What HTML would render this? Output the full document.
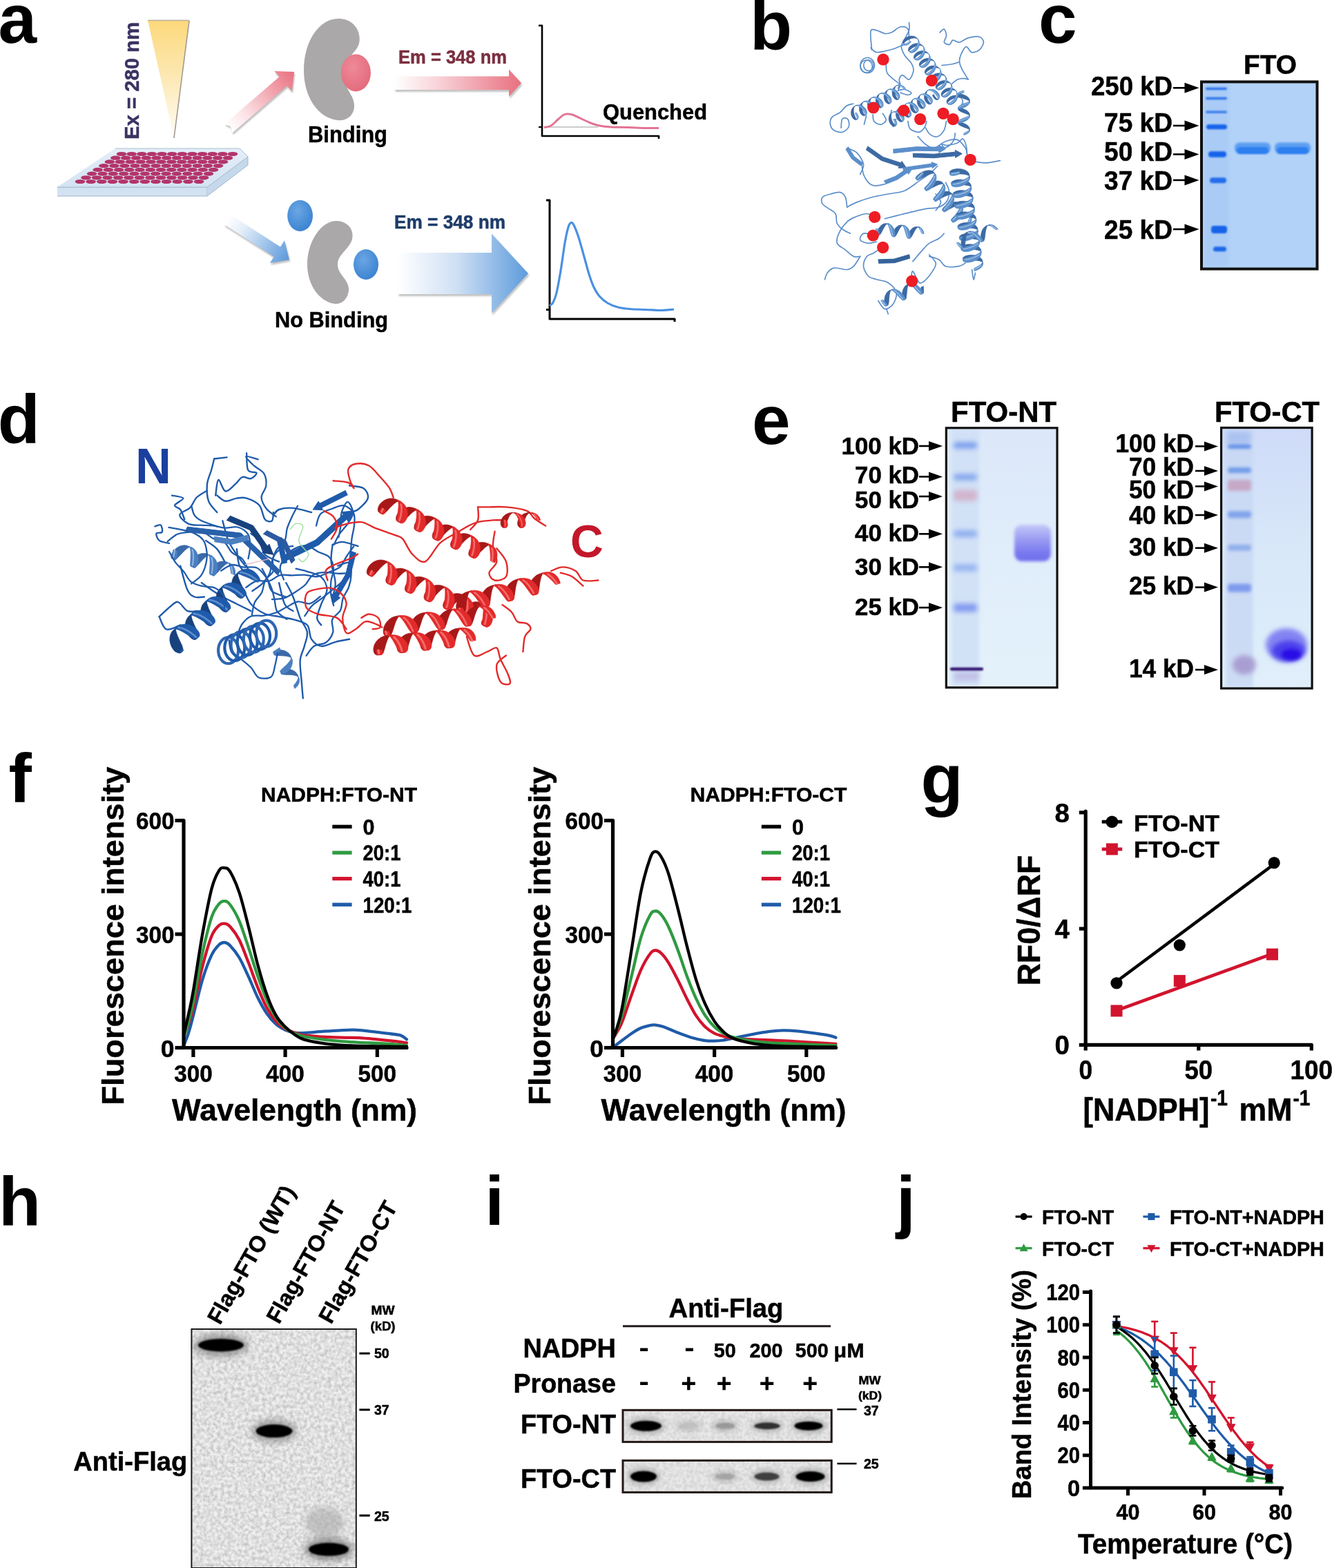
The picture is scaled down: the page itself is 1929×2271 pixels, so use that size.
<!DOCTYPE html>
<html><head><meta charset="utf-8"><title>FTO NADPH binding figure</title>
<style>
html,body{margin:0;padding:0;background:#fff;}
body{width:1929px;height:2271px;overflow:hidden;}
svg{display:block;font-family:'Liberation Sans', Arial, sans-serif;font-weight:bold;}
</style></head><body>
<svg width="1929" height="2271" viewBox="0 0 1929 2271">
<defs>
<linearGradient id="gWedge" x1="0" y1="0" x2="0" y2="1">
<stop offset="0" stop-color="#fcd97c"/><stop offset="0.45" stop-color="#fce7b0"/><stop offset="1" stop-color="#fffdf7"/></linearGradient>
<linearGradient id="gPinkH" x1="0" y1="0" x2="1" y2="0">
<stop offset="0" stop-color="#fff" stop-opacity="1"/><stop offset="0.35" stop-color="#f8d2d8"/><stop offset="1" stop-color="#e9707f"/></linearGradient>
<linearGradient id="gBlueH" x1="0" y1="0" x2="1" y2="0">
<stop offset="0" stop-color="#fff"/><stop offset="0.45" stop-color="#cfe0f4"/><stop offset="1" stop-color="#5d9bdc"/></linearGradient>
<radialGradient id="gPinkBall" cx="0.4" cy="0.35" r="0.7"><stop offset="0" stop-color="#ee8a98"/><stop offset="1" stop-color="#e36a7c"/></radialGradient>
<radialGradient id="gBlueBall" cx="0.4" cy="0.35" r="0.7"><stop offset="0" stop-color="#6aa6e4"/><stop offset="1" stop-color="#3a82d0"/></radialGradient>
<linearGradient id="gPlateTop" x1="0" y1="0" x2="0" y2="1"><stop offset="0" stop-color="#e4eef8"/><stop offset="1" stop-color="#d4e3f2"/></linearGradient>
<filter id="fShadow" x="-20%" y="-20%" width="140%" height="160%"><feGaussianBlur stdDeviation="1.2"/></filter>

<linearGradient id="gPinkD" gradientUnits="userSpaceOnUse" x1="331" y1="186" x2="426" y2="104"><stop offset="0" stop-color="#ffffff"/><stop offset="0.25" stop-color="#fbe3e6"/><stop offset="1" stop-color="#e9707f"/></linearGradient>
<linearGradient id="gBlueD" gradientUnits="userSpaceOnUse" x1="329" y1="318" x2="419" y2="376"><stop offset="0" stop-color="#ffffff"/><stop offset="0.25" stop-color="#e3eef9"/><stop offset="1" stop-color="#5a98da"/></linearGradient>
<filter id="fb1" x="-30%" y="-100%" width="160%" height="300%"><feGaussianBlur stdDeviation="1"/></filter>
<filter id="fb15" x="-30%" y="-100%" width="160%" height="300%"><feGaussianBlur stdDeviation="1.5"/></filter>
<filter id="fb2" x="-30%" y="-100%" width="160%" height="300%"><feGaussianBlur stdDeviation="2"/></filter>
<filter id="fb3" x="-30%" y="-100%" width="160%" height="300%"><feGaussianBlur stdDeviation="3.5"/></filter>
<filter id="fb5" x="-50%" y="-50%" width="200%" height="200%"><feGaussianBlur stdDeviation="5"/></filter>
<linearGradient id="gNT" x1="0" y1="0" x2="0" y2="1"><stop offset="0" stop-color="#dce8f9"/><stop offset="1" stop-color="#e4f2fb"/></linearGradient>
<linearGradient id="gNTb" x1="0" y1="0" x2="0" y2="1"><stop offset="0" stop-color="#c4c8f8"/><stop offset="0.45" stop-color="#9696f2"/><stop offset="0.8" stop-color="#7676ef"/><stop offset="1" stop-color="#7070ee"/></linearGradient>
<linearGradient id="gCT" x1="0" y1="0" x2="0" y2="1"><stop offset="0" stop-color="#cfdbf8"/><stop offset="0.5" stop-color="#d9e8f9"/><stop offset="1" stop-color="#e0effa"/></linearGradient>
<filter id="fnoise" x="0" y="0" width="100%" height="100%"><feTurbulence type="fractalNoise" baseFrequency="0.2" numOctaves="2" seed="3"/><feColorMatrix type="matrix" values="0 0 0 0 0  0 0 0 0 0  0 0 0 0 0  0 0 0 1.6 -0.5"/><feGaussianBlur stdDeviation="0.7"/></filter>
</defs>
<rect width="1929" height="2271" fill="#fff"/>
<text x="-2.5" y="62" font-size="100">a</text>
<text x="1086" y="71.5" font-size="100">b</text>
<text x="1504" y="61.5" font-size="100">c</text>
<text x="-3.2" y="642" font-size="100">d</text>
<text x="1089" y="642.5" font-size="100">e</text>
<text x="12.5" y="1161.5" font-size="100">f</text>
<text x="1333.4" y="1162.5" font-size="100">g</text>
<text x="-2" y="1774.5" font-size="100">h</text>
<text x="702.2" y="1774" font-size="100">i</text>
<text x="1298" y="1774" font-size="100">j</text>
<path d="M214 29.5 L274 29.5 L252 200" stroke="none" stroke-width="1" fill="url(#gWedge)"/>
<line x1="274" y1="30" x2="252" y2="200" stroke="#a09a90" stroke-width="1.6"/>
<line x1="214" y1="29.5" x2="274" y2="29.5" stroke="#b8b0a0" stroke-width="1.5"/>
<text x="201" y="202" font-size="29" fill="#3b3363" stroke="#3b3363" stroke-width="0.5" textLength="170" lengthAdjust="spacingAndGlyphs" transform="rotate(-90 201 202)">Ex = 280 nm</text>
<path d="M83 271 L300 271 L300 284 L83 284" stroke="#9fb4cb" stroke-width="1" fill="#d3e2f1"/>
<path d="M300 271 L359 227 L359 239 L300 284" stroke="#9fb4cb" stroke-width="1" fill="#c6d8eb"/>
<path d="M167 215 L347 215 L359 227 L300 271 L83 271" stroke="#a9bdd2" stroke-width="1" fill="url(#gPlateTop)"/>
<g fill="#b3346a"><ellipse cx="176" cy="223" rx="7.3" ry="3.1"/><ellipse cx="190.6" cy="223" rx="7.3" ry="3.1"/><ellipse cx="205.3" cy="223" rx="7.3" ry="3.1"/><ellipse cx="219.9" cy="223" rx="7.3" ry="3.1"/><ellipse cx="234.5" cy="223" rx="7.3" ry="3.1"/><ellipse cx="249.2" cy="223" rx="7.3" ry="3.1"/><ellipse cx="263.8" cy="223" rx="7.3" ry="3.1"/><ellipse cx="278.5" cy="223" rx="7.3" ry="3.1"/><ellipse cx="293.1" cy="223" rx="7.3" ry="3.1"/><ellipse cx="307.7" cy="223" rx="7.3" ry="3.1"/><ellipse cx="322.4" cy="223" rx="7.3" ry="3.1"/><ellipse cx="337" cy="223" rx="7.3" ry="3.1"/><ellipse cx="167.4" cy="228.7" rx="7.3" ry="3.1"/><ellipse cx="182.2" cy="228.7" rx="7.3" ry="3.1"/><ellipse cx="197" cy="228.7" rx="7.3" ry="3.1"/><ellipse cx="211.8" cy="228.7" rx="7.3" ry="3.1"/><ellipse cx="226.5" cy="228.7" rx="7.3" ry="3.1"/><ellipse cx="241.3" cy="228.7" rx="7.3" ry="3.1"/><ellipse cx="256.1" cy="228.7" rx="7.3" ry="3.1"/><ellipse cx="270.9" cy="228.7" rx="7.3" ry="3.1"/><ellipse cx="285.7" cy="228.7" rx="7.3" ry="3.1"/><ellipse cx="300.4" cy="228.7" rx="7.3" ry="3.1"/><ellipse cx="315.2" cy="228.7" rx="7.3" ry="3.1"/><ellipse cx="330" cy="228.7" rx="7.3" ry="3.1"/><ellipse cx="158.9" cy="234.4" rx="7.3" ry="3.1"/><ellipse cx="173.8" cy="234.4" rx="7.3" ry="3.1"/><ellipse cx="188.7" cy="234.4" rx="7.3" ry="3.1"/><ellipse cx="203.6" cy="234.4" rx="7.3" ry="3.1"/><ellipse cx="218.5" cy="234.4" rx="7.3" ry="3.1"/><ellipse cx="233.5" cy="234.4" rx="7.3" ry="3.1"/><ellipse cx="248.4" cy="234.4" rx="7.3" ry="3.1"/><ellipse cx="263.3" cy="234.4" rx="7.3" ry="3.1"/><ellipse cx="278.2" cy="234.4" rx="7.3" ry="3.1"/><ellipse cx="293.2" cy="234.4" rx="7.3" ry="3.1"/><ellipse cx="308.1" cy="234.4" rx="7.3" ry="3.1"/><ellipse cx="323" cy="234.4" rx="7.3" ry="3.1"/><ellipse cx="150.3" cy="240.1" rx="7.3" ry="3.1"/><ellipse cx="165.4" cy="240.1" rx="7.3" ry="3.1"/><ellipse cx="180.4" cy="240.1" rx="7.3" ry="3.1"/><ellipse cx="195.5" cy="240.1" rx="7.3" ry="3.1"/><ellipse cx="210.5" cy="240.1" rx="7.3" ry="3.1"/><ellipse cx="225.6" cy="240.1" rx="7.3" ry="3.1"/><ellipse cx="240.7" cy="240.1" rx="7.3" ry="3.1"/><ellipse cx="255.7" cy="240.1" rx="7.3" ry="3.1"/><ellipse cx="270.8" cy="240.1" rx="7.3" ry="3.1"/><ellipse cx="285.9" cy="240.1" rx="7.3" ry="3.1"/><ellipse cx="300.9" cy="240.1" rx="7.3" ry="3.1"/><ellipse cx="316" cy="240.1" rx="7.3" ry="3.1"/><ellipse cx="141.7" cy="245.9" rx="7.3" ry="3.1"/><ellipse cx="156.9" cy="245.9" rx="7.3" ry="3.1"/><ellipse cx="172.1" cy="245.9" rx="7.3" ry="3.1"/><ellipse cx="187.3" cy="245.9" rx="7.3" ry="3.1"/><ellipse cx="202.5" cy="245.9" rx="7.3" ry="3.1"/><ellipse cx="217.8" cy="245.9" rx="7.3" ry="3.1"/><ellipse cx="233" cy="245.9" rx="7.3" ry="3.1"/><ellipse cx="248.2" cy="245.9" rx="7.3" ry="3.1"/><ellipse cx="263.4" cy="245.9" rx="7.3" ry="3.1"/><ellipse cx="278.6" cy="245.9" rx="7.3" ry="3.1"/><ellipse cx="293.8" cy="245.9" rx="7.3" ry="3.1"/><ellipse cx="309" cy="245.9" rx="7.3" ry="3.1"/><ellipse cx="133.1" cy="251.6" rx="7.3" ry="3.1"/><ellipse cx="148.5" cy="251.6" rx="7.3" ry="3.1"/><ellipse cx="163.8" cy="251.6" rx="7.3" ry="3.1"/><ellipse cx="179.2" cy="251.6" rx="7.3" ry="3.1"/><ellipse cx="194.5" cy="251.6" rx="7.3" ry="3.1"/><ellipse cx="209.9" cy="251.6" rx="7.3" ry="3.1"/><ellipse cx="225.2" cy="251.6" rx="7.3" ry="3.1"/><ellipse cx="240.6" cy="251.6" rx="7.3" ry="3.1"/><ellipse cx="255.9" cy="251.6" rx="7.3" ry="3.1"/><ellipse cx="271.3" cy="251.6" rx="7.3" ry="3.1"/><ellipse cx="286.6" cy="251.6" rx="7.3" ry="3.1"/><ellipse cx="302" cy="251.6" rx="7.3" ry="3.1"/><ellipse cx="124.6" cy="257.3" rx="7.3" ry="3.1"/><ellipse cx="140.1" cy="257.3" rx="7.3" ry="3.1"/><ellipse cx="155.6" cy="257.3" rx="7.3" ry="3.1"/><ellipse cx="171.1" cy="257.3" rx="7.3" ry="3.1"/><ellipse cx="186.5" cy="257.3" rx="7.3" ry="3.1"/><ellipse cx="202" cy="257.3" rx="7.3" ry="3.1"/><ellipse cx="217.5" cy="257.3" rx="7.3" ry="3.1"/><ellipse cx="233" cy="257.3" rx="7.3" ry="3.1"/><ellipse cx="248.5" cy="257.3" rx="7.3" ry="3.1"/><ellipse cx="264" cy="257.3" rx="7.3" ry="3.1"/><ellipse cx="279.5" cy="257.3" rx="7.3" ry="3.1"/><ellipse cx="295" cy="257.3" rx="7.3" ry="3.1"/><ellipse cx="116" cy="263" rx="7.3" ry="3.1"/><ellipse cx="131.6" cy="263" rx="7.3" ry="3.1"/><ellipse cx="147.3" cy="263" rx="7.3" ry="3.1"/><ellipse cx="162.9" cy="263" rx="7.3" ry="3.1"/><ellipse cx="178.5" cy="263" rx="7.3" ry="3.1"/><ellipse cx="194.2" cy="263" rx="7.3" ry="3.1"/><ellipse cx="209.8" cy="263" rx="7.3" ry="3.1"/><ellipse cx="225.5" cy="263" rx="7.3" ry="3.1"/><ellipse cx="241.1" cy="263" rx="7.3" ry="3.1"/><ellipse cx="256.7" cy="263" rx="7.3" ry="3.1"/><ellipse cx="272.4" cy="263" rx="7.3" ry="3.1"/><ellipse cx="288" cy="263" rx="7.3" ry="3.1"/></g>
<path d="M337.8 195.2 L416.9 127 L424 135.3 L427.2 106.8 L398.6 105.8 L405.7 114.1 L326.6 182.4 L335.2 186.2" stroke="none" stroke-width="1" fill="#8a8a8a" opacity="0.55" filter="url(#fShadow)"/>
<path d="M336.6 192.4 L415.7 124.2 L422.8 132.5 L426 104 L397.4 103 L404.5 111.3 L325.4 179.6 L334 183.4" stroke="none" stroke-width="1" fill="url(#gPinkD)"/>
<path d="M325.6 327.9 L397.9 374.6 L392 383.8 L420.2 378.8 L413.1 351 L407.2 360.3 L334.8 313.7 L333.6 323" stroke="none" stroke-width="1" fill="#8a8a8a" opacity="0.55" filter="url(#fShadow)"/>
<path d="M324.4 325.1 L396.7 371.8 L390.8 381 L419 376 L411.9 348.2 L406 357.5 L333.6 310.9 L332.4 320.2" stroke="none" stroke-width="1" fill="url(#gBlueD)"/>
<path d="M572.5 113.5 L738.5 113.5 L738.5 103.5 L756.5 123.3 L738.5 143.1 L738.5 133.1 L572.5 133.1" stroke="none" stroke-width="1" fill="#8a8a8a" opacity="0.5" filter="url(#fShadow)"/>
<path d="M571 110.5 L737 110.5 L737 100.5 L755 120.3 L737 140.1 L737 130.1 L571 130.1" stroke="none" stroke-width="1" fill="url(#gPinkH)"/>
<path d="M577.5 369 L713.5 369 L713.5 341.5 L766.5 399 L713.5 456.5 L713.5 429 L577.5 429" stroke="none" stroke-width="1" fill="#8a8a8a" opacity="0.5" filter="url(#fShadow)"/>
<path d="M576 366 L712 366 L712 338.5 L765 396 L712 453.5 L712 426 L576 426" stroke="none" stroke-width="1" fill="url(#gBlueH)"/>
<path d="M490 27 C515 27 525 50 519 66 C512 80 496 88 495 104 C494 122 512 135 513 152 C514 168 500 176 488 174 C460 170 440 140 440 102 C440 60 462 27 490 27Z" stroke="none" stroke-width="1" fill="#aaa8a8"/>
<path d="M487 320 C503 320 513 332 510 346 C507 360 489 368 489 383 C489 398 506 405 505 420 C504 434 494 441 485 440 C462 437 445 412 445 383 C445 350 465 320 487 320Z" stroke="none" stroke-width="1" fill="#aaa8a8"/>
<ellipse cx="515.4" cy="105.4" rx="21.5" ry="27" fill="url(#gPinkBall)"/>
<ellipse cx="434.6" cy="312.4" rx="18.4" ry="22.7" fill="url(#gBlueBall)"/>
<ellipse cx="530" cy="383" rx="18" ry="22" fill="url(#gBlueBall)"/>
<text x="446" y="206.3" font-size="32.5" stroke="#000" stroke-width="0.5" textLength="115" lengthAdjust="spacingAndGlyphs">Binding</text>
<text x="577" y="92" font-size="27" fill="#7a2f40" stroke="#7a2f40" stroke-width="0.5" textLength="157" lengthAdjust="spacingAndGlyphs">Em = 348 nm</text>
<text x="873" y="173" font-size="32" stroke="#000" stroke-width="0.5" textLength="151" lengthAdjust="spacingAndGlyphs">Quenched</text>
<text x="398" y="474" font-size="32" stroke="#000" stroke-width="0.5" textLength="164" lengthAdjust="spacingAndGlyphs">No Binding</text>
<text x="571" y="331" font-size="28" fill="#1e3c6a" stroke="#1e3c6a" stroke-width="0.5" textLength="161" lengthAdjust="spacingAndGlyphs">Em = 348 nm</text>
<path d="M785 37 L785 197 L954 197" stroke="#000" stroke-width="2.6" fill="none" stroke-linejoin="round" stroke-linecap="round"/>
<line x1="780" y1="37" x2="785" y2="37" stroke="#000" stroke-width="2.6"/>
<line x1="780" y1="184" x2="785" y2="184" stroke="#000" stroke-width="2.2"/>
<line x1="954" y1="197" x2="954" y2="201" stroke="#000" stroke-width="2.6"/>
<line x1="789" y1="184" x2="866" y2="184" stroke="#9a9a9a" stroke-width="1"/>
<path d="M788 184.5 C789.7 184.1 794.7 183.9 798 182 C801.3 180.1 805 175.6 808 173 C811 170.4 813.7 167.8 816 166.5 C818.3 165.2 819.7 165 822 165 C824.3 165 826.7 165.3 830 166.5 C833.3 167.7 837.8 170.1 842 172 C846.2 173.9 850.7 176.3 855 178 C859.3 179.7 863 181 868 182 C873 183 878 183.6 885 184 C892 184.4 901.7 184.2 910 184.5 C918.3 184.8 927.7 185.3 935 185.5 C942.3 185.7 950.8 185.5 954 185.5" stroke="#e27494" stroke-width="3" fill="none"/>
<path d="M796 290 L796 462 L977 462" stroke="#000" stroke-width="3" fill="none" stroke-linejoin="round" stroke-linecap="round"/>
<line x1="791" y1="290" x2="796" y2="290" stroke="#000" stroke-width="3"/>
<line x1="791" y1="448.5" x2="796" y2="448.5" stroke="#000" stroke-width="3"/>
<line x1="977" y1="462" x2="977" y2="466" stroke="#000" stroke-width="3"/>
<path d="M796 443 C796.8 442.2 799.3 441.2 801 438 C802.7 434.8 804.2 431.7 806 424 C807.8 416.3 810 404 812 392 C814 380 816.2 362.5 818 352 C819.8 341.5 821.5 333.9 823 329 C824.5 324.1 825.7 323 827 322.5 C828.3 322 829.2 322.4 831 326 C832.8 329.6 835.5 336.3 838 344 C840.5 351.7 843.5 363.2 846 372 C848.5 380.8 850.7 389.7 853 397 C855.3 404.3 857.5 410.7 860 416 C862.5 421.3 864.7 425.2 868 429 C871.3 432.8 875.5 436.3 880 439 C884.5 441.7 889.7 443.6 895 445 C900.3 446.4 905.3 446.9 912 447.5 C918.7 448.1 927.3 448.2 935 448.5 C942.7 448.8 951.2 449.6 958 449.5 C964.8 449.4 973 448.2 976 448" stroke="#4a90e2" stroke-width="3.2" fill="none"/>
<path d="M1262.5 72.4 C1262.3 67.9 1259.9 50.2 1261 45.4 C1262 40.6 1265.4 43.3 1268.9 43.8 C1272.3 44.3 1277.9 48 1281.6 48.6 C1285.3 49.1 1287.4 48.6 1291.1 47 C1294.8 45.4 1299.8 39.8 1303.8 39 C1307.8 38.3 1312.8 39 1314.9 42.2 C1317 45.4 1316.2 55.4 1316.5 58.1" stroke="#5b8fcb" stroke-width="1.7" fill="none" stroke-linecap="round" stroke-linejoin="round"/>
<path d="M1261 69.2 C1262.3 70.3 1265.4 74.8 1268.9 75.6 C1272.3 76.3 1277.4 74.8 1281.6 74 C1285.8 73.2 1289.5 72.4 1294.3 70.8 C1299 69.2 1307.5 65.5 1310.2 64.4" stroke="#5b8fcb" stroke-width="1.7" fill="none" stroke-linecap="round" stroke-linejoin="round"/>
<path d="M1316.5 32.7 C1316.5 34.6 1317.6 39.8 1316.5 43.8 C1315.4 47.8 1312 52.5 1310.2 56.5 C1308.3 60.5 1305.4 63.7 1305.4 67.6 C1305.4 71.6 1307.8 76.3 1310.2 80.3 C1312.5 84.3 1317.6 87.7 1319.7 91.4 C1321.8 95.1 1323.4 98.6 1322.9 102.5 C1322.3 106.5 1319.2 114.2 1316.5 115.2 C1313.9 116.3 1309.4 108.9 1307 108.9 C1304.6 108.9 1302.8 112.9 1302.2 115.2 C1301.7 117.6 1304.1 120.5 1303.8 123.2 C1303.5 125.8 1301.2 129.8 1300.6 131.1" stroke="#5b8fcb" stroke-width="1.7" fill="none" stroke-linecap="round" stroke-linejoin="round"/>
<path d="M1361 47 C1362 46.2 1365.7 41.4 1367.3 42.2 C1368.9 43 1370.5 48.6 1370.5 51.7 C1370.5 54.9 1366.5 59.2 1367.3 61.3 C1368.1 63.4 1373.1 65 1375.2 64.4 C1377.4 63.9 1377.6 58.6 1380 58.1 C1382.4 57.6 1385.8 61.8 1389.5 61.3 C1393.2 60.7 1397.5 56.2 1402.2 54.9 C1407 53.6 1414.4 52.3 1418.1 53.3 C1421.8 54.4 1424.4 58.1 1424.4 61.3 C1424.4 64.4 1421 70 1418.1 72.4 C1415.2 74.8 1410.2 76.3 1407 75.6 C1403.8 74.8 1401.7 66.8 1399 67.6 C1396.4 68.4 1392.7 76.6 1391.1 80.3 C1389.5 84 1389.3 86.7 1389.5 89.8 C1389.8 93 1390.6 95.1 1392.7 99.4 C1394.8 103.6 1400.6 112.6 1402.2 115.2" stroke="#5b8fcb" stroke-width="1.7" fill="none" stroke-linecap="round" stroke-linejoin="round"/>
<path d="M1364.1 94.6 C1366.5 94.3 1374.2 93.8 1378.4 93 C1382.6 92.2 1387.7 90.4 1389.5 89.8" stroke="#5b8fcb" stroke-width="1.7" fill="none" stroke-linecap="round" stroke-linejoin="round"/>
<path d="M1283.2 93 C1283.4 95.1 1282.9 102 1284.8 105.7 C1286.6 109.4 1291.4 112.6 1294.3 115.2 C1297.2 117.9 1301.2 119.5 1302.2 121.6 C1303.3 123.7 1300.9 126.9 1300.6 127.9" stroke="#5b8fcb" stroke-width="1.7" fill="none" stroke-linecap="round" stroke-linejoin="round"/>
<path d="M1378.4 121.6 C1379.7 120.5 1383.4 116.6 1386.3 115.2 C1389.3 113.9 1393.2 113.7 1395.9 113.7 C1398.5 113.7 1401.2 115 1402.2 115.2" stroke="#5b8fcb" stroke-width="1.7" fill="none" stroke-linecap="round" stroke-linejoin="round"/>
<path d="M1235.6 150.2 C1234 150.7 1229.2 151.2 1226 153.3 C1222.9 155.4 1219.9 160.2 1216.5 162.9 C1213.1 165.5 1207.8 166.6 1205.4 169.2 C1203 171.9 1202 175.6 1202.2 178.7 C1202.5 181.9 1204.1 186.1 1207 188.3 C1209.9 190.4 1216 192.2 1219.7 191.4 C1223.4 190.6 1227.9 186.7 1229.2 183.5 C1230.5 180.3 1229.2 174.2 1227.6 172.4 C1226 170.5 1221.3 170.3 1219.7 172.4 C1218.1 174.5 1218.4 183 1218.1 185.1" stroke="#5b8fcb" stroke-width="1.7" fill="none" stroke-linecap="round" stroke-linejoin="round"/>
<path d="M1254.6 167.6 L1251.4 180.3" stroke="#5b8fcb" stroke-width="1.7" fill="none" stroke-linecap="round" stroke-linejoin="round"/>
<path d="M1264.1 166 C1264.4 167.6 1263.9 173.2 1265.7 175.6 C1267.6 177.9 1272.3 180.6 1275.2 180.3 C1278.1 180.1 1282.6 176.6 1283.2 174 C1283.7 171.3 1279.2 166 1278.4 164.4" stroke="#5b8fcb" stroke-width="1.7" fill="none" stroke-linecap="round" stroke-linejoin="round"/>
<path d="M1291.1 159.7 C1290.8 161.8 1289 168.4 1289.5 172.4 C1290.1 176.3 1293 183.5 1294.3 183.5 C1295.6 183.5 1296.9 174.2 1297.5 172.4" stroke="#5b8fcb" stroke-width="1.7" fill="none" stroke-linecap="round" stroke-linejoin="round"/>
<path d="M1314.9 175.6 C1315.4 177.4 1315.4 184 1318.1 186.7 C1320.7 189.3 1327.4 191.7 1330.8 191.4 C1334.2 191.2 1336.9 187.7 1338.7 185.1 C1340.6 182.4 1341.4 177.1 1341.9 175.6" stroke="#5b8fcb" stroke-width="1.7" fill="none" stroke-linecap="round" stroke-linejoin="round"/>
<path d="M1340.3 185.1 C1341.4 186.7 1343.8 192.5 1346.7 194.6 C1349.6 196.7 1354.3 198.8 1357.8 197.8 C1361.2 196.7 1365.2 192 1367.3 188.3 C1369.4 184.6 1369.9 177.7 1370.5 175.6" stroke="#5b8fcb" stroke-width="1.7" fill="none" stroke-linecap="round" stroke-linejoin="round"/>
<path d="M1383.2 193 C1382.9 194.6 1382.9 199.6 1381.6 202.5 C1380.3 205.4 1377.6 208.6 1375.2 210.5 C1372.9 212.3 1369.2 213.9 1367.3 213.7 C1365.4 213.4 1363.6 209.4 1364.1 208.9 C1364.7 208.4 1366.8 210.7 1370.5 210.5 C1374.2 210.2 1382.4 208.9 1386.3 207.3 C1390.3 205.7 1392.2 200.4 1394.3 201 C1396.4 201.5 1398 206.8 1399 210.5 C1400.1 214.2 1400.4 221.1 1400.6 223.2" stroke="#5b8fcb" stroke-width="1.7" fill="none" stroke-linecap="round" stroke-linejoin="round"/>
<path d="M1413.3 234.3 C1415.7 234.6 1421.8 236.1 1427.6 235.9 C1433.4 235.6 1444.8 233.2 1448.3 232.7" stroke="#5b8fcb" stroke-width="1.7" fill="none" stroke-linecap="round" stroke-linejoin="round"/>
<path d="M1300.6 131.1 C1302.2 130.8 1307 129 1310.2 129.5 C1313.3 130.1 1318.9 133 1319.7 134.3 C1320.5 135.6 1317.6 137.5 1314.9 137.5 C1312.3 137.5 1305.7 134.8 1303.8 134.3" stroke="#5b8fcb" stroke-width="1.7" fill="none" stroke-linecap="round" stroke-linejoin="round"/>
<path d="M1248.1 238.1 C1248.5 240.5 1248.9 248 1250.5 252.4 C1252.1 256.7 1254.8 261.5 1257.6 264.3 C1260.4 267.1 1263.2 268.7 1267.1 269 C1271.1 269.4 1279 267.1 1281.4 266.7" stroke="#5b8fcb" stroke-width="1.7" fill="none" stroke-linecap="round" stroke-linejoin="round"/>
<path d="M1357.6 240.5 C1356 242.1 1352.5 246.4 1348.1 250 C1343.7 253.6 1337.8 257.5 1331.4 261.9 C1325.1 266.3 1317.5 273 1310 276.2 C1302.5 279.4 1294.1 279.4 1286.2 281 C1278.3 282.5 1269.9 283.7 1262.4 285.7 C1254.8 287.7 1246.9 290.5 1241 292.9 C1235 295.2 1229 298.8 1226.7 300" stroke="#5b8fcb" stroke-width="1.7" fill="none" stroke-linecap="round" stroke-linejoin="round"/>
<path d="M1226.7 300 C1226.3 297.6 1225.9 289.3 1224.3 285.7 C1222.7 282.1 1220.7 279.4 1217.1 278.6 C1213.6 277.8 1207.2 279.8 1202.9 281 C1198.5 282.1 1192.9 283.3 1191 285.7 C1189 288.1 1189.4 292.5 1191 295.2 C1192.5 298 1197.3 300 1200.5 302.4 C1203.7 304.8 1208 306 1210 309.5 C1212 313.1 1210.4 319.8 1212.4 323.8 C1214.4 327.8 1218.7 331 1221.9 333.3 C1225.1 335.7 1229.8 337.3 1231.4 338.1" stroke="#5b8fcb" stroke-width="1.7" fill="none" stroke-linecap="round" stroke-linejoin="round"/>
<path d="M1369.5 264.3 C1370.3 266.3 1373.9 271.8 1374.3 276.2 C1374.7 280.6 1374.3 286.5 1371.9 290.5 C1369.5 294.4 1365.2 298 1360 300 C1354.8 302 1347.7 301.2 1341 302.4 C1334.2 303.6 1326.3 305.6 1319.5 307.1 C1312.8 308.7 1306.8 310.3 1300.5 311.9 C1294.1 313.5 1284.6 315.9 1281.4 316.7" stroke="#5b8fcb" stroke-width="1.7" fill="none" stroke-linecap="round" stroke-linejoin="round"/>
<path d="M1267.1 314.3 C1265.2 313.5 1260 309.5 1255.2 309.5 C1250.5 309.5 1243.3 312.3 1238.6 314.3 C1233.8 316.3 1230.6 317.5 1226.7 321.4 C1222.7 325.4 1217.1 332.9 1214.8 338.1 C1212.4 343.3 1210.8 348.4 1212.4 352.4 C1214 356.3 1220.3 358.7 1224.3 361.9 C1228.3 365.1 1232.6 369.8 1236.2 371.4 C1239.8 373 1244.1 371.4 1245.7 371.4" stroke="#5b8fcb" stroke-width="1.7" fill="none" stroke-linecap="round" stroke-linejoin="round"/>
<path d="M1245.7 371.4 C1244.1 373.8 1239.4 382.5 1236.2 385.7 C1233 388.9 1231.4 390.1 1226.7 390.5 C1221.9 390.9 1212.4 387.3 1207.6 388.1 C1202.9 388.9 1200.3 392.5 1198.1 395.2 C1195.9 398 1195.1 403.2 1194.5 404.8" stroke="#5b8fcb" stroke-width="1.7" fill="none" stroke-linecap="round" stroke-linejoin="round"/>
<path d="M1264.8 340.5 C1262.4 340.1 1253.7 336.9 1250.5 338.1 C1247.3 339.3 1244.5 345.2 1245.7 347.6 C1246.9 350 1253.7 352 1257.6 352.4 C1261.6 352.8 1267.5 350.4 1269.5 350" stroke="#5b8fcb" stroke-width="1.7" fill="none" stroke-linecap="round" stroke-linejoin="round"/>
<path d="M1279 357.1 C1276.7 358.7 1268.7 364.3 1264.8 366.7 C1260.8 369 1257.6 368.3 1255.2 371.4 C1252.9 374.6 1250.1 381 1250.5 385.7 C1250.9 390.5 1254.4 396.8 1257.6 400 C1260.8 403.2 1264.8 403.2 1269.5 404.8 C1274.3 406.3 1281.4 406.3 1286.2 409.5 C1291 412.7 1296.9 418.7 1298.1 423.8 C1299.3 429 1296.1 436.5 1293.3 440.5 C1290.6 444.4 1285 448.4 1281.4 447.6 C1277.9 446.8 1273.5 437.7 1271.9 435.7" stroke="#5b8fcb" stroke-width="1.7" fill="none" stroke-linecap="round" stroke-linejoin="round"/>
<path d="M1321.9 378.6 C1324.3 375.8 1332.2 366.3 1336.2 361.9 C1340.2 357.5 1341.7 355.2 1345.7 352.4 C1349.7 349.6 1356.4 347.6 1360 345.2 C1363.6 342.9 1366 339.3 1367.1 338.1" stroke="#5b8fcb" stroke-width="1.7" fill="none" stroke-linecap="round" stroke-linejoin="round"/>
<path d="M1345.7 369 C1347.3 371 1354.4 377 1355.2 381 C1356 384.9 1352.9 388.9 1350.5 392.9 C1348.1 396.8 1344.1 402 1341 404.8 C1337.8 407.5 1334.6 411.5 1331.4 409.5 C1328.3 407.5 1323.9 393.7 1321.9 392.9 C1319.9 392.1 1319.9 402.8 1319.5 404.8" stroke="#5b8fcb" stroke-width="1.7" fill="none" stroke-linecap="round" stroke-linejoin="round"/>
<path d="M1345.7 371.4 C1348.1 372.2 1356 373.8 1360 376.2 C1364 378.6 1364.8 384.1 1369.5 385.7 C1374.3 387.3 1383.8 386.5 1388.6 385.7 C1393.3 384.9 1396.5 381.7 1398.1 381" stroke="#5b8fcb" stroke-width="1.7" fill="none" stroke-linecap="round" stroke-linejoin="round"/>
<path d="M1407.6 390.5 C1408 392.9 1409.2 404 1410 404.8 C1410.8 405.6 1412 396.8 1412.4 395.2" stroke="#5b8fcb" stroke-width="1.7" fill="none" stroke-linecap="round" stroke-linejoin="round"/>
<path d="M1283.8 447.6 L1286.2 454.8" stroke="#5b8fcb" stroke-width="1.7" fill="none" stroke-linecap="round" stroke-linejoin="round"/>
<path d="M1226.7 214.3 C1229 215.5 1237 217.5 1241 221.4 C1244.9 225.4 1249.7 232.9 1250.5 238.1 C1251.3 243.3 1246.5 250 1245.7 252.4" stroke="#5b8fcb" stroke-width="1.7" fill="none" stroke-linecap="round" stroke-linejoin="round"/>
<path d="M1329 197.6 C1331 199.6 1337 206.7 1341 209.5 C1344.9 212.3 1348.1 215.1 1352.9 214.3 C1357.6 213.5 1364 206.7 1369.5 204.8 C1375.1 202.8 1381.4 200.8 1386.2 202.4 C1391 204 1395.7 210.7 1398.1 214.3 C1400.5 217.9 1400.1 222.2 1400.5 223.8" stroke="#5b8fcb" stroke-width="1.7" fill="none" stroke-linecap="round" stroke-linejoin="round"/>
<path d="M1355.2 281 C1356.4 282.9 1362.4 288.9 1362.4 292.9 C1362.4 296.8 1356.4 302.8 1355.2 304.8" stroke="#5b8fcb" stroke-width="1.7" fill="none" stroke-linecap="round" stroke-linejoin="round"/>
<ellipse cx="1256.2" cy="94.6" rx="10.3" ry="11.1" fill="none" stroke="#5b8fcb" stroke-width="1.6"/>
<ellipse cx="1254.6" cy="96.2" rx="8.7" ry="9.2" fill="none" stroke="#5b8fcb" stroke-width="1.6"/>
<ellipse cx="1257.8" cy="94.6" rx="7.1" ry="7.9" fill="none" stroke="#5b8fcb" stroke-width="1.6"/>
<path d="M1308.6 63.6 L1309 62.8 L1309.7 61.7 L1310.9 60.5 L1312.4 59.2 L1314.3 58 L1316.4 56.9 L1318.6 56 L1320.9 55.4 L1323.1 55 L1325.2 55 L1327 55.4 L1328.5 56.1 L1329.6 57.2 L1330.7 59.1 L1329.7 57.7 L1329 56.3 L1327.5 54.7 L1325.6 53.4 L1323.4 52.6 L1321 52.2 L1318.6 52.2 L1316.2 52.7 L1313.9 53.5 L1311.9 54.7 L1310.1 56.1 L1308.8 57.7 L1307.9 59.3 L1307.5 60.8 L1307.6 62.2ZM1316.6 74.4 L1316.9 73.5 L1317.6 72.4 L1318.8 71.2 L1320.4 70 L1322.2 68.8 L1324.3 67.7 L1326.6 66.8 L1328.8 66.1 L1331.1 65.8 L1333.1 65.8 L1335 66.1 L1336.5 66.9 L1337.6 67.9 L1338.7 69.9 L1337.6 68.5 L1336.9 67.1 L1335.4 65.5 L1333.5 64.2 L1331.3 63.3 L1329 62.9 L1326.5 63 L1324.1 63.5 L1321.8 64.3 L1319.8 65.5 L1318.1 66.9 L1316.7 68.4 L1315.9 70 L1315.5 71.6 L1315.5 73ZM1324.5 85.2 L1324.8 84.3 L1325.6 83.2 L1326.8 82 L1328.3 80.7 L1330.2 79.5 L1332.3 78.4 L1334.5 77.5 L1336.8 76.9 L1339 76.5 L1341.1 76.5 L1342.9 76.9 L1344.4 77.6 L1345.5 78.7 L1344.9 77.9 L1343.3 76.2 L1341.5 74.9 L1339.3 74.1 L1336.9 73.7 L1334.5 73.7 L1332.1 74.2 L1329.8 75.1 L1327.7 76.2 L1326 77.6 L1324.7 79.2 L1323.8 80.8 L1323.4 82.3 L1323.5 83.8ZM1332.4 95.9 L1332.8 95 L1333.5 94 L1334.7 92.8 L1336.2 91.5 L1338.1 90.3 L1340.2 89.2 L1342.4 88.3 L1344.7 87.6 L1346.9 87.3 L1349 87.3 L1350.8 87.7 L1352.3 88.4 L1353.4 89.5 L1352.8 88.6 L1351.3 87 L1349.4 85.7 L1347.2 84.9 L1344.9 84.5 L1342.4 84.5 L1340 85 L1337.7 85.8 L1335.7 87 L1333.9 88.4 L1332.6 89.9 L1331.7 91.5 L1331.3 93.1 L1331.4 94.5ZM1340.4 106.7 L1340.7 105.8 L1341.5 104.7 L1342.6 103.5 L1344.2 102.3 L1346 101.1 L1348.1 100 L1350.4 99 L1352.7 98.4 L1354.9 98 L1356.9 98 L1358.8 98.4 L1360.3 99.1 L1361.4 100.2 L1360.8 99.4 L1359.2 97.7 L1357.3 96.5 L1355.1 95.6 L1352.8 95.2 L1350.3 95.3 L1347.9 95.7 L1345.6 96.6 L1343.6 97.7 L1341.9 99.1 L1340.5 100.7 L1339.7 102.3 L1339.3 103.9 L1339.3 105.3ZM1348.4 118.1 L1348.3 117.4 L1348.6 116.6 L1349.4 115.5 L1350.6 114.3 L1352.1 113 L1354 111.8 L1356.1 110.7 L1358.3 109.8 L1360.6 109.2 L1362.8 108.8 L1364.9 108.8 L1366.7 109.2 L1368.2 109.9 L1369.3 111 L1370.4 112.9 L1369.4 111.5 L1368.7 110.1 L1367.2 108.5 L1365.3 107.2 L1363.1 106.4 L1360.7 106 L1358.3 106 L1355.9 106.5 L1353.6 107.3 L1351.5 108.5 L1349.8 109.9 L1348.5 111.4 L1347.6 113.1 L1347.2 114.6 L1347.3 116 L1347.8 117.2ZM1356.4 128.8 L1356.3 128.2 L1356.6 127.3 L1357.3 126.2 L1358.5 125 L1360.1 123.8 L1361.9 122.6 L1364 121.5 L1366.2 120.6 L1368.5 119.9 L1370.7 119.6 L1372.8 119.6 L1374.6 119.9 L1376.1 120.7 L1377.3 121.7 L1378.4 123.7 L1377.3 122.3 L1376.6 120.9 L1375.1 119.2 L1373.2 118 L1371 117.1 L1368.7 116.7 L1366.2 116.8 L1363.8 117.2 L1361.5 118.1 L1359.5 119.3 L1357.8 120.7 L1356.4 122.2 L1355.5 123.8 L1355.1 125.4 L1355.2 126.8 L1355.8 128ZM1364.3 139.6 L1364.2 139 L1364.5 138.1 L1365.3 137 L1366.4 135.8 L1368 134.5 L1369.9 133.3 L1372 132.2 L1374.2 131.3 L1376.5 130.7 L1378.7 130.3 L1380.7 130.3 L1382.6 130.7 L1384.1 131.4 L1385.2 132.5 L1384.6 131.6 L1383 130 L1381.1 128.7 L1379 127.9 L1376.6 127.5 L1374.2 127.5 L1371.7 128 L1369.5 128.8 L1367.4 130 L1365.7 131.4 L1364.4 133 L1363.5 134.6 L1363.1 136.1 L1363.2 137.5 L1363.7 138.7ZM1372.1 149.7 L1372.4 148.8 L1373.2 147.8 L1374.4 146.6 L1375.9 145.3 L1377.8 144.1 L1379.9 143 L1382.1 142.1 L1384.4 141.4 L1386.6 141.1 L1388.7 141.1 L1390.5 141.4 L1392 142.2 L1393.1 143.2 L1394.2 145.1 L1393.2 143.8 L1392.5 142.4 L1391 140.8 L1389.1 139.5 L1386.9 138.7 L1384.5 138.3 L1382.1 138.3 L1379.7 138.8 L1377.4 139.6 L1375.3 140.8 L1373.6 142.2 L1372.3 143.7 L1371.4 145.3 L1371 146.9 L1371.1 148.3Z" stroke="#3c6aa3" stroke-width="0.8" fill="#3c6aa3" stroke-linejoin="round"/>
<path d="M1319.3 60.8 L1317.7 62.6 L1315.9 64 L1314.2 64.9 L1312.5 65.4 L1311 65.5 L1309.7 65.1 L1308.8 64.3 L1308.6 63.6 L1307.6 62.2 L1308.1 63.4 L1308.7 63.8 L1309.7 63.8 L1311.1 63.5 L1312.7 62.9 L1314.4 62 L1316.3 60.7 L1318 59.1ZM1330.7 59.1 L1331.4 61.3 L1331.6 63.6 L1331.2 66 L1330.5 68.3 L1329.3 70.5 L1327.8 72.4 L1326.1 74.1 L1324.3 75.3 L1322.4 76.1 L1320.6 76.5 L1319 76.4 L1317.7 75.9 L1316.7 75 L1316.6 74.4 L1315.5 73 L1316.1 74.2 L1316.6 74.5 L1317.6 74.4 L1318.8 74 L1320.3 73.3 L1322 72.2 L1323.7 70.7 L1325.4 69.1 L1326.9 67.2 L1328.2 65.2 L1329.2 63.2 L1329.8 61.2 L1330 59.4 L1329.7 57.7ZM1338.7 69.9 L1339.3 72.1 L1339.5 74.4 L1339.2 76.8 L1338.4 79.1 L1337.3 81.3 L1335.8 83.2 L1334.1 84.8 L1332.2 86 L1330.3 86.9 L1328.5 87.2 L1326.9 87.1 L1325.6 86.7 L1324.6 85.8 L1324.5 85.2 L1323.5 83.8 L1324 84.9 L1324.6 85.2 L1325.5 85.2 L1326.8 84.8 L1328.3 84 L1329.9 82.9 L1331.6 81.5 L1333.3 79.8 L1334.8 78 L1336.1 76 L1337.1 73.9 L1337.7 72 L1337.9 70.1 L1337.6 68.5ZM1345.5 78.7 L1346.6 80.6 L1347.3 82.8 L1347.4 85.2 L1347.1 87.5 L1346.4 89.9 L1345.2 92 L1343.7 94 L1342 95.6 L1340.2 96.8 L1338.3 97.6 L1336.5 98 L1334.9 97.9 L1333.5 97.4 L1332.6 96.5 L1332.4 95.9 L1331.4 94.5 L1332 95.7 L1332.5 96 L1333.4 96 L1334.7 95.6 L1336.2 94.8 L1337.8 93.7 L1339.6 92.3 L1341.2 90.6 L1342.7 88.7 L1344 86.7 L1345 84.7 L1345.6 82.7 L1345.8 80.9 L1345.6 79.2 L1344.9 77.9ZM1353.4 89.5 L1354.6 91.4 L1355.2 93.6 L1355.4 95.9 L1355.1 98.3 L1354.3 100.6 L1353.1 102.8 L1351.7 104.7 L1349.9 106.3 L1348.1 107.6 L1346.2 108.4 L1344.4 108.7 L1342.8 108.7 L1341.5 108.2 L1340.5 107.3 L1340.4 106.7 L1339.3 105.3 L1339.9 106.5 L1340.4 106.8 L1341.4 106.7 L1342.6 106.3 L1344.1 105.5 L1345.8 104.4 L1347.5 103 L1349.2 101.3 L1350.7 99.5 L1352 97.5 L1353 95.5 L1353.6 93.5 L1353.8 91.6 L1353.5 90 L1352.8 88.6ZM1361.4 100.2 L1362.5 102.2 L1363.1 104.3 L1363.3 106.7 L1363 109.1 L1362.2 111.4 L1361.1 113.5 L1359.6 115.5 L1357.9 117.1 L1356 118.3 L1354.2 119.1 L1352.4 119.5 L1350.7 119.4 L1349.4 118.9 L1348.4 118.1 L1347.8 117.2 L1348.4 117.5 L1349.3 117.5 L1350.6 117.1 L1352.1 116.3 L1353.7 115.2 L1355.4 113.8 L1357.1 112.1 L1358.6 110.2 L1359.9 108.2 L1360.9 106.2 L1361.5 104.3 L1361.7 102.4 L1361.5 100.8 L1360.8 99.4ZM1370.4 112.9 L1371.1 115.1 L1371.2 117.4 L1370.9 119.8 L1370.2 122.1 L1369 124.3 L1367.5 126.2 L1365.8 127.8 L1364 129.1 L1362.1 129.9 L1360.3 130.3 L1358.7 130.2 L1357.4 129.7 L1356.4 128.8 L1355.8 128 L1356.3 128.3 L1357.2 128.2 L1358.5 127.8 L1360 127.1 L1361.7 125.9 L1363.4 124.5 L1365 122.9 L1366.6 121 L1367.9 119 L1368.8 117 L1369.4 115 L1369.6 113.2 L1369.4 111.5ZM1378.4 123.7 L1379 125.9 L1379.2 128.2 L1378.9 130.6 L1378.1 132.9 L1376.9 135.1 L1375.5 137 L1373.7 138.6 L1371.9 139.8 L1370 140.6 L1368.2 141 L1366.6 140.9 L1365.3 140.4 L1364.3 139.6 L1363.7 138.7 L1364.3 139 L1365.2 139 L1366.4 138.6 L1367.9 137.8 L1369.6 136.7 L1371.3 135.3 L1373 133.6 L1374.5 131.7 L1375.8 129.8 L1376.8 127.7 L1377.4 125.8 L1377.6 123.9 L1377.3 122.3ZM1385.2 132.5 L1386.3 134.4 L1386.9 136.6 L1387.1 139 L1386.8 141.3 L1386 143.6 L1384.9 145.8 L1383.4 147.7 L1381.7 149.4 L1379.8 150.6 L1378 151.4 L1376.2 151.8 L1374.6 151.7 L1373.2 151.2 L1372.3 150.3 L1372.1 149.7 L1371.1 148.3 L1371.6 149.5 L1372.2 149.8 L1373.1 149.8 L1374.4 149.3 L1375.9 148.6 L1377.5 147.5 L1379.2 146 L1380.9 144.4 L1382.4 142.5 L1383.7 140.5 L1384.7 138.5 L1385.3 136.5 L1385.5 134.7 L1385.3 133 L1384.6 131.6ZM1394.2 145.1 L1394.8 147.2 L1394.9 149.4 L1394.4 151.7 L1393.6 153.8 L1392.3 155.9 L1390.7 157.7 L1389.5 156 L1390.9 154 L1392.1 151.8 L1392.9 149.7 L1393.5 147.5 L1393.6 145.6 L1393.2 143.8Z" stroke="#5b8fcb" stroke-width="0.8" fill="#5b8fcb" stroke-linejoin="round"/>
<path d="M1318.5 59.7 L1316.8 61.4 L1315 62.7 L1313.2 63.6 L1311.6 64.2M1330.4 62.1 L1329.9 64.2 L1329 66.3 L1327.7 68.4 L1326.2 70.2 L1324.5 71.9 L1322.8 73.3 L1321.1 74.3 L1319.4 74.9M1338.3 72.8 L1337.8 74.9 L1336.9 77.1 L1335.7 79.1 L1334.2 81 L1332.5 82.7 L1330.7 84 L1329 85 L1327.4 85.6M1346.3 83.6 L1345.8 85.7 L1344.9 87.8 L1343.6 89.9 L1342.1 91.8 L1340.4 93.4 L1338.7 94.8 L1336.9 95.8 L1335.3 96.4M1354.2 94.3 L1353.7 96.5 L1352.8 98.6 L1351.5 100.6 L1350 102.5 L1348.3 104.2 L1346.6 105.5 L1344.9 106.5 L1343.3 107.2M1362.1 105.1 L1361.6 107.2 L1360.7 109.3 L1359.5 111.4 L1358 113.3 L1356.3 114.9 L1354.5 116.3 L1352.8 117.3 L1351.2 117.9M1370.1 115.9 L1369.6 118 L1368.7 120.1 L1367.4 122.1 L1365.9 124 L1364.2 125.7 L1362.5 127 L1360.7 128 L1359.1 128.7M1378 126.6 L1377.5 128.7 L1376.6 130.9 L1375.4 132.9 L1373.8 134.8 L1372.2 136.4 L1370.4 137.8 L1368.7 138.8 L1367.1 139.4M1385.9 137.4 L1385.4 139.5 L1384.5 141.6 L1383.3 143.7 L1381.8 145.6 L1380.1 147.2 L1378.3 148.6 L1376.6 149.6 L1375 150.2M1393.9 148.2 L1393.5 150.4 L1392.6 152.5 L1391.4 154.6 L1389.9 156.6" stroke="#b4d0ee" stroke-width="1" fill="none" stroke-linecap="round" opacity="0.8"/>
<path d="M1241.1 172.9 L1240.4 172.4 L1239.6 171.5 L1238.8 170.3 L1238 168.6 L1237.3 166.8 L1236.7 164.7 L1236.3 162.6 L1236.1 160.4 L1236.2 158.4 L1236.5 156.5 L1237.2 154.9 L1238.1 153.7 L1239.2 152.9 L1241.2 152.2 L1239.6 153 L1238.3 153.4 L1236.5 154.5 L1235 156 L1233.8 157.8 L1233 159.9 L1232.6 162.1 L1232.6 164.4 L1232.9 166.5 L1233.6 168.6 L1234.5 170.3 L1235.7 171.8 L1236.9 172.8 L1238.2 173.5 L1239.5 173.6ZM1253 167 L1252.3 166.6 L1251.5 165.7 L1250.7 164.4 L1249.9 162.8 L1249.2 160.9 L1248.6 158.9 L1248.2 156.7 L1248 154.6 L1248.1 152.5 L1248.4 150.7 L1249.1 149.1 L1250 147.9 L1251.1 147.1 L1253.1 146.4 L1251.5 147.1 L1250.2 147.5 L1248.4 148.7 L1246.9 150.2 L1245.7 152 L1244.9 154.1 L1244.5 156.3 L1244.5 158.5 L1244.8 160.7 L1245.5 162.8 L1246.4 164.5 L1247.6 166 L1248.8 167 L1250.2 167.6 L1251.4 167.8ZM1264.9 161.2 L1264.2 160.8 L1263.5 159.9 L1262.6 158.6 L1261.8 157 L1261.1 155.1 L1260.5 153.1 L1260.1 150.9 L1259.9 148.8 L1260 146.7 L1260.3 144.9 L1261 143.3 L1261.9 142.1 L1263 141.3 L1265 140.6 L1263.4 141.3 L1262.1 141.7 L1260.3 142.9 L1258.8 144.4 L1257.6 146.2 L1256.8 148.3 L1256.4 150.5 L1256.4 152.7 L1256.7 154.9 L1257.4 156.9 L1258.3 158.7 L1259.5 160.2 L1260.7 161.2 L1262.1 161.8 L1263.3 162ZM1276.8 155.4 L1276.1 154.9 L1275.4 154.1 L1274.5 152.8 L1273.7 151.2 L1273 149.3 L1272.4 147.2 L1272 145.1 L1271.8 142.9 L1271.9 140.9 L1272.2 139.1 L1272.9 137.5 L1273.8 136.3 L1274.9 135.4 L1276.9 134.7 L1275.3 135.5 L1274 135.9 L1272.2 137 L1270.7 138.5 L1269.5 140.4 L1268.7 142.4 L1268.3 144.7 L1268.3 146.9 L1268.6 149.1 L1269.3 151.1 L1270.2 152.9 L1271.4 154.3 L1272.6 155.4 L1274 156 L1275.2 156.2ZM1289.2 149.6 L1288.7 149.6 L1288 149.1 L1287.3 148.2 L1286.4 147 L1285.6 145.4 L1284.9 143.5 L1284.3 141.4 L1283.9 139.3 L1283.7 137.1 L1283.8 135.1 L1284.1 133.2 L1284.8 131.7 L1285.7 130.4 L1286.8 129.6 L1288.8 128.9 L1287.2 129.7 L1285.9 130.1 L1284.1 131.2 L1282.6 132.7 L1281.4 134.6 L1280.6 136.6 L1280.2 138.8 L1280.2 141.1 L1280.5 143.3 L1281.2 145.3 L1282.1 147.1 L1283.3 148.5 L1284.6 149.6 L1285.9 150.2 L1287.1 150.4 L1288.3 150.1ZM1301.1 143.8 L1300.6 143.8 L1299.9 143.3 L1299.2 142.4 L1298.3 141.2 L1297.5 139.5 L1296.8 137.7 L1296.2 135.6 L1295.8 133.4 L1295.6 131.3 L1295.7 129.3 L1296 127.4 L1296.7 125.8 L1297.6 124.6 L1298.7 123.8 L1300.6 123.1 L1299.2 123.8 L1297.8 124.3 L1296 125.4 L1294.5 126.9 L1293.3 128.7 L1292.5 130.8 L1292.1 133 L1292.1 135.3 L1292.4 137.4 L1293.1 139.5 L1294 141.2 L1295.2 142.7 L1296.5 143.7 L1297.8 144.4 L1299 144.5 L1300.2 144.2Z" stroke="#3c6aa3" stroke-width="0.8" fill="#3c6aa3" stroke-linejoin="round"/>
<path d="M1240 163.1 L1241.4 164.8 L1242.4 166.5 L1243 168.2 L1243.2 169.8 L1243 171.1 L1242.5 172.2 L1241.6 172.9 L1241.1 172.9 L1239.5 173.6 L1240.6 173.3 L1241 172.9 L1241.1 172.1 L1241.1 170.8 L1240.7 169.3 L1240.1 167.6 L1239.3 165.8 L1238.1 164ZM1241.2 152.2 L1243.3 151.9 L1245.5 152.1 L1247.6 152.8 L1249.6 153.8 L1251.4 155.2 L1252.9 156.8 L1254.1 158.6 L1254.9 160.4 L1255.3 162.2 L1255.4 163.8 L1255.1 165.2 L1254.4 166.3 L1253.5 167.1 L1253 167 L1251.4 167.8 L1252.6 167.5 L1252.8 167.1 L1252.9 166.3 L1252.7 165.2 L1252.2 163.7 L1251.4 162.1 L1250.4 160.4 L1249.1 158.6 L1247.7 157 L1246.1 155.5 L1244.4 154.3 L1242.7 153.5 L1241.1 153 L1239.6 153ZM1253.1 146.4 L1255.2 146.1 L1257.4 146.3 L1259.5 147 L1261.5 148 L1263.3 149.4 L1264.8 151 L1266 152.7 L1266.8 154.6 L1267.2 156.4 L1267.3 158 L1267 159.4 L1266.3 160.5 L1265.4 161.2 L1264.9 161.2 L1263.3 162 L1264.5 161.7 L1264.7 161.3 L1264.8 160.5 L1264.6 159.3 L1264.1 157.9 L1263.3 156.3 L1262.3 154.5 L1261 152.8 L1259.6 151.2 L1258 149.7 L1256.3 148.5 L1254.7 147.7 L1253 147.2 L1251.5 147.1ZM1265 140.6 L1267.1 140.3 L1269.3 140.5 L1271.4 141.1 L1273.4 142.2 L1275.2 143.5 L1276.7 145.1 L1277.9 146.9 L1278.7 148.7 L1279.1 150.5 L1279.2 152.2 L1278.9 153.6 L1278.2 154.7 L1277.3 155.4 L1276.8 155.4 L1275.2 156.2 L1276.4 155.9 L1276.7 155.5 L1276.7 154.7 L1276.5 153.5 L1276 152.1 L1275.2 150.5 L1274.2 148.7 L1272.9 147 L1271.5 145.3 L1269.9 143.9 L1268.2 142.7 L1266.6 141.8 L1264.9 141.4 L1263.4 141.3ZM1276.9 134.7 L1279 134.5 L1281.2 134.7 L1283.3 135.3 L1285.3 136.4 L1287.1 137.7 L1288.6 139.3 L1289.8 141.1 L1290.6 142.9 L1291 144.7 L1291.1 146.4 L1290.8 147.8 L1290.1 148.9 L1289.2 149.6 L1288.3 150.1 L1288.6 149.7 L1288.6 148.8 L1288.4 147.7 L1287.9 146.3 L1287.1 144.6 L1286.1 142.9 L1284.8 141.2 L1283.4 139.5 L1281.8 138.1 L1280.1 136.9 L1278.5 136 L1276.8 135.5 L1275.3 135.5ZM1288.8 128.9 L1290.9 128.7 L1293.1 128.9 L1295.2 129.5 L1297.2 130.5 L1299 131.9 L1300.5 133.5 L1301.7 135.3 L1302.5 137.1 L1303 138.9 L1303 140.5 L1302.7 142 L1302 143.1 L1301.1 143.8 L1300.2 144.2 L1300.5 143.8 L1300.5 143 L1300.3 141.9 L1299.8 140.4 L1299 138.8 L1298 137.1 L1296.7 135.4 L1295.3 133.7 L1293.7 132.2 L1292 131 L1290.4 130.2 L1288.7 129.7 L1287.2 129.7ZM1300.6 123.1 L1302.7 122.9 L1304.7 123.2 L1306.7 123.9 L1308.5 125 L1310.1 126.5 L1311.5 128.1 L1309.6 129.1 L1308 127.5 L1306.2 126.1 L1304.4 125 L1302.6 124.2 L1300.8 123.8 L1299.2 123.8Z" stroke="#5b8fcb" stroke-width="0.8" fill="#5b8fcb" stroke-linejoin="round"/>
<path d="M1238.8 163.7 L1240 165.4 L1240.9 167.2 L1241.5 168.9 L1241.8 170.5M1243.7 153 L1245.5 153.8 L1247.3 154.9 L1249 156.4 L1250.4 158 L1251.7 159.7 L1252.6 161.5 L1253.3 163.2 L1253.6 164.7M1255.6 147.2 L1257.4 148 L1259.2 149.1 L1260.9 150.5 L1262.3 152.2 L1263.6 153.9 L1264.5 155.7 L1265.2 157.4 L1265.5 158.9M1267.5 141.4 L1269.3 142.1 L1271.1 143.3 L1272.8 144.7 L1274.2 146.3 L1275.5 148.1 L1276.4 149.9 L1277.1 151.5 L1277.4 153.1M1279.4 135.5 L1281.2 136.3 L1283 137.5 L1284.7 138.9 L1286.1 140.5 L1287.4 142.3 L1288.3 144 L1289 145.7 L1289.3 147.2M1291.3 129.7 L1293.1 130.5 L1294.9 131.6 L1296.6 133.1 L1298 134.7 L1299.3 136.5 L1300.2 138.2 L1300.9 139.9 L1301.2 141.4M1303.3 123.9 L1305.2 124.6 L1307 125.7 L1308.7 127.1 L1310.2 128.7" stroke="#b4d0ee" stroke-width="1" fill="none" stroke-linecap="round" opacity="0.8"/>
<path d="M1297.5 181.8 L1297 181.8 L1296.3 181.5 L1295.4 180.7 L1294.4 179.5 L1293.4 178 L1292.4 176.2 L1291.6 174.3 L1290.9 172.2 L1290.5 170.1 L1290.3 168.1 L1290.5 166.2 L1290.9 164.6 L1291.6 163.4 L1292.7 162.4 L1291.8 163 L1290.2 164.3 L1288.8 165.9 L1287.9 167.8 L1287.4 169.9 L1287.2 172.1 L1287.4 174.4 L1288 176.5 L1288.9 178.4 L1290.1 180.1 L1291.4 181.4 L1292.8 182.3 L1294.2 182.7 L1295.5 182.7 L1296.6 182.3ZM1307.8 175.4 L1307.3 175.5 L1306.5 175.1 L1305.6 174.3 L1304.6 173.2 L1303.6 171.7 L1302.7 169.9 L1301.8 167.9 L1301.2 165.8 L1300.8 163.8 L1300.6 161.7 L1300.7 159.9 L1301.2 158.3 L1301.9 157 L1302.9 156.1 L1304.8 155.2 L1303.3 156.1 L1302 156.6 L1300.4 157.9 L1299.1 159.6 L1298.2 161.5 L1297.6 163.6 L1297.5 165.8 L1297.7 168 L1298.3 170.1 L1299.2 172.1 L1300.3 173.7 L1301.6 175 L1303 175.9 L1304.5 176.4 L1305.8 176.4 L1306.9 176ZM1317.5 169.1 L1316.8 168.8 L1315.9 168 L1314.9 166.8 L1313.9 165.3 L1312.9 163.5 L1312.1 161.6 L1311.4 159.5 L1311 157.4 L1310.9 155.4 L1311 153.5 L1311.4 151.9 L1312.2 150.7 L1313.2 149.7 L1312.3 150.3 L1310.7 151.6 L1309.4 153.2 L1308.4 155.1 L1307.9 157.2 L1307.7 159.5 L1307.9 161.7 L1308.5 163.8 L1309.4 165.7 L1310.6 167.4 L1311.9 168.7 L1313.3 169.6 L1314.7 170 L1316 170ZM1328.3 162.7 L1327.8 162.8 L1327 162.4 L1326.1 161.6 L1325.1 160.5 L1324.1 159 L1323.2 157.2 L1322.4 155.2 L1321.7 153.1 L1321.3 151.1 L1321.1 149 L1321.2 147.2 L1321.7 145.6 L1322.4 144.3 L1323.4 143.4 L1325.3 142.5 L1323.8 143.4 L1322.5 143.9 L1320.9 145.2 L1319.6 146.9 L1318.7 148.8 L1318.1 150.9 L1318 153.1 L1318.2 155.3 L1318.8 157.4 L1319.7 159.4 L1320.8 161 L1322.2 162.3 L1323.6 163.2 L1325 163.7 L1326.3 163.7 L1327.4 163.3ZM1338.6 156.4 L1338 156.4 L1337.3 156.1 L1336.4 155.3 L1335.4 154.1 L1334.4 152.6 L1333.5 150.8 L1332.6 148.9 L1332 146.8 L1331.5 144.7 L1331.4 142.7 L1331.5 140.8 L1331.9 139.2 L1332.7 138 L1333.7 137 L1332.8 137.6 L1331.2 138.9 L1329.9 140.5 L1328.9 142.4 L1328.4 144.5 L1328.2 146.8 L1328.5 149 L1329 151.1 L1329.9 153 L1331.1 154.7 L1332.4 156 L1333.8 156.9 L1335.2 157.3 L1336.5 157.3 L1337.7 156.9ZM1348.8 150 L1348.3 150.1 L1347.5 149.7 L1346.6 148.9 L1345.7 147.8 L1344.7 146.3 L1343.7 144.5 L1342.9 142.5 L1342.2 140.5 L1341.8 138.4 L1341.6 136.3 L1341.7 134.5 L1342.2 132.9 L1342.9 131.6 L1343.9 130.7 L1345.8 129.8 L1344.3 130.7 L1343.1 131.2 L1341.4 132.5 L1340.1 134.2 L1339.2 136.1 L1338.6 138.2 L1338.5 140.4 L1338.7 142.6 L1339.3 144.7 L1340.2 146.7 L1341.4 148.3 L1342.7 149.6 L1344.1 150.5 L1345.5 151 L1346.8 151 L1347.9 150.6ZM1359.1 143.7 L1358.5 143.8 L1357.6 143.5 L1356.6 142.8 L1355.5 141.7 L1354.3 140.3 L1353.2 138.6 L1352.2 136.7 L1350.5 137.8 L1351.2 139.9 L1352.2 141.6 L1353.4 143 L1354.6 144 L1355.9 144.5 L1357.1 144.6 L1358.2 144.2Z" stroke="#3c6aa3" stroke-width="0.8" fill="#3c6aa3" stroke-linejoin="round"/>
<path d="M1295.3 172 L1296.7 173.6 L1297.9 175.2 L1298.6 176.9 L1298.9 178.5 L1298.8 179.9 L1298.4 181 L1297.5 181.8 L1296.6 182.3 L1297 181.8 L1297.1 180.9 L1296.9 179.7 L1296.5 178.2 L1295.7 176.6 L1294.7 174.8 L1293.5 173.1ZM1292.7 162.4 L1294.5 161.6 L1296.6 161.1 L1298.7 161.1 L1300.8 161.6 L1302.9 162.4 L1304.8 163.6 L1306.4 165.1 L1307.7 166.8 L1308.7 168.5 L1309.3 170.3 L1309.5 172 L1309.2 173.4 L1308.7 174.6 L1307.8 175.4 L1306.9 176 L1307.2 175.5 L1307.2 174.7 L1306.9 173.5 L1306.3 172.1 L1305.4 170.6 L1304.2 168.9 L1302.8 167.3 L1301.3 165.8 L1299.6 164.5 L1297.9 163.4 L1296.1 162.7 L1294.5 162.4 L1293 162.5 L1291.8 163ZM1304.8 155.2 L1306.8 154.8 L1309 154.8 L1311.1 155.2 L1313.2 156.1 L1315 157.3 L1316.7 158.8 L1318 160.4 L1319 162.2 L1319.5 163.9 L1319.7 165.6 L1319.5 167.1 L1318.9 168.2 L1318 169.1 L1317.5 169.1 L1316 170 L1317.2 169.6 L1317.4 169.2 L1317.4 168.3 L1317.2 167.2 L1316.5 165.8 L1315.7 164.2 L1314.5 162.6 L1313.1 161 L1311.5 159.4 L1309.8 158.1 L1308.1 157.1 L1306.4 156.4 L1304.8 156 L1303.3 156.1ZM1313.2 149.7 L1315 148.9 L1317.1 148.4 L1319.2 148.4 L1321.4 148.9 L1323.4 149.7 L1325.3 150.9 L1326.9 152.4 L1328.2 154.1 L1329.2 155.8 L1329.8 157.6 L1330 159.3 L1329.8 160.7 L1329.2 161.9 L1328.3 162.7 L1327.4 163.3 L1327.7 162.8 L1327.7 162 L1327.4 160.8 L1326.8 159.4 L1325.9 157.9 L1324.7 156.2 L1323.4 154.6 L1321.8 153.1 L1320.1 151.8 L1318.4 150.7 L1316.7 150 L1315 149.7 L1313.6 149.8 L1312.3 150.3ZM1325.3 142.5 L1327.3 142.1 L1329.5 142.1 L1331.6 142.5 L1333.7 143.4 L1335.5 144.6 L1337.2 146.1 L1338.5 147.7 L1339.5 149.5 L1340 151.2 L1340.2 152.9 L1340 154.4 L1339.4 155.5 L1338.6 156.4 L1337.7 156.9 L1338 156.5 L1338 155.6 L1337.7 154.5 L1337.1 153.1 L1336.2 151.5 L1335 149.9 L1333.6 148.3 L1332 146.7 L1330.4 145.4 L1328.6 144.4 L1326.9 143.7 L1325.3 143.3 L1323.8 143.4ZM1333.7 137 L1335.6 136.2 L1337.6 135.7 L1339.7 135.7 L1341.9 136.2 L1343.9 137 L1345.8 138.2 L1347.4 139.7 L1348.8 141.4 L1349.7 143.1 L1350.3 144.9 L1350.5 146.6 L1350.3 148 L1349.7 149.2 L1348.8 150 L1347.9 150.6 L1348.2 150.1 L1348.2 149.3 L1347.9 148.1 L1347.3 146.7 L1346.4 145.2 L1345.3 143.5 L1343.9 141.9 L1342.3 140.4 L1340.6 139.1 L1338.9 138 L1337.2 137.3 L1335.5 137 L1334.1 137.1 L1332.8 137.6ZM1345.8 129.8 L1347.9 129.4 L1350 129.4 L1352.1 129.8 L1354.2 130.7 L1356.1 131.9 L1357.7 133.4 L1359 135 L1360 136.8 L1360.6 138.5 L1360.7 140.2 L1360.5 141.7 L1360 142.8 L1359.1 143.7 L1358.2 144.2 L1358.5 143.8 L1358.5 142.9 L1358.2 141.8 L1357.6 140.4 L1356.7 138.8 L1355.5 137.2 L1354.1 135.6 L1352.6 134 L1350.9 132.7 L1349.1 131.7 L1347.4 131 L1345.8 130.7 L1344.3 130.7Z" stroke="#5b8fcb" stroke-width="0.8" fill="#5b8fcb" stroke-linejoin="round"/>
<path d="M1294.1 172.7 L1295.4 174.4 L1296.5 176.1 L1297.2 177.8 L1297.6 179.3M1297 162.2 L1298.9 162.8 L1300.7 163.8 L1302.5 165 L1304.1 166.5 L1305.5 168.2 L1306.6 169.9 L1307.3 171.5 L1307.8 173M1307.3 155.8 L1309.2 156.4 L1311 157.4 L1312.8 158.7 L1314.3 160.2 L1315.7 161.8 L1316.8 163.5 L1317.6 165.1 L1318 166.6M1317.6 149.5 L1319.4 150.1 L1321.3 151.1 L1323 152.3 L1324.6 153.8 L1326 155.5 L1327.1 157.2 L1327.9 158.8 L1328.3 160.3M1327.8 143.1 L1329.7 143.7 L1331.5 144.7 L1333.3 146 L1334.9 147.5 L1336.2 149.1 L1337.3 150.8 L1338.1 152.4 L1338.6 153.9M1338.1 136.8 L1339.9 137.4 L1341.8 138.4 L1343.5 139.6 L1345.1 141.1 L1346.5 142.8 L1347.6 144.5 L1348.4 146.1 L1348.8 147.6M1348.3 130.4 L1350.2 131 L1352 132 L1353.8 133.3 L1355.4 134.8 L1356.7 136.4 L1357.8 138.1 L1358.6 139.7 L1359.1 141.2" stroke="#b4d0ee" stroke-width="1" fill="none" stroke-linecap="round" opacity="0.8"/>
<path d="M1387.6 137.9 L1388.2 138.8 L1389.2 139.7 L1390.6 140.5 L1392.2 141.4 L1394 142.1 L1395.9 142.9 L1397.8 143.6 L1399.6 144.3 L1401.2 144.9 L1402.5 145.6 L1403.5 146.1 L1404.2 146.7 L1404.4 147.3 L1404.2 148.8 L1404.2 146.5 L1404.4 145.9 L1404.2 144.4 L1403.5 143 L1402.5 141.6 L1401.2 140.3 L1399.6 139.2 L1397.8 138.2 L1395.9 137.4 L1394 136.8 L1392.2 136.3 L1390.6 135.9 L1389.2 135.7 L1388.2 135.6 L1387.6 135.6ZM1387.6 158.5 L1388.2 159.4 L1389.2 160.3 L1390.6 161.2 L1392.2 162 L1394 162.8 L1395.9 163.5 L1397.8 164.3 L1399.6 164.9 L1401.2 165.6 L1402.5 166.2 L1403.5 166.8 L1404.2 167.3 L1404.4 167.9 L1404.2 169.4 L1404.2 167.1 L1404.4 166.5 L1404.2 165.1 L1403.5 163.6 L1402.5 162.2 L1401.2 161 L1399.6 159.8 L1397.8 158.9 L1395.9 158 L1394 157.4 L1392.2 156.9 L1390.6 156.6 L1389.2 156.3 L1388.2 156.2 L1387.6 156.2ZM1387.6 179.1 L1388.2 180 L1389.2 180.9 L1390.6 181.8 L1392.2 182.6 L1394 183.4 L1395.9 184.2 L1397.8 184.9 L1399.6 185.6 L1401.2 186.2 L1402.5 186.8 L1403.5 187.4 L1404.2 188 L1404.4 188.5 L1404.2 189.9 L1404.2 187.8 L1404.4 187.2 L1404.2 185.7 L1403.5 184.2 L1402.5 182.9 L1401.2 181.6 L1399.6 180.5 L1397.8 179.5 L1395.9 178.7 L1394 178 L1392.2 177.5 L1390.6 177.2 L1389.2 177 L1388.2 176.9 L1387.6 176.8Z" stroke="#3c6aa3" stroke-width="0.8" fill="#3c6aa3" stroke-linejoin="round"/>
<path d="M1395.9 133.8 L1394 134.6 L1392.2 135.4 L1390.6 136 L1389.2 136.4 L1388.2 136.7 L1387.6 136.9 L1387.4 137 L1387.6 137.9 L1387.6 135.6 L1387.4 135.6 L1387.6 134.8 L1388.2 134 L1389.2 133.3 L1390.6 132.7 L1392.2 132.1 L1394 131.5 L1395.9 131ZM1404.2 148.8 L1403.5 150.2 L1402.5 151.6 L1401.2 152.8 L1399.6 154 L1397.8 155 L1395.9 155.8 L1394 156.4 L1392.2 156.9 L1390.6 157.3 L1389.2 157.5 L1388.2 157.6 L1387.6 157.6 L1387.4 157.6 L1387.6 158.5 L1387.6 156.2 L1387.4 156.2 L1387.6 155.3 L1388.2 154.4 L1389.2 153.5 L1390.6 152.7 L1392.2 151.8 L1394 151 L1395.9 150.3 L1397.8 149.6 L1399.6 148.9 L1401.2 148.2 L1402.5 147.6 L1403.5 147 L1404.2 146.5ZM1404.2 169.4 L1403.5 170.8 L1402.5 172.2 L1401.2 173.5 L1399.6 174.6 L1397.8 175.6 L1395.9 176.4 L1394 177.1 L1392.2 177.5 L1390.6 177.9 L1389.2 178.1 L1388.2 178.2 L1387.6 178.2 L1387.4 178.2 L1387.6 179.1 L1387.6 176.8 L1387.4 176.9 L1387.6 175.9 L1388.2 175 L1389.2 174.2 L1390.6 173.3 L1392.2 172.5 L1394 171.7 L1395.9 170.9 L1397.8 170.2 L1399.6 169.5 L1401.2 168.9 L1402.5 168.3 L1403.5 167.7 L1404.2 167.1ZM1404.2 189.9 L1403.5 191.2 L1402.5 192.4 L1401.2 193.4 L1399.6 194.3 L1397.8 195.1 L1395.9 195.7 L1395.9 192.9 L1397.8 192 L1399.6 191.1 L1401.2 190.2 L1402.5 189.3 L1403.5 188.5 L1404.2 187.8Z" stroke="#5b8fcb" stroke-width="0.8" fill="#5b8fcb" stroke-linejoin="round"/>
<path d="M1395.9 132 L1394 132.6 L1392.2 133.2 L1390.6 133.8 L1389.2 134.4M1402.5 149 L1401.2 149.8 L1399.6 150.7 L1397.8 151.4 L1395.9 152.2 L1394 152.9 L1392.2 153.6 L1390.6 154.3 L1389.2 154.9M1402.5 169.6 L1401.2 170.5 L1399.6 171.3 L1397.8 172.1 L1395.9 172.8 L1394 173.6 L1392.2 174.2 L1390.6 174.9 L1389.2 175.5M1402.5 190.4 L1401.2 191.3 L1399.6 192.2 L1397.8 193.1 L1395.9 193.9" stroke="#b4d0ee" stroke-width="1" fill="none" stroke-linecap="round" opacity="0.8"/>
<path d="M1328.4 260.9 L1329.4 260.6 L1330.9 259.9 L1332.8 259 L1335 257.8 L1337.5 256.5 L1340.1 255.1 L1342.8 253.8 L1345.5 252.7 L1347.9 251.8 L1350.1 251.2 L1351.9 250.9 L1353.3 251.1 L1354.2 251.7 L1355.4 253.5 L1353 250.7 L1352.5 249.7 L1350.9 248.2 L1348.9 247.3 L1346.4 246.8 L1343.8 246.9 L1340.9 247.3 L1338.1 248.2 L1335.3 249.4 L1332.7 250.8 L1330.5 252.4 L1328.6 254 L1327.2 255.6 L1326.4 257 L1326 258.1ZM1341.3 276.1 L1342.3 275.8 L1343.7 275.2 L1345.6 274.2 L1347.9 273 L1350.4 271.7 L1353 270.4 L1355.7 269.1 L1358.3 267.9 L1360.8 267 L1363 266.4 L1364.8 266.2 L1366.2 266.3 L1367.1 266.9 L1368.2 268.7 L1365.8 265.9 L1365.4 264.9 L1363.8 263.5 L1361.7 262.5 L1359.3 262.1 L1356.6 262.1 L1353.8 262.6 L1350.9 263.4 L1348.2 264.6 L1345.6 266.1 L1343.3 267.7 L1341.5 269.3 L1340.1 270.8 L1339.2 272.2 L1338.9 273.3ZM1354.1 291.4 L1355.1 291.1 L1356.6 290.4 L1358.5 289.4 L1360.7 288.3 L1363.2 286.9 L1365.9 285.6 L1368.5 284.3 L1371.2 283.2 L1373.6 282.2 L1375.8 281.6 L1377.6 281.4 L1379 281.6 L1379.9 282.1 L1378.3 280.1 L1376.6 278.7 L1374.6 277.8 L1372.2 277.3 L1369.5 277.3 L1366.7 277.8 L1363.8 278.7 L1361 279.9 L1358.5 281.3 L1356.2 282.9 L1354.3 284.5 L1353 286.1 L1352.1 287.4 L1351.8 288.5ZM1366.5 306.5 L1367 306.6 L1368 306.3 L1369.5 305.6 L1371.3 304.7 L1373.6 303.5 L1376.1 302.2 L1378.7 300.8 L1381.4 299.5 L1384 298.4 L1386.5 297.5 L1388.7 296.9 L1390.5 296.6 L1391.9 296.8 L1392.8 297.4 L1393.9 299.2 L1391.5 296.4 L1391.1 295.4 L1389.5 294 L1387.4 293 L1385 292.6 L1382.3 292.6 L1379.5 293 L1376.6 293.9 L1373.9 295.1 L1371.3 296.5 L1369.1 298.1 L1367.2 299.8 L1365.8 301.3 L1364.9 302.7 L1364.6 303.8 L1364.8 304.5ZM1379.9 321.9 L1380.9 321.5 L1382.3 320.9 L1384.2 319.9 L1386.4 318.7 L1388.9 317.4 L1391.6 316.1 L1394.3 314.8 L1396.9 313.6 L1399.3 312.7 L1401.5 312.1 L1403.4 311.9 L1404.7 312 L1405.7 312.6 L1406.7 314.4 L1404.5 311.7 L1404 310.6 L1402.4 309.2 L1400.3 308.3 L1397.9 307.8 L1395.2 307.8 L1392.4 308.3 L1389.5 309.1 L1386.7 310.3 L1384.2 311.8 L1381.9 313.4 L1380.1 315 L1378.7 316.5 L1377.8 317.9 L1377.5 319Z" stroke="#3c6aa3" stroke-width="0.8" fill="#3c6aa3" stroke-linejoin="round"/>
<path d="M1337.5 252 L1335.9 254.5 L1334.1 256.8 L1332.4 258.6 L1330.9 259.9 L1329.6 260.7 L1328.5 261 L1327.9 260.8 L1328.4 260.9 L1326 258.1 L1326.2 258.8 L1326.3 258.4 L1326.9 257.6 L1328 256.5 L1329.5 255.1 L1331.2 253.3 L1333.2 251.3 L1335.1 249.2ZM1355.4 253.5 L1355.9 255.7 L1356 258.1 L1355.5 260.8 L1354.6 263.5 L1353.2 266.2 L1351.6 268.7 L1349.7 271 L1347.8 273 L1345.9 274.5 L1344.1 275.6 L1342.6 276.2 L1341.5 276.4 L1340.8 276.1 L1341.3 276.1 L1338.9 273.3 L1339.1 274 L1339.1 273.5 L1339.6 272.6 L1340.5 271.3 L1341.7 269.6 L1343.3 267.6 L1345 265.4 L1346.8 263 L1348.5 260.5 L1350.1 258.1 L1351.4 255.9 L1352.3 253.8 L1352.9 252.1 L1353 250.7ZM1368.2 268.7 L1368.8 270.9 L1368.8 273.4 L1368.4 276 L1367.4 278.7 L1366.1 281.4 L1364.5 283.9 L1362.6 286.2 L1360.7 288.2 L1358.7 289.7 L1357 290.8 L1355.5 291.5 L1354.3 291.6 L1353.6 291.3 L1354.1 291.4 L1351.8 288.5 L1352 289.3 L1352 288.8 L1352.4 287.9 L1353.3 286.5 L1354.6 284.8 L1356.1 282.8 L1357.8 280.6 L1359.6 278.2 L1361.3 275.8 L1362.9 273.4 L1364.2 271.1 L1365.2 269.1 L1365.7 267.3 L1365.8 265.9ZM1379.9 282.1 L1381.1 284 L1381.7 286.2 L1381.7 288.6 L1381.2 291.3 L1380.3 294 L1379 296.6 L1377.3 299.2 L1375.5 301.5 L1373.5 303.4 L1371.6 305 L1369.8 306.1 L1368.3 306.7 L1367.2 306.9 L1366.5 306.5 L1364.8 304.5 L1364.8 304 L1365.3 303.1 L1366.2 301.8 L1367.5 300.1 L1369 298.1 L1370.7 295.8 L1372.5 293.4 L1374.2 291 L1375.8 288.6 L1377.1 286.3 L1378.1 284.3 L1378.6 282.5 L1378.7 281.1 L1378.3 280.1ZM1393.9 299.2 L1394.5 301.4 L1394.6 303.9 L1394.1 306.5 L1393.2 309.2 L1391.8 311.9 L1390.2 314.4 L1388.3 316.7 L1386.4 318.7 L1384.5 320.2 L1382.7 321.3 L1381.2 322 L1380.1 322.1 L1379.4 321.8 L1379.9 321.9 L1377.5 319 L1377.7 319.8 L1377.7 319.3 L1378.1 318.3 L1379 317 L1380.3 315.3 L1381.8 313.3 L1383.6 311.1 L1385.3 308.7 L1387.1 306.2 L1388.6 303.8 L1389.9 301.6 L1390.9 299.5 L1391.5 297.8 L1391.5 296.4ZM1406.7 314.4 L1407.2 316.4 L1407 318.6 L1406.4 321 L1405.2 323.5 L1403.7 325.9 L1401.8 328.2 L1399.4 325.4 L1400.9 322.7 L1402.3 320 L1403.4 317.5 L1404.2 315.2 L1404.5 313.3 L1404.5 311.7Z" stroke="#5b8fcb" stroke-width="0.8" fill="#5b8fcb" stroke-linejoin="round"/>
<path d="M1336 250.2 L1334.1 252.5 L1332.2 254.5 L1330.5 256.3 L1329 257.7M1353.6 255.3 L1352.8 257.6 L1351.6 260 L1350.2 262.5 L1348.5 265 L1346.7 267.3 L1344.9 269.5 L1343.2 271.3 L1341.8 272.8M1366.5 270.6 L1365.7 272.8 L1364.5 275.3 L1363 277.7 L1361.3 280.2 L1359.5 282.6 L1357.7 284.7 L1356.1 286.5 L1354.6 288M1379.3 285.8 L1378.5 288.1 L1377.4 290.5 L1375.9 293 L1374.2 295.5 L1372.4 297.8 L1370.6 299.9 L1368.9 301.8 L1367.5 303.3M1392.2 301 L1391.4 303.3 L1390.2 305.7 L1388.7 308.2 L1387 310.7 L1385.2 313 L1383.4 315.2 L1381.8 317 L1380.3 318.5M1405.2 316.4 L1404.4 318.8 L1403.3 321.3 L1401.9 323.8 L1400.2 326.4" stroke="#b4d0ee" stroke-width="1.3" fill="none" stroke-linecap="round" opacity="0.8"/>
<path d="M1375.9 252.5 L1376.9 252.4 L1378.6 252.2 L1380.8 252.1 L1383.5 251.9 L1386.4 251.9 L1389.6 251.9 L1392.8 252.1 L1395.8 252.3 L1398.6 252.8 L1400.9 253.4 L1402.7 254.2 L1403.9 255.1 L1404.4 256.1 L1404.4 258.4 L1403.8 254.7 L1404 253.5 L1403.3 251.4 L1402 249.5 L1400 247.8 L1397.6 246.4 L1394.7 245.4 L1391.6 244.8 L1388.5 244.5 L1385.3 244.6 L1382.4 245 L1379.8 245.7 L1377.7 246.6 L1376.2 247.7 L1375.3 248.8ZM1378.3 268.1 L1379.3 268 L1380.9 267.9 L1383.2 267.7 L1385.8 267.6 L1388.8 267.5 L1392 267.5 L1395.1 267.7 L1398.2 268 L1400.9 268.4 L1403.3 269 L1405.1 269.8 L1406.3 270.7 L1406.8 271.7 L1406.8 274 L1406.2 270.3 L1406.4 269.1 L1405.7 267 L1404.4 265.1 L1402.4 263.4 L1400 262 L1397.1 261 L1394 260.4 L1390.8 260.1 L1387.7 260.2 L1384.8 260.6 L1382.2 261.3 L1380.1 262.3 L1378.6 263.3 L1377.7 264.5ZM1380.6 283.7 L1381.7 283.6 L1383.3 283.5 L1385.5 283.3 L1388.2 283.2 L1391.2 283.1 L1394.4 283.1 L1397.5 283.3 L1400.6 283.6 L1403.3 284 L1405.7 284.6 L1407.5 285.4 L1408.6 286.3 L1409.2 287.3 L1408.8 284.8 L1408.1 282.6 L1406.7 280.7 L1404.8 279 L1402.3 277.6 L1399.5 276.6 L1396.4 276 L1393.2 275.7 L1390.1 275.8 L1387.2 276.2 L1384.6 276.9 L1382.5 277.9 L1381 278.9 L1380.1 280.1ZM1383 299.3 L1384 299.2 L1385.7 299.1 L1387.9 298.9 L1390.6 298.8 L1393.6 298.7 L1396.7 298.7 L1399.9 298.9 L1402.9 299.2 L1405.7 299.6 L1408 300.2 L1409.8 301 L1411 301.9 L1411.5 303 L1411.1 300.4 L1410.5 298.2 L1409.1 296.3 L1407.2 294.6 L1404.7 293.3 L1401.9 292.2 L1398.8 291.6 L1395.6 291.3 L1392.5 291.4 L1389.5 291.8 L1387 292.5 L1384.9 293.5 L1383.3 294.5 L1382.5 295.7ZM1385.4 314.9 L1386.4 314.8 L1388.1 314.7 L1390.3 314.5 L1393 314.4 L1396 314.3 L1399.1 314.3 L1402.3 314.5 L1405.3 314.8 L1408.1 315.2 L1410.4 315.8 L1412.2 316.6 L1413.4 317.5 L1413.9 318.6 L1413.5 316 L1412.8 313.9 L1411.5 311.9 L1409.6 310.2 L1407.1 308.9 L1404.3 307.8 L1401.2 307.2 L1398 306.9 L1394.8 307 L1391.9 307.4 L1389.3 308.2 L1387.2 309.1 L1385.7 310.1 L1384.8 311.3ZM1387.4 330.6 L1387.8 330.6 L1388.8 330.4 L1390.5 330.3 L1392.7 330.1 L1395.4 330 L1398.3 329.9 L1401.5 329.9 L1404.7 330.1 L1407.7 330.4 L1410.5 330.8 L1412.8 331.4 L1414.6 332.2 L1415.8 333.1 L1416.3 334.2 L1416.3 336.4 L1415.7 332.7 L1415.9 331.6 L1415.2 329.5 L1413.9 327.5 L1411.9 325.8 L1409.5 324.5 L1406.6 323.5 L1403.6 322.8 L1400.4 322.5 L1397.2 322.6 L1394.3 323.1 L1391.7 323.8 L1389.6 324.7 L1388.1 325.8 L1387.2 326.9 L1387 328ZM1389.8 346.2 L1390.2 346.2 L1391.2 346 L1392.9 345.9 L1395.1 345.7 L1397.7 345.6 L1400.7 345.5 L1403.9 345.6 L1407 345.7 L1410.1 346 L1412.8 346.4 L1415.2 347.1 L1417 347.8 L1418.2 348.7 L1418.7 349.8 L1418.7 352 L1418.1 348.3 L1418.3 347.2 L1417.6 345.1 L1416.3 343.1 L1414.3 341.5 L1411.9 340.1 L1409 339.1 L1405.9 338.4 L1402.7 338.1 L1399.6 338.2 L1396.7 338.7 L1394.1 339.4 L1392 340.3 L1390.5 341.4 L1389.6 342.5 L1389.4 343.6ZM1392.2 361.8 L1392.5 361.8 L1393.6 361.7 L1395.2 361.5 L1397.5 361.3 L1400.1 361.2 L1403.1 361.1 L1406.3 361.2 L1409.4 361.3 L1412.5 361.6 L1415.2 362.1 L1417.6 362.7 L1419.4 363.4 L1420.5 364.3 L1421.1 365.4 L1420.7 362.8 L1420 360.7 L1418.6 358.7 L1416.7 357.1 L1414.2 355.7 L1411.4 354.7 L1408.3 354 L1405.1 353.8 L1402 353.8 L1399.1 354.3 L1396.5 355 L1394.4 355.9 L1392.9 357 L1392 358.1 L1391.8 359.2ZM1394.9 377.4 L1396 377.3 L1397.6 377.1 L1399.8 376.9 L1402.5 376.8 L1405.5 376.7 L1408.6 376.8 L1411.8 376.9 L1414.8 377.2 L1417.6 377.7 L1419.9 378.3 L1421.7 379 L1422.9 380 L1423.4 381 L1423.4 383.1 L1422.9 379.7 L1423 378.4 L1422.4 376.3 L1421 374.4 L1419.1 372.7 L1416.6 371.3 L1413.8 370.3 L1410.7 369.6 L1407.5 369.4 L1404.4 369.5 L1401.4 369.9 L1398.9 370.6 L1396.8 371.5 L1395.2 372.6 L1394.4 373.7Z" stroke="#3c6aa3" stroke-width="0.8" fill="#3c6aa3" stroke-linejoin="round"/>
<path d="M1389.6 251.9 L1386.6 253.1 L1383.7 253.9 L1381.1 254.3 L1378.9 254.3 L1377.2 254 L1376 253.4 L1375.5 252.5 L1375.9 252.5 L1375.3 248.8 L1375.1 250 L1375.5 250 L1376.5 250 L1378.2 249.9 L1380.4 249.7 L1383.1 249.4 L1386 248.9 L1389 248.2ZM1404.4 258.4 L1403.7 260.6 L1402.3 262.8 L1400.4 264.8 L1398 266.6 L1395.2 268.2 L1392.3 269.4 L1389.2 270.2 L1386.3 270.7 L1383.6 270.8 L1381.4 270.5 L1379.6 270 L1378.4 269.2 L1377.9 268.2 L1378.3 268.1 L1377.7 264.5 L1377.5 265.6 L1377.9 265.5 L1378.9 265.3 L1380.5 264.9 L1382.7 264.4 L1385.3 263.8 L1388.1 262.9 L1391.1 262 L1394.1 260.9 L1396.9 259.7 L1399.4 258.5 L1401.5 257.2 L1403 255.9 L1403.8 254.7ZM1406.8 274 L1406.1 276.2 L1404.7 278.4 L1402.8 280.4 L1400.4 282.3 L1397.6 283.8 L1394.6 285 L1391.6 285.9 L1388.7 286.3 L1386 286.4 L1383.7 286.2 L1382 285.6 L1380.8 284.8 L1380.3 283.8 L1380.6 283.7 L1380.1 280.1 L1379.9 281.2 L1380.2 281.1 L1381.3 280.9 L1382.9 280.6 L1385.1 280 L1387.6 279.4 L1390.5 278.6 L1393.5 277.6 L1396.5 276.5 L1399.3 275.3 L1401.8 274.1 L1403.8 272.8 L1405.3 271.5 L1406.2 270.3ZM1409.2 287.3 L1409.1 289.6 L1408.4 291.8 L1407.1 294 L1405.2 296 L1402.7 297.9 L1400 299.4 L1397 300.6 L1394 301.5 L1391.1 301.9 L1388.4 302 L1386.1 301.8 L1384.3 301.2 L1383.2 300.4 L1382.7 299.4 L1383 299.3 L1382.5 295.7 L1382.3 296.8 L1382.6 296.7 L1383.6 296.5 L1385.3 296.2 L1387.4 295.7 L1390 295 L1392.9 294.2 L1395.9 293.2 L1398.9 292.1 L1401.7 290.9 L1404.2 289.7 L1406.2 288.4 L1407.7 287.1 L1408.6 285.9 L1408.8 284.8ZM1411.5 303 L1411.5 305.2 L1410.8 307.4 L1409.5 309.6 L1407.5 311.7 L1405.1 313.5 L1402.4 315 L1399.4 316.2 L1396.4 317.1 L1393.5 317.5 L1390.8 317.6 L1388.5 317.4 L1386.7 316.8 L1385.6 316 L1385 315 L1385.4 314.9 L1384.8 311.3 L1384.7 312.4 L1385 312.3 L1386 312.1 L1387.6 311.8 L1389.8 311.3 L1392.4 310.6 L1395.3 309.8 L1398.3 308.8 L1401.3 307.7 L1404.1 306.5 L1406.6 305.3 L1408.6 304 L1410.1 302.7 L1411 301.5 L1411.1 300.4ZM1413.9 318.6 L1413.9 320.8 L1413.2 323 L1411.8 325.2 L1409.9 327.3 L1407.5 329.1 L1404.7 330.6 L1401.8 331.8 L1398.8 332.7 L1395.8 333.1 L1393.2 333.2 L1390.9 333 L1389.1 332.4 L1387.9 331.6 L1387.4 330.6 L1387 328 L1387.4 327.9 L1388.4 327.7 L1390 327.4 L1392.2 326.9 L1394.8 326.2 L1397.6 325.4 L1400.6 324.4 L1403.6 323.3 L1406.4 322.1 L1408.9 320.9 L1411 319.6 L1412.5 318.3 L1413.3 317.1 L1413.5 316ZM1416.3 336.4 L1415.6 338.6 L1414.2 340.8 L1412.3 342.9 L1409.9 344.7 L1407.1 346.2 L1404.2 347.4 L1401.1 348.3 L1398.2 348.8 L1395.5 348.8 L1393.3 348.6 L1391.5 348 L1390.3 347.2 L1389.8 346.2 L1389.4 343.6 L1389.8 343.5 L1390.8 343.3 L1392.4 343 L1394.6 342.5 L1397.2 341.8 L1400 341 L1403 340 L1406 338.9 L1408.8 337.8 L1411.3 336.5 L1413.4 335.2 L1414.9 334 L1415.7 332.7ZM1418.7 352 L1418 354.3 L1416.6 356.4 L1414.7 358.5 L1412.3 360.3 L1409.5 361.8 L1406.5 363 L1403.5 363.9 L1400.6 364.4 L1397.9 364.5 L1395.6 364.2 L1393.9 363.6 L1392.7 362.8 L1392.2 361.8 L1391.8 359.2 L1392.1 359.1 L1393.2 358.9 L1394.8 358.6 L1397 358.1 L1399.5 357.4 L1402.4 356.6 L1405.4 355.6 L1408.4 354.5 L1411.2 353.4 L1413.7 352.1 L1415.8 350.8 L1417.2 349.6 L1418.1 348.3ZM1421.1 365.4 L1421 367.6 L1420.3 369.9 L1419 372 L1417.1 374.1 L1414.6 375.9 L1411.9 377.4 L1408.9 378.7 L1405.9 379.5 L1403 380 L1400.3 380.1 L1398 379.8 L1396.3 379.2 L1395.1 378.4 L1394.6 377.4 L1394.9 377.4 L1394.4 373.7 L1394.2 374.8 L1394.5 374.8 L1395.5 374.6 L1397.2 374.2 L1399.3 373.7 L1401.9 373 L1404.8 372.2 L1407.8 371.2 L1410.8 370.2 L1413.6 369 L1416.1 367.7 L1418.1 366.4 L1419.6 365.2 L1420.5 363.9 L1420.7 362.8ZM1423.4 383.1 L1422.7 385.1 L1421.3 387.1 L1419.3 388.8 L1416.8 390.3 L1414 391.5 L1411 392.4 L1410.5 388.7 L1413.4 387.3 L1416.2 385.8 L1418.6 384.2 L1420.6 382.7 L1422.1 381.1 L1422.9 379.7Z" stroke="#5b8fcb" stroke-width="0.8" fill="#5b8fcb" stroke-linejoin="round"/>
<path d="M1389.2 249.5 L1386.2 250.4 L1383.3 251 L1380.7 251.3 L1378.5 251.5M1401.8 259.1 L1399.8 260.7 L1397.3 262.1 L1394.5 263.4 L1391.5 264.6 L1388.5 265.5 L1385.6 266.2 L1383 266.7 L1380.8 266.9M1404.1 274.8 L1402.1 276.3 L1399.7 277.7 L1396.9 279.1 L1393.9 280.2 L1390.9 281.1 L1388 281.8 L1385.4 282.3 L1383.2 282.5M1406.5 290.4 L1404.5 291.9 L1402.1 293.4 L1399.3 294.7 L1396.3 295.8 L1393.3 296.7 L1390.4 297.4 L1387.8 297.9 L1385.6 298.1M1408.9 306 L1406.9 307.5 L1404.4 309 L1401.6 310.3 L1398.7 311.4 L1395.7 312.3 L1392.8 313 L1390.2 313.5 L1387.9 313.7M1411.3 321.6 L1409.3 323.1 L1406.8 324.6 L1404 325.9 L1401 327 L1398 327.9 L1395.1 328.6 L1392.5 329.1 L1390.3 329.3M1413.7 337.2 L1411.7 338.7 L1409.2 340.2 L1406.4 341.5 L1403.4 342.6 L1400.4 343.5 L1397.5 344.2 L1394.9 344.7 L1392.7 344.9M1416.1 352.8 L1414 354.3 L1411.6 355.8 L1408.8 357.1 L1405.8 358.2 L1402.8 359.2 L1399.9 359.9 L1397.3 360.3 L1395.1 360.6M1418.4 368.4 L1416.4 369.9 L1414 371.4 L1411.2 372.7 L1408.2 373.8 L1405.2 374.8 L1402.3 375.5 L1399.7 375.9 L1397.5 376.2M1420.8 384.2 L1418.8 385.8 L1416.4 387.4 L1413.6 388.8 L1410.7 390" stroke="#b4d0ee" stroke-width="1.3" fill="none" stroke-linecap="round" opacity="0.8"/>
<path d="M1273.6 340.5 L1274.3 339.9 L1275.1 338.9 L1275.9 337.5 L1276.9 335.9 L1277.8 334.1 L1278.8 332.2 L1279.8 330.3 L1280.9 328.5 L1281.9 326.9 L1282.9 325.6 L1284 324.6 L1285 324 L1285.9 323.9 L1287.7 324.3 L1284.5 324 L1283.6 323.7 L1281.8 323.7 L1279.9 324.2 L1278.1 325 L1276.4 326.3 L1274.8 327.8 L1273.5 329.6 L1272.3 331.5 L1271.5 333.4 L1270.8 335.3 L1270.4 336.9 L1270.2 338.4 L1270.2 339.4 L1270.4 340.1ZM1295.8 342.8 L1296.5 342.3 L1297.3 341.3 L1298.2 339.9 L1299.1 338.3 L1300 336.5 L1301 334.6 L1302 332.7 L1303.1 330.9 L1304.1 329.3 L1305.2 327.9 L1306.2 327 L1307.2 326.4 L1308.1 326.3 L1310 326.7 L1306.8 326.4 L1305.9 326 L1304 326.1 L1302.1 326.5 L1300.3 327.4 L1298.6 328.7 L1297 330.2 L1295.7 332 L1294.6 333.9 L1293.7 335.8 L1293 337.7 L1292.6 339.3 L1292.4 340.7 L1292.4 341.8 L1292.6 342.5ZM1318 345.2 L1318.7 344.6 L1319.5 343.6 L1320.4 342.3 L1321.3 340.7 L1322.3 338.9 L1323.2 337 L1324.3 335.1 L1325.3 333.3 L1326.4 331.7 L1327.4 330.3 L1328.4 329.4 L1329.4 328.8 L1330.3 328.7 L1332.1 329.1 L1329.1 328.8 L1328.1 328.4 L1326.2 328.5 L1324.3 328.9 L1322.5 329.8 L1320.8 331.1 L1319.3 332.6 L1317.9 334.4 L1316.8 336.3 L1315.9 338.2 L1315.3 340 L1314.8 341.7 L1314.7 343.1 L1314.7 344.2 L1314.8 344.9Z" stroke="#3c6aa3" stroke-width="0.8" fill="#3c6aa3" stroke-linejoin="round"/>
<path d="M1271.4 331.4 L1272.2 333.5 L1272.7 335.5 L1273 337.2 L1273.2 338.7 L1273.2 339.8 L1273.1 340.4 L1272.9 340.6 L1273.6 340.5 L1270.4 340.1 L1270.6 340.4 L1270.1 340.1 L1269.7 339.4 L1269.3 338.3 L1269 336.8 L1268.8 335.1 L1268.5 333.1 L1268.2 331.1ZM1287.7 324.3 L1289.5 325.2 L1291.1 326.4 L1292.5 328 L1293.6 329.9 L1294.6 331.9 L1295.3 334 L1295.7 336 L1296 338 L1296 339.7 L1295.9 341.1 L1295.7 342.2 L1295.4 342.8 L1295.1 343 L1295.8 342.8 L1292.6 342.5 L1292.8 342.8 L1292.2 342.5 L1291.6 341.7 L1291 340.6 L1290.5 339.1 L1289.9 337.3 L1289.4 335.3 L1288.8 333.3 L1288.2 331.2 L1287.6 329.2 L1286.9 327.4 L1286.2 325.9 L1285.4 324.8 L1284.5 324ZM1310 326.7 L1311.7 327.6 L1313.3 328.8 L1314.7 330.4 L1315.9 332.2 L1316.8 334.3 L1317.5 336.3 L1318 338.4 L1318.2 340.4 L1318.2 342.1 L1318.1 343.5 L1317.9 344.5 L1317.6 345.2 L1317.3 345.4 L1318 345.2 L1314.8 344.9 L1315.1 345.1 L1314.4 344.8 L1313.8 344.1 L1313.2 343 L1312.7 341.5 L1312.2 339.7 L1311.6 337.7 L1311 335.7 L1310.4 333.6 L1309.8 331.6 L1309.1 329.8 L1308.4 328.3 L1307.6 327.1 L1306.8 326.4ZM1332.1 329.1 L1333.6 329.9 L1335 331.1 L1336.1 332.7 L1337 334.5 L1337.7 336.5 L1338.1 338.6 L1334.9 338.2 L1334 336.1 L1333.1 334.1 L1332.1 332.3 L1331.1 330.7 L1330.1 329.5 L1329.1 328.8Z" stroke="#5b8fcb" stroke-width="0.8" fill="#5b8fcb" stroke-linejoin="round"/>
<path d="M1269.3 331.2 L1269.8 333.3 L1270.1 335.2 L1270.4 336.9 L1270.7 338.4M1287.9 326.1 L1288.8 327.6 L1289.7 329.4 L1290.4 331.4 L1291.1 333.5 L1291.6 335.6 L1292 337.5 L1292.4 339.3 L1292.7 340.8M1310.1 328.5 L1311.1 330 L1311.9 331.8 L1312.7 333.8 L1313.3 335.9 L1313.8 338 L1314.3 339.9 L1314.6 341.7 L1315 343.2M1332.5 330.9 L1333.5 332.4 L1334.5 334.2 L1335.3 336.2 L1336 338.3" stroke="#b4d0ee" stroke-width="1.2" fill="none" stroke-linecap="round" opacity="0.8"/>
<path d="M1285.7 442.2 L1286.3 441.2 L1286.7 439.8 L1287 438.1 L1287.2 436 L1287.4 433.7 L1287.6 431.3 L1287.8 428.8 L1288.1 426.5 L1288.6 424.4 L1289.1 422.5 L1289.7 421.1 L1290.6 420 L1291.6 419.4 L1293.7 419 L1290.4 420.1 L1289.2 420.2 L1287.3 421.1 L1285.6 422.5 L1284.1 424.2 L1282.9 426.3 L1281.9 428.6 L1281.3 431 L1281 433.5 L1280.9 435.9 L1281 438 L1281.3 440 L1281.7 441.5 L1282.1 442.6 L1282.4 443.3ZM1311.4 433.6 L1312 432.6 L1312.4 431.3 L1312.7 429.5 L1312.9 427.4 L1313.1 425.1 L1313.3 422.7 L1313.6 420.3 L1313.9 417.9 L1314.3 415.8 L1314.8 414 L1315.5 412.5 L1316.3 411.4 L1317.3 410.8 L1319.4 410.4 L1316.1 411.5 L1315 411.6 L1313 412.5 L1311.3 413.9 L1309.8 415.6 L1308.6 417.7 L1307.7 420 L1307 422.5 L1306.7 424.9 L1306.6 427.3 L1306.7 429.5 L1307 431.4 L1307.4 432.9 L1307.8 434 L1308.2 434.7ZM1337 425.1 L1337.4 424.2 L1337.6 422.9 L1337.6 421.2 L1337.5 419.2 L1337.4 417 L1337.4 414.7 L1334.1 415.8 L1333.7 418.2 L1333.5 420.5 L1333.5 422.5 L1333.6 424.2 L1333.8 425.4 L1334 426.1Z" stroke="#3c6aa3" stroke-width="0.8" fill="#3c6aa3" stroke-linejoin="round"/>
<path d="M1278.8 434.2 L1280.5 436 L1282.1 437.7 L1283.3 439.3 L1284.2 440.7 L1284.8 441.7 L1285 442.4 L1285 442.7 L1285.7 442.2 L1282.4 443.3 L1282.7 443.4 L1282 443.4 L1281.2 442.9 L1280.2 442 L1279.2 440.6 L1278.1 439 L1276.8 437.2 L1275.5 435.3ZM1293.7 419 L1295.9 419 L1298.1 419.5 L1300.3 420.5 L1302.5 421.7 L1304.4 423.3 L1306.2 425.1 L1307.7 426.9 L1308.9 428.8 L1309.8 430.4 L1310.4 431.9 L1310.8 433 L1310.9 433.8 L1310.8 434.1 L1311.4 433.6 L1308.2 434.7 L1308.4 434.9 L1307.6 434.9 L1306.6 434.4 L1305.4 433.6 L1304.1 432.3 L1302.7 430.8 L1301.1 429.1 L1299.5 427.3 L1297.9 425.5 L1296.2 423.8 L1294.6 422.4 L1293.1 421.2 L1291.7 420.4 L1290.4 420.1ZM1319.4 410.4 L1321.6 410.4 L1323.9 411 L1326.1 411.9 L1328.2 413.2 L1330.1 414.8 L1331.9 416.5 L1333.4 418.4 L1334.6 420.2 L1335.5 421.9 L1336.1 423.3 L1336.5 424.5 L1336.6 425.2 L1336.5 425.5 L1337 425.1 L1334 426.1 L1334.1 426.3 L1333.3 426.3 L1332.3 425.9 L1331.1 425 L1329.8 423.8 L1328.4 422.3 L1326.8 420.5 L1325.2 418.7 L1323.6 416.9 L1322 415.2 L1320.4 413.8 L1318.8 412.6 L1317.4 411.8 L1316.1 411.5Z" stroke="#5b8fcb" stroke-width="0.8" fill="#5b8fcb" stroke-linejoin="round"/>
<path d="M1276.6 434.9 L1278.1 436.8 L1279.5 438.6 L1280.6 440.2 L1281.6 441.5M1294.9 420.6 L1296.6 421.7 L1298.4 423.1 L1300.2 424.7 L1301.8 426.5 L1303.4 428.3 L1304.8 430.1 L1306.1 431.7 L1307.2 433M1320.6 412 L1322.4 413.1 L1324.1 414.5 L1325.9 416.2 L1327.6 418 L1329.1 419.8 L1330.6 421.5 L1331.8 423.1 L1332.9 424.4" stroke="#b4d0ee" stroke-width="1.3" fill="none" stroke-linecap="round" opacity="0.8"/>
<path d="M1395.9 358.6 L1396.6 357.6 L1397 356.2 L1397.4 354.4 L1397.7 352.3 L1398 350 L1398.3 347.5 L1398.7 345.1 L1399.1 342.7 L1399.6 340.5 L1400.3 338.7 L1401.1 337.1 L1402 336 L1403.2 335.4 L1405.3 334.9 L1402.3 335.9 L1401 336.1 L1399 337 L1397.2 338.4 L1395.6 340.2 L1394.3 342.3 L1393.3 344.6 L1392.6 347.1 L1392.2 349.6 L1392 352 L1392 354.2 L1392.1 356.2 L1392.4 357.8 L1392.7 358.9 L1392.9 359.6ZM1424.5 349.1 L1425.1 348.1 L1425.6 346.7 L1426 344.9 L1426.3 342.8 L1426.6 340.5 L1426.9 338 L1427.2 335.6 L1427.7 333.2 L1428.2 331 L1428.8 329.1 L1429.6 327.6 L1430.6 326.5 L1431.7 325.9 L1433.8 325.4 L1431 326.4 L1429.6 326.6 L1427.5 327.5 L1425.7 328.9 L1424.2 330.7 L1422.9 332.8 L1421.9 335.1 L1421.2 337.6 L1420.7 340.1 L1420.5 342.5 L1420.5 344.7 L1420.7 346.7 L1421 348.2 L1421.2 349.4 L1421.5 350.1Z" stroke="#3c6aa3" stroke-width="0.8" fill="#3c6aa3" stroke-linejoin="round"/>
<path d="M1388.2 350.9 L1390 352.6 L1391.6 354.3 L1393 355.9 L1394 357.2 L1394.7 358.3 L1395.1 358.9 L1395.2 359.1 L1395.9 358.6 L1392.9 359.6 L1393 359.8 L1392.2 359.9 L1391.3 359.4 L1390.3 358.5 L1389.2 357.2 L1387.9 355.6 L1386.6 353.8 L1385.1 351.9ZM1405.3 334.9 L1407.6 334.9 L1409.9 335.4 L1412.2 336.3 L1414.4 337.6 L1416.5 339.2 L1418.3 340.9 L1419.9 342.7 L1421.2 344.5 L1422.3 346.1 L1423 347.5 L1423.5 348.6 L1423.7 349.3 L1423.8 349.6 L1424.5 349.1 L1421.5 350.1 L1421.6 350.3 L1420.7 350.4 L1419.6 349.9 L1418.4 349.1 L1417 347.9 L1415.5 346.4 L1413.8 344.7 L1412.1 342.9 L1410.4 341.2 L1408.6 339.5 L1406.9 338.1 L1405.3 337 L1403.7 336.2 L1402.3 335.9ZM1433.8 325.4 L1435.9 325.5 L1438 326.1 L1440 327.1 L1442 328.4 L1443.7 330.1 L1445.3 331.9 L1442.3 332.9 L1440.3 331.2 L1438.2 329.7 L1436.3 328.3 L1434.3 327.3 L1432.6 326.6 L1431 326.4Z" stroke="#5b8fcb" stroke-width="0.8" fill="#5b8fcb" stroke-linejoin="round"/>
<path d="M1386.2 351.6 L1387.8 353.4 L1389.2 355.1 L1390.5 356.7 L1391.6 358M1406.9 336.4 L1408.8 337.5 L1410.7 338.9 L1412.5 340.5 L1414.3 342.2 L1416 344 L1417.5 345.7 L1418.8 347.3 L1420 348.6M1435.6 326.9 L1437.6 327.9 L1439.5 329.2 L1441.5 330.8 L1443.3 332.5" stroke="#b4d0ee" stroke-width="1.2" fill="none" stroke-linecap="round" opacity="0.8"/>
<path d="M1224.8 216 L1233.3 229.9 L1246.2 239.8 L1250 236.4 L1237 226.5 L1228.5 212.6" stroke="#5b8fcb" stroke-width="1" fill="#5b8fcb" stroke-linejoin="round"/>
<path d="M1254 216.7 L1276.4 232.4 L1302.3 240.9 L1301.1 243.3 L1312.4 242.9 L1306 233.5 L1304.8 236 L1278.8 227.5 L1256.5 211.8" stroke="#3c6aa3" stroke-width="1" fill="#3c6aa3" stroke-linejoin="round"/>
<path d="M1293.5 221.8 L1326.5 218.2 L1359.8 218.7 L1359.9 221.4 L1369.5 215.5 L1359.4 210.4 L1359.5 213.2 L1326.3 212.7 L1293.2 216.3" stroke="#5b8fcb" stroke-width="1" fill="#5b8fcb" stroke-linejoin="round"/>
<path d="M1282.7 266.7 L1299.5 260.1 L1314.4 249.9 L1315.7 252.4 L1321.9 242.9 L1310.6 242.6 L1311.9 245.1 L1296.9 255.2 L1280.1 261.9" stroke="#5b8fcb" stroke-width="1" fill="#5b8fcb" stroke-linejoin="round"/>
<path d="M1322 227.7 L1352.8 228.7 L1383.5 225.7 L1383.6 228.4 L1393.3 222.6 L1383.3 217.5 L1383.3 220.2 L1352.6 223.2 L1321.8 222.3" stroke="#3c6aa3" stroke-width="1" fill="#3c6aa3" stroke-linejoin="round"/>
<path d="M1307.9 247.5 L1328.9 244.5 L1349.9 241.5 L1350.2 243.7 L1357.6 238.1 L1349 234.8 L1349.3 237 L1328.3 240 L1307.3 243" stroke="#5b8fcb" stroke-width="1" fill="#5b8fcb" stroke-linejoin="round"/>
<path d="M1272.3 381.3 L1295.4 380.7 L1317.6 374.1 L1316.7 368.7 L1294.6 375.2 L1271.5 375.9" stroke="#35639a" stroke-width="1" fill="#35639a" stroke-linejoin="round"/>
<circle cx="1279" cy="86.2" r="8.6" fill="#ee1c24"/>
<circle cx="1349.3" cy="116.7" r="8.6" fill="#ee1c24"/>
<circle cx="1264.8" cy="156" r="8.6" fill="#ee1c24"/>
<circle cx="1308.8" cy="160" r="8.6" fill="#ee1c24"/>
<circle cx="1332.6" cy="172.6" r="8.6" fill="#ee1c24"/>
<circle cx="1366" cy="164.3" r="8.6" fill="#ee1c24"/>
<circle cx="1380.2" cy="172.6" r="8.6" fill="#ee1c24"/>
<circle cx="1405.2" cy="231.4" r="8.6" fill="#ee1c24"/>
<circle cx="1266.7" cy="314.3" r="8.6" fill="#ee1c24"/>
<circle cx="1264.3" cy="341" r="8.6" fill="#ee1c24"/>
<circle cx="1278.6" cy="358.3" r="8.6" fill="#ee1c24"/>
<circle cx="1320.7" cy="407.1" r="8.6" fill="#ee1c24"/>
<path d="M310.2 664.5 L328.6 662.4" stroke="#1f5bab" stroke-width="2.4" fill="none" stroke-linecap="round" stroke-linejoin="round"/>
<path d="M310.2 664.5 C309.5 667.2 307.8 674.7 306.1 680.8 C304.4 686.9 300.7 693.7 300 701.2 C299.3 708.7 299.7 718.9 302 725.7 C304.4 732.5 312.2 739.3 314.3 742" stroke="#1f5bab" stroke-width="2.4" fill="none" stroke-linecap="round" stroke-linejoin="round"/>
<path d="M357.1 656.3 C357.5 660.4 356.8 676.1 359.2 680.8 C361.6 685.6 370.7 682.9 371.4 684.9 C372.1 686.9 366.7 692 363.3 693.1 C359.9 694.1 354.8 689.7 351 691 C347.3 692.4 344.9 697.8 340.8 701.2 C336.7 704.6 330.6 712.4 326.5 711.4 C322.4 710.4 318.7 694.1 316.3 695.1 C313.9 696.1 312.9 713.8 312.2 717.6" stroke="#1f5bab" stroke-width="2.4" fill="none" stroke-linecap="round" stroke-linejoin="round"/>
<path d="M314.3 717.6 C316.3 718.9 321.8 725 326.5 725.7 C331.3 726.4 337.8 722.3 342.9 721.6 C348 721 351.7 719.9 357.1 721.6 C362.6 723.3 371.1 726.7 375.5 731.8 C379.9 736.9 380.6 748.5 383.7 752.2 C386.7 756 391.8 756 393.9 754.3 C395.9 752.6 395.6 744.1 395.9 742" stroke="#1f5bab" stroke-width="2.4" fill="none" stroke-linecap="round" stroke-linejoin="round"/>
<path d="M224.5 762.4 C225.9 762.1 231 759 232.7 760.4 C234.4 761.8 235.7 768.6 234.7 770.6 C233.7 772.7 227.2 770.6 226.5 772.7 C225.9 774.7 227.6 780.5 230.6 782.9 C233.7 785.2 242.5 786.3 244.9 786.9" stroke="#1f5bab" stroke-width="2.4" fill="none" stroke-linecap="round" stroke-linejoin="round"/>
<path d="M249 717.6 C251.7 718.2 264.6 719.3 265.3 721.6 C266 724 253.7 729.1 253.1 731.8 C252.4 734.6 258.8 734.6 261.2 738 C263.6 741.4 266.3 749.9 267.3 752.2" stroke="#1f5bab" stroke-width="2.4" fill="none" stroke-linecap="round" stroke-linejoin="round"/>
<path d="M277.6 733.9 C278.2 735.9 279.3 742.7 281.6 746.1 C284 749.5 286.4 751.6 291.8 754.3 C297.3 757 310.5 761.1 314.3 762.4" stroke="#1f5bab" stroke-width="2.4" fill="none" stroke-linecap="round" stroke-linejoin="round"/>
<path d="M395.9 746.1 C397.3 744.8 399.3 739.7 404.1 738 C408.8 736.3 416.7 735.2 424.5 735.9 C432.3 736.6 446.6 741 451 742" stroke="#1f5bab" stroke-width="2.4" fill="none" stroke-linecap="round" stroke-linejoin="round"/>
<path d="M506.1 703.3 C509.5 703.9 522.1 704.3 526.5 707.3 C531 710.4 534 716.5 532.7 721.6 C531.3 726.7 522.8 734.6 518.4 738 C513.9 741.4 508.2 741.4 506.1 742" stroke="#1f5bab" stroke-width="2.4" fill="none" stroke-linecap="round" stroke-linejoin="round"/>
<path d="M481.6 789 C484 788.3 489.8 784.6 495.9 784.9 C502 785.2 514.6 790 518.4 791" stroke="#1f5bab" stroke-width="2.4" fill="none" stroke-linecap="round" stroke-linejoin="round"/>
<path d="M481.6 789 C481.3 793.1 478.9 804.3 479.6 813.5 C480.3 822.7 485.4 835.6 485.7 844.1 C486.1 852.6 482.3 861.1 481.6 864.5" stroke="#1f5bab" stroke-width="2.4" fill="none" stroke-linecap="round" stroke-linejoin="round"/>
<path d="M261.2 819.6 C262.9 825.4 268 846.8 271.4 854.3 C274.8 861.8 277.6 862.8 281.6 864.5 C285.7 866.2 293.5 864.5 295.9 864.5" stroke="#1f5bab" stroke-width="2.4" fill="none" stroke-linecap="round" stroke-linejoin="round"/>
<path d="M230.6 893.1 C234 890 246.3 878.1 251 874.7 C255.8 871.3 255.8 871 259.2 872.7 C262.6 874.4 267 882.9 271.4 884.9 C275.9 886.9 283.3 884.9 285.7 884.9" stroke="#1f5bab" stroke-width="2.4" fill="none" stroke-linecap="round" stroke-linejoin="round"/>
<path d="M230.6 893.1 C232.3 896.1 235.7 909.4 240.8 911.4 C245.9 913.5 257.8 906.3 261.2 905.3" stroke="#1f5bab" stroke-width="2.4" fill="none" stroke-linecap="round" stroke-linejoin="round"/>
<path d="M353.1 854.3 C354.8 857.7 358.2 868.9 363.3 874.7 C368.4 880.5 376.9 885.9 383.7 889 C390.5 892 397.3 891.7 404.1 893.1 C410.9 894.4 417.7 895.1 424.5 897.1 C431.3 899.2 440.5 900.5 444.9 905.3 C449.3 910.1 447.6 920.6 451 925.7 C454.4 930.8 459.5 935.2 465.3 935.9 C471.1 936.6 478.9 931.5 485.7 929.8 C492.5 928.1 502.7 926.4 506.1 925.7" stroke="#1f5bab" stroke-width="2.4" fill="none" stroke-linecap="round" stroke-linejoin="round"/>
<path d="M414.3 844.1 C416 847.5 421.1 856 424.5 864.5 C427.9 873 431.3 886.6 434.7 895.1 C438.1 903.6 443.9 908.7 444.9 915.5 C445.9 922.3 442.5 929.1 440.8 935.9 C439.1 942.7 435.4 947.8 434.7 956.3 C434 964.8 436.1 977.8 436.7 986.9 C437.4 996.1 438.4 1007.3 438.8 1011.4" stroke="#1f5bab" stroke-width="2.4" fill="none" stroke-linecap="round" stroke-linejoin="round"/>
<path d="M428.6 823.7 C431.3 824.4 438.8 825.7 444.9 827.8 C451 829.8 460.5 831.5 465.3 835.9 C470.1 840.3 473.5 847.8 473.5 854.3 C473.5 860.7 467.7 867.9 465.3 874.7 C462.9 881.5 459.2 890 459.2 895.1 C459.2 900.2 464.3 903.6 465.3 905.3" stroke="#1f5bab" stroke-width="2.4" fill="none" stroke-linecap="round" stroke-linejoin="round"/>
<path d="M379.6 823.7 C381 826.4 385.4 834.6 387.8 840 C390.1 845.4 389.5 852.2 393.9 856.3 C398.3 860.4 410.9 863.1 414.3 864.5" stroke="#1f5bab" stroke-width="2.4" fill="none" stroke-linecap="round" stroke-linejoin="round"/>
<path d="M342.9 795.1 C343.5 799.2 344.2 813.5 346.9 819.6 C349.7 825.7 357.1 829.8 359.2 831.8" stroke="#1f5bab" stroke-width="2.4" fill="none" stroke-linecap="round" stroke-linejoin="round"/>
<path d="M322.4 754.3 C323.8 759 327.2 774.7 330.6 782.9 C334 791 338.8 797.1 342.9 803.3 C346.9 809.4 353.1 816.9 355.1 819.6" stroke="#1f5bab" stroke-width="2.4" fill="none" stroke-linecap="round" stroke-linejoin="round"/>
<path d="M298 782.9 C300.7 784.9 309.5 789.7 314.3 795.1 C319 800.5 324.5 812.1 326.5 815.5" stroke="#1f5bab" stroke-width="2.4" fill="none" stroke-linecap="round" stroke-linejoin="round"/>
<path d="M363.3 772.7 C365.3 774.4 372.1 777.8 375.5 782.9 C378.9 788 378.9 798.2 383.7 803.3 C388.4 808.4 400.7 811.8 404.1 813.5" stroke="#1f5bab" stroke-width="2.4" fill="none" stroke-linecap="round" stroke-linejoin="round"/>
<path d="M404.1 844.1 C405.4 849.2 408.8 867.9 412.2 874.7 C415.6 881.5 422.4 883.2 424.5 884.9" stroke="#1f5bab" stroke-width="2.4" fill="none" stroke-linecap="round" stroke-linejoin="round"/>
<path d="M291.8 844.1 C294.2 845.8 301 850.9 306.1 854.3 C311.2 857.7 316.3 861.1 322.4 864.5 C328.6 867.9 336.1 871.3 342.9 874.7 C349.7 878.1 359.9 883.2 363.3 884.9" stroke="#1f5bab" stroke-width="2.4" fill="none" stroke-linecap="round" stroke-linejoin="round"/>
<path d="M265.2 942.6 L265.2 941.5 L264.9 939.8 L264.3 937.4 L263.4 934.4 L261.9 931.4 L260.4 928.2 L258.8 924.8 L257.3 921.4 L256.1 918.2 L255.1 915.2 L254.6 912.6 L254.6 910.5 L255.1 909 L256.9 907.3 L252.2 911.5 L250.3 913.3 L248.2 916.2 L246.8 919.6 L246 923.3 L245.9 927.2 L246.5 931 L247.6 934.7 L249.2 938.1 L251.2 941 L253.3 943.4 L255.9 944.8 L258.3 945.7 L260.3 945.9 L261.9 945.5ZM288.3 922 L288.4 920.9 L287.9 919.3 L287 917.1 L285.8 914.4 L284.4 911.4 L282.8 908.2 L281.2 904.8 L279.8 901.4 L278.5 898.2 L277.6 895.2 L277.1 892.6 L277.1 890.5 L277.6 889 L279.3 887.3 L274.7 891.5 L272.7 893.3 L270.7 896.2 L269.2 899.6 L268.5 903.3 L268.4 907.2 L268.9 911 L270.1 914.7 L271.7 918.1 L273.6 921 L275.8 923.4 L278 925.1 L280.2 926.2 L282.1 926.5 L283.6 926.1ZM310.8 902 L310.8 900.9 L310.4 899.3 L309.5 897.1 L308.3 894.4 L306.8 891.4 L305.3 888.2 L303.7 884.8 L302.2 881.4 L301 878.2 L300 875.2 L299.5 872.6 L299.5 870.5 L300 869 L301.8 867.3 L297.1 871.5 L295.2 873.3 L293.1 876.2 L291.7 879.6 L290.9 883.3 L290.8 887.2 L291.4 891 L292.5 894.7 L294.1 898.1 L296.1 901 L298.2 903.4 L300.5 905.1 L302.6 906.2 L304.5 906.5 L306.1 906.1ZM333.2 882 L333.2 880.9 L332.8 879.3 L331.9 877.1 L330.7 874.4 L329.3 871.4 L327.7 868.2 L326.1 864.8 L324.7 861.4 L323.4 858.2 L322.5 855.2 L322 852.6 L322 850.5 L322.5 849 L324.2 847.3 L319.6 851.5 L317.6 853.3 L315.6 856.2 L314.1 859.6 L313.4 863.3 L313.3 867.2 L313.8 871 L315 874.7 L316.6 878.1 L318.5 881 L320.7 883.4 L322.9 885.1 L325.1 886.2 L327 886.5 L328.5 886.1ZM355.7 862 L355.7 860.9 L355.3 859.3 L354.4 857.1 L353.2 854.4 L351.7 851.4 L350.2 848.2 L348.6 844.8 L347.1 841.4 L345.9 838.2 L344.9 835.2 L344.4 832.6 L344.4 830.5 L344.9 829 L346.7 827.3 L342 831.5 L340.1 833.3 L338 836.2 L336.6 839.6 L335.8 843.3 L335.7 847.2 L336.3 851 L337.4 854.7 L339 858.1 L341 861 L343.1 863.4 L345.4 865.1 L347.5 866.2 L349.4 866.5 L351 866.1Z" stroke="#17427e" stroke-width="0.8" fill="#17427e" stroke-linejoin="round"/>
<path d="M264.5 939.9 L265.3 941.3 L265.3 942.4 L265.2 942.6 L261.9 945.5 L262.2 945.2 L261.6 944.6 L260.6 943.4ZM256.9 907.3 L260 905.6 L263.6 904.5 L267.3 904.1 L271.2 904.4 L274.9 905.3 L278.5 906.8 L281.7 908.7 L284.4 911 L286.6 913.4 L288.1 915.9 L288.9 918.1 L289.1 920.1 L288.6 921.6 L288.3 922 L283.6 926.1 L283.8 925.9 L282.7 925.8 L281.1 925.1 L279 924 L276.4 922.4 L273.6 920.6 L270.5 918.7 L267.3 916.7 L264.2 914.9 L261.1 913.3 L258.3 912.1 L255.8 911.3 L253.8 911.1 L252.2 911.5ZM279.3 887.3 L282.5 885.6 L286 884.5 L289.8 884.1 L293.6 884.4 L297.4 885.3 L300.9 886.8 L304.1 888.7 L306.9 891 L309 893.4 L310.5 895.9 L311.4 898.1 L311.5 900.1 L311.1 901.6 L310.8 902 L306.1 906.1 L306.3 905.9 L305.2 905.8 L303.5 905.1 L301.4 904 L298.9 902.4 L296 900.6 L293 898.7 L289.8 896.7 L286.6 894.9 L283.6 893.3 L280.7 892.1 L278.3 891.3 L276.2 891.1 L274.7 891.5ZM301.8 867.3 L304.9 865.6 L308.5 864.5 L312.2 864.1 L316 864.4 L319.8 865.3 L323.4 866.8 L326.6 868.7 L329.3 871 L331.5 873.4 L333 875.9 L333.8 878.1 L334 880.1 L333.5 881.6 L333.2 882 L328.5 886.1 L328.7 885.9 L327.6 885.8 L326 885.1 L323.9 884 L321.3 882.4 L318.5 880.6 L315.4 878.7 L312.2 876.7 L309.1 874.9 L306 873.3 L303.2 872.1 L300.7 871.3 L298.7 871.1 L297.1 871.5ZM324.2 847.3 L327.4 845.6 L330.9 844.5 L334.7 844.1 L338.5 844.4 L342.3 845.3 L345.8 846.8 L349 848.7 L351.8 851 L353.9 853.4 L355.4 855.9 L356.3 858.1 L356.4 860.1 L356 861.6 L355.7 862 L351 866.1 L351.2 865.9 L350.1 865.8 L348.4 865.1 L346.3 864 L343.8 862.4 L340.9 860.6 L337.9 858.7 L334.7 856.7 L331.5 854.9 L328.5 853.3 L325.6 852.1 L323.2 851.3 L321.1 851.1 L319.6 851.5ZM346.7 827.3 L349.8 825.6 L353.4 824.5 L357.1 824.1 L360.9 824.4 L364.3 825.6 L367.5 827.5 L370.3 829.8 L372.7 832.4 L374.6 835 L375.9 837.6 L376.8 839.9 L372.8 843.4 L370.7 842.2 L368.1 840.8 L364.9 839.3 L361.5 837.6 L357.9 836 L354.3 834.6 L350.9 833.3 L348.1 832.1 L345.6 831.3 L343.6 831.1 L342 831.5Z" stroke="#1f5bab" stroke-width="0.8" fill="#1f5bab" stroke-linejoin="round"/>
<path d="M258.5 908.9 L261.4 909.3 L264.6 910.2 L267.9 911.5 L271.2 913.3 L274.4 915.2 L277.4 917.3 L280 919.3 L282.2 921.1 L283.8 922.7M281 888.9 L283.9 889.3 L287.1 890.2 L290.4 891.5 L293.7 893.3 L296.9 895.2 L299.8 897.3 L302.4 899.3 L304.6 901.1 L306.3 902.7M303.4 868.9 L306.3 869.3 L309.5 870.2 L312.8 871.5 L316.1 873.3 L319.3 875.2 L322.3 877.3 L324.9 879.3 L327.1 881.1 L328.7 882.7M325.9 848.9 L328.8 849.3 L332 850.2 L335.3 851.5 L338.6 853.3 L341.8 855.2 L344.7 857.3 L347.3 859.3 L349.5 861.1 L351.2 862.7M348.3 828.9 L351.2 829.3 L354.4 830.2 L357.8 831.4 L361.3 833 L364.6 834.9 L367.6 836.9 L370.3 838.8 L372.5 840.6 L374.2 842.2" stroke="#6d9ad6" stroke-width="2.7" fill="none" stroke-linecap="round" opacity="0.8"/>
<path d="M253.8 810.8 L254.9 810.2 L256.2 809.1 L257.8 807.5 L259.6 805.6 L261.6 803.5 L263.7 801.2 L265.8 798.9 L267.9 796.9 L270 795.1 L272 793.6 L273.8 792.7 L275.4 792.3 L276.8 792.6 L279.6 794.1 L274.1 791.8 L272.9 791 L269.9 790.1 L266.8 789.8 L263.6 790.2 L260.5 791.1 L257.6 792.6 L254.9 794.4 L252.6 796.6 L250.7 798.9 L249.3 801.3 L248.3 803.6 L247.9 805.6 L247.9 807.3 L248.3 808.5ZM281.7 822.4 L282.8 821.8 L284.1 820.7 L285.7 819.1 L287.5 817.2 L289.5 815 L291.6 812.8 L293.7 810.5 L295.8 808.4 L297.9 806.6 L299.9 805.2 L301.7 804.3 L303.3 803.9 L304.7 804.1 L307.4 805.6 L302 803.4 L300.8 802.5 L297.8 801.6 L294.7 801.4 L291.5 801.7 L288.4 802.7 L285.5 804.1 L282.8 806 L280.5 808.2 L278.6 810.5 L277.2 812.9 L276.2 815.2 L275.8 817.2 L275.8 818.9 L276.2 820.1ZM309.5 833.9 L310.7 833.4 L312 832.2 L313.6 830.7 L315.4 828.8 L317.4 826.6 L319.4 824.3 L321.6 822.1 L323.7 820 L325.8 818.2 L327.8 816.8 L329.6 815.8 L331.2 815.5 L332.6 815.7 L335.1 817.1 L330.1 815 L328.7 814.1 L325.7 813.2 L322.6 812.9 L319.4 813.3 L316.3 814.2 L313.3 815.7 L310.7 817.6 L308.4 819.7 L306.5 822.1 L305 824.5 L304.1 826.7 L303.6 828.8 L303.7 830.5 L304.1 831.7Z" stroke="#3a6aa8" stroke-width="0.8" fill="#3a6aa8" stroke-linejoin="round"/>
<path d="M256.6 798.2 L256.7 801.4 L256.5 804.3 L256 806.8 L255.4 808.7 L254.6 810.1 L253.7 810.8 L252.9 810.8 L253.8 810.8 L248.3 808.5 L249 809.2 L248.6 808.7 L248.6 807.6 L248.8 806 L249.2 804 L249.8 801.6 L250.4 798.8 L251 795.9ZM279.6 794.1 L282 796.1 L284 798.6 L285.5 801.5 L286.6 804.6 L287.1 807.8 L287.2 811 L286.9 814 L286.2 816.6 L285.3 818.9 L284.1 820.7 L283 821.9 L281.8 822.4 L280.8 822.4 L281.7 822.4 L276.2 820.1 L276.9 820.8 L276.3 820.2 L275.9 819 L275.8 817.2 L275.8 815 L275.8 812.3 L276 809.4 L276.1 806.4 L276.2 803.3 L276.2 800.3 L276 797.5 L275.6 795.1 L275 793.2 L274.1 791.8ZM307.4 805.6 L309.9 807.7 L311.9 810.2 L313.4 813 L314.4 816.1 L315 819.3 L315.1 822.5 L314.8 825.5 L314.1 828.2 L313.2 830.5 L312 832.2 L310.8 833.4 L309.7 834 L308.7 833.9 L309.5 833.9 L304.1 831.7 L304.8 832.3 L304.2 831.7 L303.8 830.5 L303.7 828.8 L303.6 826.5 L303.7 823.9 L303.9 821 L304 817.9 L304.1 814.8 L304.1 811.8 L303.9 809.1 L303.5 806.7 L302.8 804.8 L302 803.4ZM335.1 817.1 L337.2 819 L338.8 821.4 L339.9 824 L340.5 826.9 L340.6 829.9 L340.2 832.9 L334.7 830.6 L334.3 827.4 L333.8 824.2 L333.1 821.2 L332.3 818.6 L331.2 816.5 L330.1 815Z" stroke="#4a7fc0" stroke-width="0.8" fill="#4a7fc0" stroke-linejoin="round"/>
<path d="M253 796.7 L252.6 799.7 L252.1 802.5 L251.6 805 L251.1 807M278.5 796.3 L279.3 798.9 L279.8 801.8 L280 804.8 L280 808 L279.8 811 L279.5 813.9 L279.1 816.4 L278.7 818.4M306.4 807.9 L307.2 810.5 L307.7 813.3 L307.9 816.4 L307.9 819.5 L307.7 822.6 L307.4 825.4 L307 827.9 L306.6 830M334.6 819.6 L335.5 822.2 L336.1 825.1 L336.5 828.3 L336.6 831.4" stroke="#9fc0ea" stroke-width="2.2" fill="none" stroke-linecap="round" opacity="0.8"/>
<ellipse cx="330.6" cy="942" rx="14.5" ry="19" fill="none" stroke="#2f67b3" stroke-width="4.2"/>
<ellipse cx="339.8" cy="938" rx="14.5" ry="19" fill="none" stroke="#1f5bab" stroke-width="4.2"/>
<ellipse cx="349" cy="933.9" rx="14.5" ry="19" fill="none" stroke="#2f67b3" stroke-width="4.2"/>
<ellipse cx="358.2" cy="929.8" rx="14.5" ry="19" fill="none" stroke="#1f5bab" stroke-width="4.2"/>
<ellipse cx="367.3" cy="925.7" rx="14.5" ry="19" fill="none" stroke="#2f67b3" stroke-width="4.2"/>
<ellipse cx="376.5" cy="921.6" rx="14.5" ry="19" fill="none" stroke="#1f5bab" stroke-width="4.2"/>
<ellipse cx="385.7" cy="917.6" rx="14.5" ry="19" fill="none" stroke="#2f67b3" stroke-width="4.2"/>
<path d="M397.4 948.7 L398.4 949.1 L399.9 949.4 L401.8 949.5 L404.1 949.6 L406.6 949.7 L409.2 949.8 L411.9 950 L414.5 950.2 L416.9 950.7 L418.9 951.3 L420.6 952 L421.9 953 L422.6 954.2 L423.3 956.8 L421.7 952.7 L421.5 951.3 L420.3 948.9 L418.6 946.7 L416.6 944.9 L414.2 943.4 L411.5 942.3 L408.8 941.7 L406.1 941.3 L403.5 941.4 L401.1 941.7 L399.1 942.3 L397.5 943 L396.4 943.8 L395.8 944.5ZM407.6 976.2 L408.6 976.6 L410.1 976.9 L412 977.1 L414.3 977.2 L416.8 977.2 L419.4 977.3 L422.1 977.5 L424.7 977.8 L427.1 978.2 L429.1 978.8 L430.8 979.6 L432.1 980.6 L432.8 981.8 L433.4 984.2 L432 980.4 L431.7 978.8 L430.5 976.4 L428.9 974.3 L426.8 972.4 L424.4 971 L421.8 969.9 L419 969.2 L416.3 968.9 L413.7 968.9 L411.3 969.3 L409.3 969.8 L407.7 970.5 L406.6 971.3 L406 972.1Z" stroke="#3a6aa8" stroke-width="0.8" fill="#3a6aa8" stroke-linejoin="round"/>
<path d="M406.4 942.2 L404.5 944.1 L402.7 945.8 L400.9 947.1 L399.4 947.9 L398.1 948.4 L397.3 948.4 L396.9 948.1 L397.4 948.7 L395.8 944.5 L395.8 945.1 L395.8 944.5 L396.4 943.8 L397.5 942.9 L399 941.9 L400.8 940.7 L402.8 939.4 L404.8 937.9ZM423.3 956.8 L423.4 959.6 L423 962.3 L422.2 965 L420.9 967.5 L419.2 969.8 L417.4 971.8 L415.4 973.5 L413.4 974.8 L411.5 975.7 L409.8 976.2 L408.5 976.3 L407.5 976.1 L407.1 975.7 L407.6 976.2 L406 972.1 L406 972.7 L406 971.9 L406.5 971 L407.5 969.8 L408.8 968.4 L410.5 966.9 L412.3 965.2 L414.3 963.4 L416.2 961.5 L417.9 959.6 L419.5 957.7 L420.7 955.9 L421.4 954.2 L421.7 952.7ZM433.4 984.2 L433.5 986.7 L433 989.2 L432 991.5 L430.6 993.7 L428.8 995.6 L426.8 997.3 L425.2 993 L427 990.8 L428.7 988.6 L430.1 986.3 L431.1 984.2 L431.8 982.2 L432 980.4Z" stroke="#4a7fc0" stroke-width="0.8" fill="#4a7fc0" stroke-linejoin="round"/>
<path d="M356.2 850.9 C358.7 849.3 365.9 843 371.5 841.4 C377 839.9 383.8 843 389.5 841.6 C395.1 840.3 399.8 834.6 405.4 833.2 C411.1 831.9 417.4 833.4 423.4 833.3 C429.4 833.2 435.4 832.3 441.4 832.6 C447.4 832.9 453.4 835.8 459.2 835.2 C465 834.6 470.5 831.3 476.1 828.9 C481.6 826.6 488 825.1 492.3 821.2 C496.6 817.4 498.5 810.9 501.8 806 C505.2 801 510.5 793.7 512.3 791.3" stroke="#1f5bab" stroke-width="2.3" fill="none" stroke-linecap="round" stroke-linejoin="round"/>
<path d="M483.2 877.1 C482.5 874.1 479.7 865.5 479.1 859.5 C478.5 853.6 478.8 847.5 479.4 841.5 C480.1 835.6 483.4 829.7 483 823.9 C482.6 818.1 480.6 811.1 476.9 807 C473.2 802.8 466 801.9 460.7 799.2 C455.4 796.4 450.4 791.4 444.8 790.6 C439.3 789.8 432.5 791.8 427.2 794.4 C422 797 417.1 801.4 413.6 806.1 C410 810.7 406.1 816.7 405.7 822.3 C405.3 827.8 410.1 836.6 411 839.5" stroke="#1f5bab" stroke-width="2.3" fill="none" stroke-linecap="round" stroke-linejoin="round"/>
<path d="M359.5 809.2 C360 806.2 362.3 797.3 362.3 791.4 C362.2 785.5 362.1 778.3 359.1 773.7 C356.1 769 349.7 765 344.2 763.5 C338.8 762 332.2 765 326.3 764.6 C320.3 764.3 314.5 762 308.6 761.3 C302.6 760.7 296.6 761.2 290.6 760.7 C284.6 760.3 277.8 761.1 272.7 758.6 C267.7 756.1 259.9 749.5 260.3 745.6 C260.7 741.7 271 739.6 275.1 735.4 C279.2 731.2 280.8 724.5 284.9 720.3 C289.1 716.2 297.5 712.1 300 710.4" stroke="#1f5bab" stroke-width="2.3" fill="none" stroke-linecap="round" stroke-linejoin="round"/>
<path d="M373.7 665.4 C370.8 664.7 357.2 659.7 356.2 661.2 C355.3 662.8 363.8 670.6 368.1 674.7 C372.5 678.8 379.4 681 382.3 685.9 C385.1 690.7 386 697.9 385.3 703.6 C384.7 709.3 378.5 714.7 378.6 720.3 C378.7 725.8 382.3 732.1 385.8 736.8 C389.3 741.4 397.4 746.3 399.7 748.2" stroke="#1f5bab" stroke-width="2.3" fill="none" stroke-linecap="round" stroke-linejoin="round"/>
<path d="M489 819.5 C491.9 818.7 503.1 812.7 506.4 815 C509.7 817.2 508.8 826.9 508.5 832.8 C508.3 838.7 507 844.9 505 850.5 C503 856.1 498.8 860.9 496.7 866.5 C494.7 872.1 495.5 878.8 492.9 884 C490.2 889.2 482.8 892.4 481.1 897.6 C479.3 902.9 483.7 910.1 482.2 915.6 C480.7 921.1 476.6 927.1 472.1 930.5 C467.5 933.9 459.6 932.6 454.9 935.8 C450.1 939 445.4 947.4 443.5 949.7" stroke="#1f5bab" stroke-width="2.3" fill="none" stroke-linecap="round" stroke-linejoin="round"/>
<path d="M359.8 825.4 C358.4 822.8 355 813.9 351 809.7 C347 805.5 340.1 804.1 335.8 800.1 C331.5 796.1 329.7 789.1 325.1 785.6 C320.5 782.2 313.5 782.2 308.1 779.6 C302.8 776.9 298.5 771.3 293 769.8 C287.5 768.3 281 769.9 275 770.5 C269.1 771.1 262.7 771.3 257.3 773.5 C251.9 775.8 245.1 782.3 242.7 784.1" stroke="#1f5bab" stroke-width="2.3" fill="none" stroke-linecap="round" stroke-linejoin="round"/>
<path d="M458 761.5 C459 758.6 460.3 748.6 464.1 744.5 C467.8 740.4 474.8 739 480.4 737 C486 734.9 492.5 731.1 497.7 732.2 C503 733.2 509.5 738.3 512 743.1 C514.6 747.9 513.3 755.1 512.9 761.1 C512.6 767 510.5 772.8 509.7 778.8 C508.8 784.7 508.6 790.7 508 796.7 C507.4 802.7 506.4 811.6 506.1 814.6" stroke="#1f5bab" stroke-width="2.3" fill="none" stroke-linecap="round" stroke-linejoin="round"/>
<path d="M402 945.6 C401.4 948.5 400 957.5 398.4 963.2 C396.9 969 396.6 977.3 392.6 980.3 C388.6 983.3 379.5 983.4 374.6 981.2 C369.8 979 367.7 971.3 363.6 967 C359.5 962.7 354.6 959 349.9 955.3 C345.2 951.6 338.4 949.4 335.4 944.7 C332.3 940 332.3 930 331.7 927.1" stroke="#1f5bab" stroke-width="2.3" fill="none" stroke-linecap="round" stroke-linejoin="round"/>
<path d="M365.3 856.1 C367.7 854.3 375.6 849.6 379.7 845.4 C383.9 841.2 388 836.2 390.4 830.8 C392.7 825.5 392.2 818.9 393.9 813.2 C395.5 807.4 397.3 801.4 400.4 796.4 C403.5 791.4 409.9 788.2 412.4 783 C415 777.9 414.1 771.1 415.8 765.4 C417.5 759.6 420.1 754.2 422.7 748.7 C425.2 743.3 429.6 735.4 431 732.8" stroke="#1f5bab" stroke-width="2.3" fill="none" stroke-linecap="round" stroke-linejoin="round"/>
<path d="M424.2 790.9 C421.3 791.6 411.6 792.1 406.7 795.1 C401.9 798.1 396.9 803.6 395.1 808.9 C393.3 814.2 397.6 821.6 395.8 826.9 C394 832.1 387 835.4 384.2 840.6 C381.4 845.8 381.7 852.5 379.2 857.9 C376.6 863.2 371.2 867.2 368.8 872.6 C366.5 878 365.5 887.3 364.9 890.2" stroke="#1f5bab" stroke-width="2.3" fill="none" stroke-linecap="round" stroke-linejoin="round"/>
<path d="M463.9 863.8 C461.4 865.5 454.6 872.8 449.1 874.1 C443.7 875.4 437 870.5 431.4 871.4 C425.7 872.2 420.5 876.5 415.1 879.2 C409.7 881.8 404.7 885.4 399.1 887.5 C393.6 889.5 387.5 890.8 381.6 891.6 C375.7 892.5 368.9 890.4 363.7 892.5 C358.4 894.6 353.6 899.7 350.2 904.5 C346.9 909.3 344.7 918.4 343.5 921.2" stroke="#1f5bab" stroke-width="2.3" fill="none" stroke-linecap="round" stroke-linejoin="round"/>
<path d="M245.1 799 C246.6 801.6 250.6 809.8 254.1 814.6 C257.6 819.4 262.4 823.3 266.1 827.9 C269.9 832.6 272 839.1 276.6 842.6 C281.1 846.1 287.6 847.5 293.4 849 C299.2 850.5 306.1 849 311.2 851.5 C316.4 854 321.9 858.9 324.2 864 C326.5 869.1 324.7 879 324.8 882" stroke="#1f5bab" stroke-width="2.3" fill="none" stroke-linecap="round" stroke-linejoin="round"/>
<path d="M415.5 896.9 C413.2 895.1 404.4 890.5 401.4 885.7 C398.4 880.9 398.9 874 397.5 868.2 C396.1 862.3 395 856.3 392.8 850.8 C390.7 845.2 387.9 839.6 384.4 834.9 C380.9 830.1 376.7 824.4 371.6 822.2 C366.5 820 359.6 822.3 353.6 821.6 C347.7 820.9 341.5 817.3 335.9 818.1 C330.4 819 322.7 825.2 320.1 826.6" stroke="#1f5bab" stroke-width="2.3" fill="none" stroke-linecap="round" stroke-linejoin="round"/>
<path d="M244.5 763.9 C247.5 764.4 256.4 765.8 262.2 767.1 C268.1 768.3 274.3 769 279.7 771.6 C285 774.1 290.9 777.5 294.2 782.2 C297.5 786.8 298.8 793.5 299.5 799.4 C300.1 805.2 299.5 811.6 298.1 817.3 C296.6 823.1 294.4 829.2 290.9 833.9 C287.5 838.5 279.4 843.5 277.1 845.4" stroke="#1f5bab" stroke-width="2.3" fill="none" stroke-linecap="round" stroke-linejoin="round"/>
<path d="M490.4 778.1 C490.9 775.2 492.9 766.4 493.6 760.4 C494.3 754.5 492.9 748.1 494.6 742.5 C496.2 736.9 500.7 726.7 503.5 726.8 C506.2 726.9 511.3 737.7 511.2 743.1 C511.1 748.5 506.2 754.1 503 759.1 C499.8 764.1 495 768.2 491.8 773.2 C488.5 778.2 484.8 786.5 483.4 789.1" stroke="#1f5bab" stroke-width="2.3" fill="none" stroke-linecap="round" stroke-linejoin="round"/>
<path d="M394 868.1 C397 867.8 406.3 867.9 411.9 866.1 C417.5 864.3 422.6 860.7 427.7 857.5 C432.7 854.3 437.9 851 442.2 846.8 C446.4 842.7 448.5 835.6 453.3 832.7 C458.1 829.7 465 829.2 470.9 828.9 C476.8 828.6 482.8 830.3 488.8 830.7 C494.8 831.1 505.9 829.1 506.8 831.3 C507.6 833.4 498.3 839.8 493.8 843.8 C489.4 847.8 484.7 851.6 480.1 855.4 C475.5 859.2 470.8 863 466 866.6 C461.3 870.3 455.8 873.3 451.7 877.5 C447.6 881.8 443 889.8 441.3 892.2" stroke="#1f5bab" stroke-width="2.3" fill="none" stroke-linecap="round" stroke-linejoin="round"/>
<path d="M267.8 769.9 L345.8 778.9 L402.5 833.2 L405.7 826.4 L349 772.1 L271 763.1" stroke="#2860aa" stroke-width="1" fill="#2860aa" stroke-linejoin="round"/>
<path d="M328.1 753.3 L361.5 767.5 L382.2 797.3 L379.7 800.4 L395.9 803.3 L389.8 788 L387.3 791.1 L366.5 761.3 L333.1 747.1" stroke="#17427e" stroke-width="1" fill="#17427e" stroke-linejoin="round"/>
<path d="M310.4 784.6 L335.1 788.5 L359.3 782.5 L359 775 L334.7 781 L310 777.1" stroke="#4a7fc0" stroke-width="1" fill="#4a7fc0" stroke-linejoin="round"/>
<path d="M400.7 779.5 L404.7 797.9 L408.8 816.3 L415.7 814.8 L411.6 796.4 L407.5 778" stroke="#1f5bab" stroke-width="1" fill="#1f5bab" stroke-linejoin="round"/>
<path d="M412.6 812.9 L461.8 789.1 L502 752.1 L504.4 755.6 L512.2 740 L494.8 741.6 L497.2 745.1 L457 782.1 L407.8 805.9" stroke="#1f5bab" stroke-width="1" fill="#1f5bab" stroke-linejoin="round"/>
<path d="M500.5 710.3 L481.6 719.8 L462.8 729.2 L461.2 726.1 L453.1 738 L467.5 738.6 L465.9 735.5 L484.8 726 L503.6 716.6" stroke="#1f5bab" stroke-width="1" fill="#1f5bab" stroke-linejoin="round"/>
<path d="M509 797.9 L500.7 831.7 L483.1 861.7 L479.9 860.4 L481.6 874.7 L492.9 865.6 L489.6 864.3 L507.2 834.3 L515.5 800.5" stroke="#1f5bab" stroke-width="1" fill="#1f5bab" stroke-linejoin="round"/>
<path d="M381.1 773 L408.8 787.6 L422 815.9 L427 811.1 L413.9 782.7 L386.2 768.2" stroke="#2a5aa0" stroke-width="1" fill="#2a5aa0" stroke-linejoin="round"/>
<path d="M420.4 766.5 C421.8 765.2 425.5 759 428.6 758.4 C431.6 757.7 438.1 758.4 438.8 762.4 C439.5 766.5 432.3 777.4 432.7 782.9 C433 788.3 438.4 791.7 440.8 795.1 C443.2 798.5 447.3 800.2 446.9 803.3 C446.6 806.3 441.2 812.4 438.8 813.5 C436.4 814.5 433.7 810.1 432.7 809.4" stroke="#9fe09f" stroke-width="1.4" fill="none" stroke-linecap="round" stroke-linejoin="round"/>
<path d="M355.1 817.6 C358.2 816.9 367.7 814.8 373.5 813.5 C379.3 812.1 387.1 810.1 389.8 809.4" stroke="#e8b0c0" stroke-width="1.2" fill="none" stroke-linecap="round" stroke-linejoin="round"/>
<path d="M482.6 696.3 C486.2 696.7 499.4 697.2 504.4 699 C509.3 700.8 512.1 707.6 512.5 707.1 C513 706.7 508.4 700.8 507.1 696.3 C505.7 691.7 503 684 504.4 679.9 C505.7 675.9 510.2 672.7 515.2 671.8 C520.2 670.9 528.4 671.3 534.3 674.5 C540.2 677.7 545.6 685.4 550.6 690.8 C555.6 696.3 561 702.2 564.2 707.1 C567.4 712.1 568.8 718.5 569.7 720.7" stroke="#e32a2a" stroke-width="2.4" fill="none" stroke-linecap="round" stroke-linejoin="round"/>
<path d="M469 739.8 C471.2 741.2 479.4 743.9 482.6 748 C485.8 752 488.5 758.8 488 764.3 C487.6 769.7 481.2 777.9 479.9 780.6" stroke="#e32a2a" stroke-width="2.4" fill="none" stroke-linecap="round" stroke-linejoin="round"/>
<path d="M485.3 764.3 C488 763.4 495.3 760.2 501.6 758.8 C508 757.5 516.6 755.2 523.4 756.1 C530.2 757 534.3 761.1 542.4 764.3 C550.6 767.5 565.6 772.4 572.4 775.2 C579.2 777.9 579.2 776.1 583.3 780.6 C587.3 785.1 591.4 796.9 596.9 802.4 C602.3 807.8 609.1 816 615.9 813.3 C622.7 810.5 629.5 793.3 637.7 786.1 C645.9 778.8 658.1 773.8 664.9 769.7 C671.7 765.6 674 763.8 678.5 761.6 C683 759.3 686.2 757.5 692.1 756.1 C698 754.8 708 753.9 713.9 753.4 C719.8 752.9 725.2 753.4 727.5 753.4" stroke="#e32a2a" stroke-width="2.4" fill="none" stroke-linecap="round" stroke-linejoin="round"/>
<path d="M692.1 734.4 C694.4 734.4 698.9 734.4 705.7 734.4 C712.5 734.4 723.4 733.4 732.9 734.4 C742.4 735.3 756.1 737.1 762.9 739.8 C769.7 742.5 769.2 747.1 773.7 750.7 C778.3 754.3 787.3 759.8 790.1 761.6" stroke="#e32a2a" stroke-width="2.4" fill="none" stroke-linecap="round" stroke-linejoin="round"/>
<path d="M692.1 734.4 C692.1 737.5 693.9 748 692.1 753.4 C690.3 758.8 683 764.7 681.2 767" stroke="#e32a2a" stroke-width="2.4" fill="none" stroke-linecap="round" stroke-linejoin="round"/>
<path d="M716.6 769.7 C716.1 773.4 713.4 784.2 713.9 791.5 C714.3 798.8 720.2 806.9 719.3 813.3 C718.4 819.6 708.9 825.1 708.4 829.6 C708 834.1 712.5 839.6 716.6 840.5 C720.7 841.4 730.2 839.6 732.9 835 C735.6 830.5 735.2 820.1 732.9 813.3 C730.7 806.5 721.6 797.4 719.3 794.2" stroke="#e32a2a" stroke-width="2.4" fill="none" stroke-linecap="round" stroke-linejoin="round"/>
<path d="M798.2 826.9 C801 826 808.7 821.4 814.6 821.4 C820.5 821.4 828.6 823.7 833.6 826.9 C838.6 830 839 838.2 844.5 840.5 C849.9 842.7 862.6 840.5 866.3 840.5" stroke="#e32a2a" stroke-width="2.4" fill="none" stroke-linecap="round" stroke-linejoin="round"/>
<path d="M811.8 829.6 C814.6 830.5 822.7 831.9 828.2 835 C833.6 838.2 841.8 846.4 844.5 848.6" stroke="#e32a2a" stroke-width="2.4" fill="none" stroke-linecap="round" stroke-linejoin="round"/>
<path d="M727.5 875.9 C729.8 877.7 737.5 882.7 741.1 886.7 C744.7 890.8 745.6 897.6 749.3 900.3 C752.9 903.1 759.7 901.2 762.9 903.1 C766 904.9 768.8 908 768.3 911.2 C767.8 914.4 762 916.7 760.1 922.1 C758.3 927.6 757.9 940.2 757.4 943.9" stroke="#e32a2a" stroke-width="2.4" fill="none" stroke-linecap="round" stroke-linejoin="round"/>
<path d="M675.8 922.1 C677.6 926.6 681.7 945.7 686.7 949.3 C691.7 952.9 700.3 945.7 705.7 943.9 C711.2 942.1 716.1 936.6 719.3 938.4 C722.5 940.2 722 948.4 724.8 954.8 C727.5 961.1 733.4 970.6 735.6 976.5 C737.9 982.4 740.2 988.3 738.4 990.1 C736.6 992 727.9 992 724.8 987.4 C721.6 982.9 718 969.3 719.3 962.9 C720.7 956.6 730.7 951.6 732.9 949.3" stroke="#e32a2a" stroke-width="2.4" fill="none" stroke-linecap="round" stroke-linejoin="round"/>
<path d="M441.8 867.7 C442.7 865.9 441.8 859.5 447.2 856.8 C452.7 854.1 467.2 851.4 474.4 851.4 C481.7 851.4 486.2 853.2 490.7 856.8 C495.3 860.4 500.7 866.8 501.6 873.1 C502.5 879.5 496.2 887.6 496.2 894.9 C496.2 902.2 498.5 913.9 501.6 916.7 C504.8 919.4 510.7 913.9 515.2 911.2 C519.8 908.5 524.3 901.7 528.8 900.3 C533.4 899 538.4 901.7 542.4 903.1 C546.5 904.4 551.5 907.6 553.3 908.5" stroke="#e32a2a" stroke-width="2.4" fill="none" stroke-linecap="round" stroke-linejoin="round"/>
<path d="M474.4 840.5 C474 838.2 470.3 830.5 471.7 826.9 C473.1 823.2 476.2 821.9 482.6 818.7 C488.9 815.5 503.9 810.5 509.8 807.8 C515.7 805.1 516.6 803.3 518 802.4" stroke="#e32a2a" stroke-width="2.4" fill="none" stroke-linecap="round" stroke-linejoin="round"/>
<path d="M441.8 867.7 C442.2 870 441.3 877.7 444.5 881.3 C447.7 884.9 453.6 887.2 460.8 889.5 C468.1 891.7 481.2 891.3 488 894.9 C494.8 898.5 499.4 908.5 501.6 911.2" stroke="#e32a2a" stroke-width="2.4" fill="none" stroke-linecap="round" stroke-linejoin="round"/>
<path d="M523.4 894.9 C525.2 894 530.2 889.5 534.3 889.5 C538.4 889.5 545.2 891.7 547.9 894.9 C550.6 898.1 552 905.8 550.6 908.5 C549.3 911.2 541.5 910.8 539.7 911.2" stroke="#e32a2a" stroke-width="2.4" fill="none" stroke-linecap="round" stroke-linejoin="round"/>
<path d="M553.9 744.7 L554.9 744.6 L556.3 744 L557.8 742.7 L559.6 741 L561.6 738.9 L563.7 736.6 L566 734.2 L568.3 731.9 L570.6 729.8 L572.9 728 L574.9 726.7 L576.8 725.9 L578.4 725.7 L580.1 726.3 L575 723.8 L572.1 722.7 L568.7 722 L565.1 721.9 L561.6 722.6 L558.2 723.8 L555.2 725.6 L552.5 727.7 L550.3 730.1 L548.7 732.7 L547.7 735.2 L547.3 737.6 L547.4 739.7 L548.3 741.4 L549.4 742.6ZM580.6 757.6 L581.4 757.4 L582.6 756.7 L584.1 755.4 L585.9 753.7 L587.9 751.6 L590 749.3 L592.3 746.9 L594.6 744.6 L596.9 742.5 L599.2 740.7 L601.2 739.4 L603.1 738.6 L604.7 738.4 L606.4 739 L601.3 736.5 L598.4 735.4 L595 734.7 L591.4 734.6 L587.9 735.3 L584.5 736.5 L581.5 738.3 L578.8 740.4 L576.6 742.8 L575 745.4 L574 747.9 L573.6 750.3 L573.7 752.4 L574.3 754 L575.4 755.1ZM606.9 770.3 L607.7 770.1 L608.9 769.4 L610.4 768.1 L612.2 766.4 L614.2 764.3 L616.3 762 L618.6 759.6 L620.9 757.3 L623.2 755.2 L625.5 753.4 L627.5 752.1 L629.4 751.3 L631 751.1 L632.7 751.7 L627.6 749.2 L624.7 748.1 L621.3 747.4 L617.7 747.3 L614.2 748 L610.8 749.2 L607.8 751 L605.1 753.1 L602.9 755.5 L601.3 758.1 L600.3 760.6 L599.9 763 L600 765.1 L600.6 766.7 L601.7 767.8ZM633.2 783 L634 782.8 L635.2 782.1 L636.7 780.8 L638.5 779.1 L640.5 777 L642.6 774.7 L644.9 772.3 L647.2 770 L649.6 767.9 L651.8 766.1 L653.8 764.8 L655.7 764 L657.3 763.8 L659.1 764.4 L653.9 761.9 L651.1 760.8 L647.6 760.1 L644 760 L640.5 760.7 L637.1 761.9 L634.1 763.7 L631.4 765.8 L629.3 768.2 L627.6 770.8 L626.6 773.3 L626.2 775.7 L626.3 777.8 L626.9 779.4 L628 780.5ZM659.5 795.7 L660.3 795.5 L661.5 794.8 L663 793.5 L664.8 791.8 L666.8 789.7 L668.9 787.4 L671.2 785 L673.5 782.7 L675.9 780.6 L678.1 778.8 L680.1 777.5 L682 776.7 L683.6 776.5 L685.4 777.1 L680.2 774.6 L677.4 773.5 L673.9 772.8 L670.3 772.7 L666.8 773.4 L663.4 774.6 L660.4 776.4 L657.7 778.5 L655.6 780.9 L653.9 783.5 L652.9 786 L652.5 788.4 L652.6 790.5 L653.2 792.1 L654.3 793.2ZM685.8 808.4 L686.6 808.2 L687.8 807.5 L689.3 806.2 L691.1 804.5 L693.1 802.4 L695.2 800.1 L697.5 797.7 L699.9 795.4 L702.2 793.3 L704.4 791.5 L706.4 790.2 L708.3 789.4 L709.9 789.2 L711.7 789.8 L706.5 787.3 L703.7 786.2 L700.2 785.5 L696.6 785.4 L693.1 786.1 L689.7 787.3 L686.7 789.1 L684 791.2 L681.9 793.6 L680.2 796.2 L679.2 798.7 L678.8 801.1 L678.9 803.2 L679.5 804.8 L680.6 805.9Z" stroke="#a81818" stroke-width="0.8" fill="#a81818" stroke-linejoin="round"/>
<path d="M558.5 738.9 L557.7 741.3 L556.7 743.2 L555.6 744.4 L554.5 744.8 L553.9 744.7 L549.4 742.6 L549.6 742.4 L549.8 741.6 L550.4 740.1 L551.3 738.2 L552.3 735.9ZM580.1 726.3 L583.1 728.3 L585.6 730.8 L587.6 733.8 L589 737.1 L589.9 740.5 L590.1 744 L589.9 747.3 L589.1 750.4 L587.9 753.1 L586.4 755.2 L584.8 756.7 L583.1 757.6 L581.5 757.8 L580.6 757.6 L575.4 755.1 L575.3 754.8 L575 753.7 L575 752 L575.1 749.7 L575.5 747.1 L575.9 744 L576.4 740.8 L576.8 737.5 L577.1 734.3 L577.2 731.4 L577 728.7 L576.7 726.5 L576 724.9 L575 723.8ZM606.4 739 L609.4 741 L611.9 743.5 L613.9 746.5 L615.3 749.8 L616.2 753.2 L616.4 756.7 L616.2 760 L615.4 763.1 L614.2 765.8 L612.7 767.9 L611.1 769.4 L609.4 770.3 L607.8 770.5 L606.9 770.3 L601.7 767.8 L601.6 767.5 L601.3 766.4 L601.3 764.7 L601.4 762.4 L601.8 759.8 L602.2 756.7 L602.7 753.5 L603.1 750.2 L603.4 747 L603.5 744.1 L603.3 741.4 L603 739.2 L602.3 737.6 L601.3 736.5ZM632.7 751.7 L635.7 753.7 L638.2 756.2 L640.2 759.2 L641.6 762.5 L642.5 765.9 L642.8 769.4 L642.5 772.7 L641.7 775.8 L640.5 778.5 L639.1 780.6 L637.4 782.1 L635.7 783 L634.1 783.2 L633.2 783 L628 780.5 L627.9 780.2 L627.6 779.1 L627.6 777.4 L627.7 775.1 L628.1 772.5 L628.5 769.4 L629 766.2 L629.4 762.9 L629.7 759.7 L629.8 756.8 L629.7 754.1 L629.3 751.9 L628.6 750.3 L627.6 749.2ZM659.1 764.4 L662 766.4 L664.5 768.9 L666.5 771.9 L667.9 775.2 L668.8 778.6 L669.1 782.1 L668.8 785.4 L668 788.5 L666.8 791.2 L665.4 793.3 L663.7 794.8 L662 795.7 L660.4 795.9 L659.5 795.7 L654.3 793.2 L654.2 792.9 L653.9 791.8 L653.9 790.1 L654.1 787.8 L654.4 785.2 L654.8 782.1 L655.3 778.9 L655.7 775.6 L656 772.4 L656.1 769.5 L656 766.8 L655.6 764.6 L654.9 763 L653.9 761.9ZM685.4 777.1 L688.3 779.1 L690.8 781.6 L692.8 784.6 L694.2 787.9 L695.1 791.3 L695.4 794.8 L695.1 798.1 L694.3 801.2 L693.1 803.9 L691.7 806 L690 807.5 L688.3 808.4 L686.7 808.6 L685.8 808.4 L680.6 805.9 L680.5 805.6 L680.2 804.5 L680.2 802.8 L680.4 800.5 L680.7 797.9 L681.1 794.8 L681.6 791.6 L682 788.3 L682.3 785.1 L682.4 782.2 L682.3 779.5 L681.9 777.3 L681.2 775.7 L680.2 774.6ZM711.7 789.8 L714.6 791.8 L717.1 794.3 L718.7 797.1 L719.7 800.2 L720 803.4 L719.8 806.6 L719 809.7 L717.8 812.5 L716.3 815.1 L710.1 812 L710.3 808.9 L710.3 805.5 L710.2 802 L709.9 798.5 L709.5 795.3 L708.9 792.4 L708.2 790 L707.5 788.4 L706.5 787.3Z" stroke="#e32a2a" stroke-width="0.8" fill="#e32a2a" stroke-linejoin="round"/>
<path d="M554.5 736.9 L553.5 739.3 L552.6 741.2M580.7 730.5 L581.3 733.4 L581.5 736.5 L581.4 739.8 L581.1 743.1 L580.5 746.3 L579.8 749.2 L579.1 751.7 L578.4 753.6M607 743.2 L607.6 746.1 L607.8 749.2 L607.8 752.5 L607.4 755.8 L606.8 759 L606.1 761.9 L605.4 764.3 L604.7 766.3M633.3 755.9 L633.9 758.8 L634.2 761.9 L634.1 765.2 L633.7 768.5 L633.1 771.7 L632.4 774.6 L631.7 777 L631 779M659.6 768.6 L660.2 771.5 L660.5 774.6 L660.4 777.9 L660 781.2 L659.4 784.4 L658.7 787.3 L658 789.7 L657.3 791.7M686 781.3 L686.5 784.2 L686.8 787.3 L686.7 790.6 L686.3 793.9 L685.7 797.1 L685 800 L684.3 802.4 L683.6 804.4M712.4 794 L713.1 797 L713.5 800.2 L713.5 803.6 L713.3 806.9 L712.9 810.2 L712.3 813.1" stroke="#f77a7a" stroke-width="2.7" fill="none" stroke-linecap="round" opacity="0.8"/>
<path d="M538.1 835 L539 834.8 L540.5 834.1 L541.9 832.7 L543.7 830.9 L545.6 828.6 L547.8 826.2 L550 823.6 L552.4 821.1 L554.7 818.9 L556.9 817 L559.1 815.5 L561 814.6 L562.7 814.4 L564.5 815 L559.3 812.7 L556.3 811.6 L552.7 811 L549.1 811.1 L545.5 811.9 L542.1 813.3 L539 815.3 L536.3 817.6 L534.2 820.2 L532.6 822.9 L531.6 825.6 L531.2 828 L531.4 830.1 L532.3 831.9 L533.6 833ZM566.1 847.3 L566.9 847.1 L568.1 846.3 L569.6 844.9 L571.3 843 L573.3 840.8 L575.4 838.3 L577.7 835.8 L580 833.3 L582.3 831 L584.6 829.1 L586.7 827.7 L588.6 826.8 L590.3 826.5 L592.1 827.1 L586.9 824.8 L583.9 823.7 L580.3 823.1 L576.7 823.3 L573.1 824.1 L569.7 825.5 L566.6 827.4 L563.9 829.7 L561.8 832.3 L560.2 835 L559.2 837.7 L558.8 840.2 L559 842.3 L559.7 843.9 L560.8 845ZM593.7 859.4 L594.6 859.2 L595.7 858.4 L597.2 857 L598.9 855.1 L600.9 852.9 L603 850.4 L605.3 847.9 L607.6 845.4 L610 843.2 L612.2 841.3 L614.3 839.8 L616.2 838.9 L617.9 838.7 L619.8 839.3 L614.5 836.9 L611.6 835.9 L608 835.3 L604.3 835.4 L600.7 836.2 L597.3 837.6 L594.2 839.5 L591.6 841.9 L589.4 844.5 L587.8 847.2 L586.9 849.8 L586.5 852.3 L586.6 854.4 L587.3 856.1 L588.4 857.1ZM621.3 871.6 L622.2 871.4 L623.4 870.6 L624.8 869.2 L626.6 867.3 L628.5 865 L630.7 862.6 L632.9 860 L635.3 857.6 L637.6 855.3 L639.8 853.4 L641.9 851.9 L643.9 851.1 L645.5 850.8 L647.4 851.4 L642.1 849.1 L639.2 848 L635.6 847.4 L631.9 847.5 L628.3 848.3 L624.9 849.8 L621.9 851.7 L619.2 854 L617.1 856.6 L615.5 859.3 L614.5 862 L614.1 864.4 L614.3 866.6 L615 868.2 L616.1 869.3ZM649 883.7 L649.8 883.5 L651 882.7 L652.5 881.3 L654.2 879.4 L656.1 877.2 L658.3 874.7 L660.6 872.2 L662.9 869.7 L665.2 867.4 L667.5 865.5 L669.6 864.1 L671.5 863.2 L673.2 862.9 L675 863.5 L669.8 861.2 L666.8 860.2 L663.2 859.6 L659.6 859.7 L656 860.5 L652.6 861.9 L649.5 863.8 L646.8 866.2 L644.7 868.8 L643.1 871.5 L642.1 874.1 L641.7 876.6 L641.9 878.7 L642.6 880.3 L643.7 881.4ZM676.6 895.9 L677.5 895.7 L678.6 894.8 L680.1 893.4 L681.8 891.6 L683.8 889.3 L685.9 886.9 L688.2 884.3 L690.5 881.9 L692.8 879.6 L695.1 877.7 L697.2 876.2 L699.1 875.3 L700.8 875.1 L702.7 875.7 L697.4 873.4 L694.5 872.3 L690.9 871.7 L687.2 871.8 L683.6 872.6 L680.2 874 L677.1 876 L674.5 878.3 L672.3 880.9 L670.7 883.6 L669.8 886.3 L669.4 888.7 L669.5 890.8 L670.2 892.5 L671.3 893.5ZM704.2 908 L705.1 907.8 L706.3 907 L707.3 905.4 L708.6 903.3 L710 900.9 L711.6 898.2 L713.4 895.4 L715.3 892.7 L717.3 890.3 L711 887.6 L707.6 889.4 L704.5 891.5 L701.9 893.9 L699.8 896.4 L698.2 898.8 L697.4 901 L697.2 903 L697.8 904.6 L699 905.7Z" stroke="#a81818" stroke-width="0.8" fill="#a81818" stroke-linejoin="round"/>
<path d="M542.6 828.8 L541.9 831.3 L540.9 833.3 L539.9 834.6 L538.7 835.1 L538.1 835 L533.6 833 L533.7 832.9 L534 832 L534.5 830.5 L535.3 828.5 L536.3 826ZM564.5 815 L567.6 816.9 L570.3 819.4 L572.4 822.4 L574 825.7 L575 829.3 L575.4 832.8 L575.2 836.3 L574.5 839.5 L573.4 842.3 L572 844.6 L570.4 846.2 L568.7 847.2 L567 847.5 L566.1 847.3 L560.8 845 L560.7 844.7 L560.4 843.6 L560.3 841.8 L560.5 839.5 L560.8 836.7 L561.1 833.6 L561.5 830.3 L561.8 826.9 L561.9 823.5 L561.9 820.4 L561.7 817.7 L561.2 815.4 L560.4 813.7 L559.3 812.7ZM592.1 827.1 L595.2 829 L597.9 831.6 L600 834.5 L601.6 837.9 L602.6 841.4 L603 845 L602.8 848.4 L602.1 851.6 L601 854.4 L599.6 856.7 L598 858.4 L596.3 859.4 L594.7 859.6 L593.7 859.4 L588.4 857.1 L588.3 856.9 L588 855.7 L588 854 L588.1 851.7 L588.4 848.9 L588.7 845.7 L589.1 842.4 L589.4 839 L589.6 835.7 L589.6 832.6 L589.3 829.8 L588.8 827.6 L588 825.9 L586.9 824.8ZM619.8 839.3 L622.9 841.2 L625.5 843.7 L627.7 846.7 L629.2 850 L630.2 853.5 L630.6 857.1 L630.4 860.6 L629.8 863.8 L628.7 866.6 L627.2 868.8 L625.6 870.5 L623.9 871.5 L622.3 871.8 L621.3 871.6 L616.1 869.3 L616 869 L615.7 867.9 L615.6 866.1 L615.7 863.8 L616 861 L616.4 857.9 L616.7 854.5 L617 851.1 L617.2 847.8 L617.2 844.7 L616.9 842 L616.4 839.7 L615.6 838 L614.5 836.9ZM647.4 851.4 L650.5 853.3 L653.1 855.8 L655.3 858.8 L656.9 862.1 L657.9 865.7 L658.3 869.3 L658.1 872.7 L657.4 875.9 L656.3 878.7 L654.9 881 L653.2 882.7 L651.6 883.6 L649.9 883.9 L649 883.7 L643.7 881.4 L643.6 881.1 L643.3 880 L643.2 878.3 L643.4 875.9 L643.7 873.2 L644 870 L644.4 866.7 L644.7 863.3 L644.8 859.9 L644.8 856.8 L644.6 854.1 L644.1 851.8 L643.3 850.2 L642.1 849.1ZM675 863.5 L678.1 865.5 L680.8 868 L682.9 871 L684.5 874.3 L685.5 877.8 L685.9 881.4 L685.7 884.9 L685 888.1 L683.9 890.9 L682.5 893.1 L680.9 894.8 L679.2 895.8 L677.6 896.1 L676.6 895.9 L671.3 893.5 L671.2 893.3 L670.9 892.1 L670.9 890.4 L671 888.1 L671.3 885.3 L671.6 882.2 L672 878.8 L672.3 875.4 L672.5 872.1 L672.4 869 L672.2 866.2 L671.7 864 L670.9 862.3 L669.8 861.2ZM702.7 875.7 L705.7 877.6 L708.4 880.1 L710.6 883.1 L712.1 886.4 L713.1 890 L713.5 893.5 L713.3 897 L712.7 900.2 L711.5 903 L710.1 905.3 L708.5 906.9 L706.8 907.9 L705.2 908.2 L704.2 908 L699 905.7 L698.8 905.4 L698.5 904.3 L698.5 902.5 L698.6 900.2 L698.9 897.4 L699.3 894.3 L699.6 891 L699.9 887.6 L700.1 884.2 L700.1 881.1 L699.8 878.4 L699.3 876.1 L698.5 874.4 L697.4 873.4Z" stroke="#e32a2a" stroke-width="0.8" fill="#e32a2a" stroke-linejoin="round"/>
<path d="M538.5 827 L537.6 829.5 L536.8 831.5M565.4 819.3 L566.1 822.3 L566.5 825.5 L566.5 828.9 L566.3 832.4 L565.8 835.7 L565.2 838.7 L564.5 841.3 L563.8 843.4M593.1 831.5 L593.8 834.4 L594.1 837.7 L594.2 841.1 L593.9 844.5 L593.4 847.8 L592.8 850.8 L592.1 853.4 L591.5 855.5M620.7 843.6 L621.4 846.6 L621.8 849.8 L621.8 853.2 L621.5 856.7 L621.1 859.9 L620.4 863 L619.8 865.6 L619.1 867.7M648.3 855.8 L649 858.7 L649.4 862 L649.4 865.4 L649.2 868.8 L648.7 872.1 L648.1 875.1 L647.4 877.7 L646.7 879.8M676 867.9 L676.7 870.8 L677 874.1 L677 877.5 L676.8 880.9 L676.3 884.2 L675.7 887.2 L675 889.8 L674.4 891.9M703.6 880 L704.3 883 L704.6 886.2 L704.7 889.6 L704.4 893.1 L703.9 896.4 L703.3 899.4 L702.7 902 L702 904.1" stroke="#f77a7a" stroke-width="2.7" fill="none" stroke-linecap="round" opacity="0.8"/>
<path d="M671.2 887.3 L672.2 886.6 L673.2 885.1 L673.7 883.1 L674.2 880.6 L674.7 877.6 L675.1 874.4 L675.6 871.1 L676.2 867.7 L676.8 864.6 L677.7 861.7 L678.7 859.3 L679.8 857.5 L681.2 856.2 L683.2 855.5 L677.6 856.9 L674.4 857.9 L671.1 859.6 L668 862 L665.5 864.8 L663.5 867.9 L662 871.3 L661.1 874.7 L660.7 878 L660.9 881.1 L661.4 883.8 L662.4 885.9 L663.5 887.5 L665.1 888.3 L666.5 888.5ZM707 878.4 L707.8 877.6 L708.5 876.2 L709.1 874.2 L709.6 871.7 L710.1 868.8 L710.5 865.6 L711 862.2 L711.5 858.9 L712.2 855.7 L713 852.9 L714 850.5 L715.2 848.6 L716.5 847.4 L718.5 846.7 L713 848.1 L709.8 849 L706.4 850.8 L703.4 853.1 L700.9 855.9 L698.8 859.1 L697.4 862.4 L696.4 865.9 L696.1 869.2 L696.2 872.2 L696.8 874.9 L697.7 877.1 L698.9 878.7 L700.2 879.6 L701.4 879.8ZM742.4 869.5 L743.2 868.8 L743.9 867.4 L744.5 865.4 L745 862.9 L745.4 859.9 L745.9 856.7 L746.4 853.4 L746.9 850.1 L747.6 846.9 L748.4 844 L749.4 841.6 L750.6 839.8 L751.9 838.5 L753.9 837.8 L748.3 839.2 L745.2 840.2 L741.8 842 L738.8 844.3 L736.2 847.1 L734.2 850.2 L732.7 853.6 L731.8 857 L731.5 860.3 L731.6 863.4 L732.2 866.1 L733.1 868.2 L734.3 869.8 L735.6 870.7 L736.8 870.9ZM777.8 860.7 L778.6 860 L779.3 858.6 L779.9 856.6 L780.3 854 L780.8 851.1 L781.2 847.9 L781.7 844.5 L782.3 841.2 L783 838.1 L783.8 835.2 L784.8 832.8 L785.9 830.9 L787.3 829.7 L789.3 829 L783.7 830.4 L780.6 831.4 L777.2 833.1 L774.2 835.4 L771.6 838.2 L769.6 841.4 L768.1 844.8 L767.2 848.2 L766.8 851.5 L767 854.6 L767.6 857.2 L768.5 859.4 L769.7 861 L770.9 861.9 L772.2 862.1Z" stroke="#a81818" stroke-width="0.8" fill="#a81818" stroke-linejoin="round"/>
<path d="M669.8 880.2 L671 882.5 L671.7 884.5 L671.9 886.1 L671.5 887 L671.2 887.3 L666.5 888.5 L666.3 888.4 L665.6 887.6 L664.9 886.2 L664.1 884.3 L663.1 881.9ZM683.2 855.5 L687 855.1 L690.8 855.4 L694.4 856.3 L697.9 857.8 L701 859.9 L703.7 862.3 L705.9 865 L707.5 867.8 L708.5 870.5 L709 873 L709 875.2 L708.5 876.9 L707.6 878 L707 878.4 L701.4 879.8 L700.9 879.7 L699.7 879.1 L698.4 877.8 L696.8 876.1 L695.1 873.9 L693.3 871.3 L691.3 868.6 L689.3 865.9 L687.2 863.3 L685.1 861 L683.1 859.1 L681.1 857.8 L679.3 857 L677.6 856.9ZM718.5 846.7 L722.3 846.2 L726.1 846.5 L729.8 847.5 L733.3 849 L736.4 851 L739.1 853.5 L741.2 856.1 L742.8 858.9 L743.9 861.7 L744.4 864.2 L744.4 866.4 L743.9 868.1 L743 869.2 L742.4 869.5 L736.8 870.9 L736.3 870.9 L735.1 870.2 L733.7 869 L732.2 867.2 L730.5 865 L728.6 862.5 L726.7 859.8 L724.6 857.1 L722.6 854.5 L720.5 852.2 L718.5 850.3 L716.5 848.9 L714.7 848.2 L713 848.1ZM753.9 837.8 L757.7 837.4 L761.5 837.7 L765.2 838.6 L768.6 840.1 L771.8 842.2 L774.4 844.6 L776.6 847.3 L778.2 850.1 L779.3 852.8 L779.8 855.3 L779.7 857.5 L779.2 859.2 L778.4 860.3 L777.8 860.7 L772.2 862.1 L771.7 862 L770.5 861.4 L769.1 860.2 L767.6 858.4 L765.9 856.2 L764 853.6 L762.1 850.9 L760 848.2 L757.9 845.6 L755.9 843.3 L753.8 841.5 L751.9 840.1 L750 839.3 L748.3 839.2ZM789.3 829 L793.1 828.6 L796.9 828.8 L800.2 829.9 L803.1 831.5 L805.6 833.7 L807.7 836.3 L809.4 839.1 L810.6 842 L811.3 844.8 L804.6 846.5 L802.4 844 L800 841.4 L797.5 838.9 L794.8 836.4 L792.1 834.3 L789.6 832.5 L787.2 831.2 L785.4 830.5 L783.7 830.4Z" stroke="#e32a2a" stroke-width="0.8" fill="#e32a2a" stroke-linejoin="round"/>
<path d="M665.4 881.3 L666.5 883.7 L667.3 885.6M687.1 858.1 L689.6 859.9 L692 862.1 L694.3 864.6 L696.4 867.4 L698.2 870.1 L699.8 872.7 L701.1 875 L702.1 876.9M722.4 849.3 L725 851.1 L727.4 853.3 L729.7 855.8 L731.8 858.5 L733.6 861.2 L735.2 863.8 L736.5 866.2 L737.5 868.1M757.8 840.5 L760.3 842.2 L762.8 844.4 L765.1 847 L767.1 849.7 L769 852.4 L770.6 855 L771.8 857.3 L772.8 859.2M793.3 831.6 L796 833.3 L798.6 835.5 L801.1 838 L803.3 840.6 L805.3 843.3 L806.9 845.9" stroke="#f77a7a" stroke-width="2.7" fill="none" stroke-linecap="round" opacity="0.8"/>
<path d="M564 920.8 L565.2 920.1 L566.5 918.8 L567.5 917 L568.4 914.6 L569.3 911.8 L570.3 908.8 L571.3 905.6 L572.3 902.5 L573.5 899.5 L574.7 896.9 L576.1 894.7 L577.5 893 L579 891.9 L581.2 891.5 L575.5 892.2 L572.2 892.8 L568.5 894.1 L565.2 896 L562.3 898.4 L559.8 901.2 L557.8 904.3 L556.4 907.4 L555.5 910.6 L555.2 913.5 L555.3 916.2 L555.8 918.4 L556.7 920 L557.9 921 L559.1 921.4ZM603.2 916 L604.3 915.3 L605.3 914.1 L606.2 912.2 L607.2 909.8 L608.1 907 L609.1 904 L610.1 900.8 L611.1 897.7 L612.3 894.7 L613.5 892.1 L614.8 889.9 L616.3 888.2 L617.8 887.2 L619.9 886.7 L614.2 887.4 L610.9 888 L607.3 889.3 L604 891.2 L601 893.6 L598.6 896.4 L596.6 899.5 L595.2 902.7 L594.3 905.8 L594 908.8 L594.1 911.4 L594.6 913.6 L595.4 915.3 L596.4 916.3 L597.5 916.7ZM642 911.2 L643.1 910.6 L644.1 909.3 L645 907.4 L645.9 905.1 L646.9 902.3 L647.8 899.2 L648.8 896.1 L649.9 892.9 L651 890 L652.3 887.3 L653.6 885.1 L655.1 883.5 L656.6 882.4 L658.7 882 L653 882.7 L649.7 883.3 L646.1 884.6 L642.8 886.5 L639.8 888.9 L637.3 891.7 L635.4 894.7 L634 897.9 L633.1 901.1 L632.7 904 L632.9 906.7 L633.4 908.9 L634.2 910.5 L635.2 911.5 L636.3 911.9ZM680.8 906.4 L681.8 905.8 L682.8 904.5 L683.8 902.7 L684.7 900.3 L685.7 897.5 L686.6 894.5 L687.6 891.3 L688.7 888.2 L689.8 885.2 L691.1 882.6 L692.4 880.4 L693.8 878.7 L695.4 877.7 L697.5 877.2 L691.8 877.9 L688.5 878.5 L684.9 879.8 L681.5 881.7 L678.6 884.1 L676.1 886.9 L674.2 890 L672.7 893.1 L671.9 896.3 L671.5 899.3 L671.6 901.9 L672.2 904.1 L673 905.7 L674 906.8 L675.1 907.1Z" stroke="#a81818" stroke-width="0.8" fill="#a81818" stroke-linejoin="round"/>
<path d="M562.8 913.9 L563.9 916.2 L564.4 918.2 L564.5 919.7 L564.2 920.6 L564 920.8 L559.1 921.4 L558.8 921.2 L558.1 920.5 L557.5 919 L556.8 917.1 L556 914.7ZM581.2 891.5 L585 891.5 L588.8 892.2 L592.4 893.5 L595.7 895.4 L598.6 897.7 L601 900.3 L602.9 903.1 L604.2 906 L605 908.7 L605.3 911.1 L605.2 913.2 L604.6 914.7 L603.7 915.7 L603.2 916 L597.5 916.7 L596.9 916.6 L595.6 915.8 L594.3 914.5 L592.9 912.7 L591.3 910.4 L589.7 907.7 L588 904.9 L586.2 902.1 L584.4 899.4 L582.6 897 L580.8 895 L578.9 893.4 L577.2 892.5 L575.5 892.2ZM619.9 886.7 L623.8 886.8 L627.6 887.5 L631.2 888.8 L634.4 890.6 L637.3 892.9 L639.8 895.5 L641.7 898.4 L643 901.2 L643.8 903.9 L644.1 906.4 L643.9 908.4 L643.4 910 L642.5 910.9 L642 911.2 L636.3 911.9 L635.6 911.8 L634.4 911.1 L633.1 909.8 L631.6 907.9 L630.1 905.6 L628.5 903 L626.8 900.2 L625 897.4 L623.2 894.7 L621.4 892.2 L619.5 890.2 L617.7 888.7 L615.9 887.7 L614.2 887.4ZM658.7 882 L662.6 882 L666.3 882.7 L669.9 884 L673.2 885.9 L676.1 888.2 L678.5 890.8 L680.4 893.6 L681.8 896.4 L682.6 899.2 L682.9 901.6 L682.7 903.7 L682.1 905.2 L681.3 906.2 L680.8 906.4 L675.1 907.1 L674.4 907 L673.2 906.3 L671.9 905 L670.4 903.1 L668.9 900.8 L667.3 898.2 L665.6 895.4 L663.8 892.6 L662 889.9 L660.1 887.5 L658.3 885.4 L656.5 883.9 L654.7 883 L653 882.7ZM697.5 877.2 L701.3 877.2 L705.1 877.9 L708.3 879.3 L711.1 881.2 L713.4 883.6 L715.2 886.3 L716.6 889.2 L717.4 892.1 L717.9 894.8 L711.1 895.7 L709.2 893.1 L707 890.3 L704.7 887.6 L702.3 884.9 L699.8 882.6 L697.5 880.6 L695.3 879.1 L693.5 878.2 L691.8 877.9Z" stroke="#e32a2a" stroke-width="0.8" fill="#e32a2a" stroke-linejoin="round"/>
<path d="M558.4 914.4 L559.3 916.8 L559.9 918.8M584.8 894.5 L587.2 896.4 L589.4 898.8 L591.4 901.5 L593.2 904.3 L594.8 907.1 L596.1 909.8 L597.2 912.1 L598.1 914.1M623.6 889.7 L625.9 891.7 L628.1 894 L630.2 896.7 L632 899.5 L633.6 902.4 L634.9 905 L636 907.4 L636.9 909.3M662.4 884.9 L664.7 886.9 L666.9 889.3 L668.9 892 L670.8 894.8 L672.3 897.6 L673.7 900.2 L674.8 902.6 L675.7 904.5M701.3 880.1 L703.8 882.1 L706.2 884.5 L708.4 887.1 L710.3 889.9 L712.1 892.7 L713.5 895.4" stroke="#f77a7a" stroke-width="2.7" fill="none" stroke-linecap="round" opacity="0.8"/>
<path d="M552.3 948.3 L553.3 947.7 L554.5 946.4 L555.3 944.6 L556.1 942.3 L557 939.5 L557.8 936.5 L558.7 933.4 L559.7 930.3 L560.7 927.4 L561.8 924.8 L563 922.6 L564.3 921 L565.7 920 L567.8 919.6 L561.3 920.3 L557.9 920.8 L554.2 922 L550.7 923.9 L547.7 926.2 L545.1 928.9 L543.2 932 L541.8 935.1 L541.1 938.2 L540.9 941.1 L541.3 943.7 L542.1 945.9 L543.3 947.5 L545.1 948.5 L546.7 948.8ZM586.8 944.8 L587.7 944.2 L588.5 943 L589.3 941.2 L590.1 938.8 L591 936.1 L591.8 933.1 L592.7 930 L593.7 926.9 L594.7 924 L595.8 921.4 L597.1 919.2 L598.4 917.6 L599.8 916.6 L601.8 916.2 L595.3 916.9 L591.9 917.4 L588.2 918.6 L584.7 920.5 L581.7 922.8 L579.1 925.5 L577.2 928.5 L575.8 931.7 L575.1 934.8 L574.9 937.7 L575.3 940.3 L576.1 942.5 L577.3 944.1 L578.8 945.1 L580.3 945.5ZM620.8 941.4 L621.7 940.8 L622.5 939.6 L623.4 937.8 L624.2 935.4 L625 932.7 L625.8 929.7 L626.7 926.6 L627.7 923.5 L628.7 920.6 L629.9 918 L631.1 915.8 L632.4 914.2 L633.8 913.2 L635.8 912.8 L629.3 913.5 L626 914 L622.2 915.2 L618.7 917.1 L615.7 919.4 L613.2 922.1 L611.2 925.1 L609.8 928.3 L609.1 931.4 L608.9 934.3 L609.3 936.9 L610.1 939.1 L611.3 940.7 L612.8 941.7 L614.3 942.1ZM654.8 938 L655.7 937.4 L656.5 936.2 L657.4 934.4 L658.2 932 L659 929.3 L659.8 926.3 L660.7 923.2 L661.7 920.1 L662.7 917.2 L663.9 914.6 L665.1 912.4 L666.4 910.8 L667.8 909.8 L669.8 909.4 L663.3 910.1 L660 910.6 L656.2 911.8 L652.8 913.7 L649.7 916 L647.2 918.7 L645.2 921.7 L643.8 924.9 L643.1 928 L642.9 930.9 L643.3 933.5 L644.2 935.7 L645.4 937.3 L646.8 938.3 L648.3 938.7Z" stroke="#a81818" stroke-width="0.8" fill="#a81818" stroke-linejoin="round"/>
<path d="M552.9 941.2 L553.6 943.6 L553.8 945.6 L553.6 947.1 L552.9 948 L552.3 948.3 L546.7 948.8 L546.7 948.7 L546.3 947.8 L545.9 946.4 L545.5 944.4 L545.1 942ZM567.8 919.6 L571.7 919.7 L575.6 920.5 L579.2 921.9 L582.5 923.8 L585.3 926.2 L587.6 928.9 L589.3 931.7 L590.3 934.6 L590.8 937.4 L590.7 939.9 L590.1 942 L589 943.6 L587.7 944.6 L586.8 944.8 L580.3 945.5 L579.9 945.3 L578.9 944.6 L577.7 943.2 L576.5 941.3 L575.2 938.9 L573.8 936.3 L572.4 933.4 L570.8 930.5 L569.2 927.8 L567.6 925.3 L566 923.2 L564.4 921.6 L562.8 920.6 L561.3 920.3ZM601.8 916.2 L605.7 916.3 L609.6 917.1 L613.2 918.5 L616.5 920.4 L619.3 922.8 L621.6 925.5 L623.3 928.3 L624.3 931.2 L624.8 934 L624.7 936.5 L624.1 938.6 L623 940.2 L621.7 941.2 L620.8 941.4 L614.3 942.1 L613.9 941.9 L612.9 941.2 L611.7 939.8 L610.5 937.9 L609.2 935.5 L607.8 932.9 L606.4 930 L604.8 927.1 L603.3 924.4 L601.7 921.9 L600 919.8 L598.4 918.2 L596.8 917.2 L595.3 916.9ZM635.8 912.8 L639.8 912.9 L643.6 913.7 L647.2 915.1 L650.5 917 L653.3 919.4 L655.6 922.1 L657.3 924.9 L658.4 927.8 L658.8 930.6 L658.7 933.1 L658.1 935.2 L657.1 936.8 L655.7 937.7 L654.8 938 L648.3 938.7 L647.9 938.5 L646.9 937.8 L645.8 936.4 L644.5 934.5 L643.2 932.1 L641.9 929.5 L640.4 926.6 L638.9 923.7 L637.3 921 L635.7 918.5 L634 916.4 L632.4 914.8 L630.9 913.8 L629.3 913.5ZM669.8 909.4 L673.8 909.5 L677.6 910.3 L680.8 911.7 L683.5 913.7 L685.6 916.1 L687.2 918.9 L688.3 921.8 L688.8 924.8 L688.9 927.6 L681.1 928.3 L679.4 925.7 L677.4 922.9 L675.3 920.1 L673 917.4 L670.7 915 L668.5 912.9 L666.4 911.4 L664.9 910.4 L663.3 910.1Z" stroke="#e32a2a" stroke-width="0.8" fill="#e32a2a" stroke-linejoin="round"/>
<path d="M547.8 941.7 L548.4 944.1 L548.7 946.1M570.6 922.7 L572.8 924.8 L574.9 927.2 L576.7 930 L578.3 932.8 L579.6 935.7 L580.7 938.4 L581.5 940.8 L582 942.8M604.7 919.3 L606.8 921.4 L608.9 923.8 L610.7 926.6 L612.3 929.4 L613.6 932.3 L614.7 935 L615.5 937.4 L616.1 939.4M638.7 915.9 L640.9 918 L642.9 920.4 L644.7 923.1 L646.3 926 L647.6 928.9 L648.7 931.6 L649.5 934 L650.1 936M672.8 912.5 L675.2 914.5 L677.4 917 L679.4 919.7 L681.2 922.5 L682.7 925.4 L683.9 928.1" stroke="#f77a7a" stroke-width="3.1" fill="none" stroke-linecap="round" opacity="0.8"/>
<path d="M732.2 764.1 L732.4 763.3 L732.6 762 L733 760.3 L733.5 758.2 L734.1 755.8 L734.9 753.4 L735.9 751 L737 748.6 L738.2 746.5 L739.6 744.8 L741.1 743.5 L742.7 742.7 L744.3 742.4 L747.3 742.7 L743.6 742.7 L742 742.4 L738.9 742.7 L735.9 743.5 L733.2 744.8 L730.7 746.5 L728.6 748.6 L727 751 L725.9 753.4 L725.3 755.8 L725.1 758.2 L725.5 760.3 L726.2 762 L727.2 763.3 L728.4 764.1ZM756.7 764.1 L756.8 763.3 L757.1 762 L757.5 760.3 L758 758.2 L758.6 755.8 L759.4 753.4 L760.4 751 L761.5 748.6 L762.7 746.5 L764.1 744.8 L765.6 743.5 L767.2 742.7 L768.7 742.4 L771.7 742.7 L768.2 742.7 L766.5 742.4 L763.4 742.7 L760.4 743.5 L757.7 744.8 L755.2 746.5 L753.1 748.6 L751.5 751 L750.4 753.4 L749.8 755.8 L749.6 758.2 L749.9 760.3 L750.7 762 L751.7 763.3 L752.9 764.1Z" stroke="#a81818" stroke-width="0.8" fill="#a81818" stroke-linejoin="round"/>
<path d="M733.6 753.4 L734.6 755.8 L735.1 758.2 L735.2 760.3 L734.9 762 L734.2 763.3 L733.2 764.1 L732 764.4 L732.2 764.1 L728.4 764.1 L729.8 764.4 L729.7 764.1 L729.8 763.3 L729.8 762 L729.9 760.3 L729.8 758.2 L729.5 755.8 L729.1 753.4ZM747.3 742.7 L750.3 743.5 L753.1 744.8 L755.6 746.5 L757.6 748.6 L759.2 751 L760.4 753.4 L761 755.8 L761.1 758.2 L760.8 760.3 L760.1 762 L759.1 763.3 L757.8 764.1 L756.5 764.4 L756.7 764.1 L752.9 764.1 L754.2 764.4 L754.1 764.1 L753.9 763.3 L753.6 762 L753.3 760.3 L752.8 758.2 L752.1 755.8 L751.4 753.4 L750.4 751 L749.3 748.6 L748 746.5 L746.6 744.8 L745.2 743.5 L743.6 742.7ZM771.7 742.7 L774.5 743.5 L776.9 744.8 L779 746.5 L780.6 748.6 L781.8 751 L782.6 753.4 L778.1 753.4 L776.8 751 L775.3 748.6 L773.6 746.5 L771.8 744.8 L770 743.5 L768.2 742.7Z" stroke="#e32a2a" stroke-width="0.8" fill="#e32a2a" stroke-linejoin="round"/>
<path d="M730.7 753.4 L731.3 755.8 L731.7 758.2 L731.7 760.3 L731.6 762M748.9 744.8 L750.7 746.5 L752.2 748.6 L753.5 751 L754.5 753.4 L755.2 755.8 L755.7 758.2 L755.9 760.3 L755.9 762M773.6 744.8 L775.5 746.5 L777.1 748.6 L778.5 751 L779.7 753.4" stroke="#f77a7a" stroke-width="1.6" fill="none" stroke-linecap="round" opacity="0.8"/>
<text x="196" y="700" font-size="72" fill="#1a3f9e">N</text>
<text x="826" y="807" font-size="66" fill="#c4172b">C</text>
<text x="1801" y="107" font-size="39" stroke="#000" stroke-width="0.5" textLength="77" lengthAdjust="spacingAndGlyphs">FTO</text>
<rect x="1740" y="118.5" width="167.5" height="271" fill="#b2d2f8" stroke="none" stroke-width="1"/>
<rect x="1744" y="121" width="36" height="266" fill="#a6c8f4" stroke="none" stroke-width="1" opacity="0.6" filter="url(#fb2)"/>
<rect x="1746" y="126.8" width="31" height="3.5" fill="#1463ea" stroke="none" stroke-width="1" rx="1.8" opacity="0.85" filter="url(#fb1)"/>
<rect x="1746" y="140.8" width="31" height="3.5" fill="#1463ea" stroke="none" stroke-width="1" rx="1.8" opacity="0.85" filter="url(#fb1)"/>
<rect x="1746" y="160.6" width="31" height="3.5" fill="#1463ea" stroke="none" stroke-width="1" rx="1.8" opacity="0.75" filter="url(#fb1)"/>
<rect x="1747" y="180.2" width="30" height="7" fill="#1463ea" stroke="none" stroke-width="1" rx="3.5" opacity="1" filter="url(#fb1)"/>
<rect x="1750" y="219.2" width="26" height="8.5" fill="#1463ea" stroke="none" stroke-width="1" rx="4" opacity="1" filter="url(#fb1)"/>
<rect x="1752" y="257.2" width="24" height="8" fill="#1463ea" stroke="none" stroke-width="1" rx="4" opacity="0.9" filter="url(#fb1)"/>
<rect x="1754" y="327" width="23" height="11" fill="#1463ea" stroke="none" stroke-width="1" rx="4" opacity="1" filter="url(#fb1)"/>
<rect x="1757" y="357.3" width="19" height="7" fill="#1463ea" stroke="none" stroke-width="1" rx="3.5" opacity="0.95" filter="url(#fb1)"/>
<rect x="1788" y="206.5" width="52" height="16" fill="#5c9ef2" stroke="none" stroke-width="1" rx="7" filter="url(#fb15)"/>
<rect x="1791" y="213" width="46" height="10" fill="#2f7ff0" stroke="none" stroke-width="1" rx="5" filter="url(#fb1)"/>
<rect x="1846" y="206.5" width="52" height="16" fill="#5c9ef2" stroke="none" stroke-width="1" rx="7" filter="url(#fb15)"/>
<rect x="1849" y="213" width="46" height="10" fill="#2f7ff0" stroke="none" stroke-width="1" rx="5" filter="url(#fb1)"/>
<rect x="1740" y="118.5" width="167.5" height="271" fill="none" stroke="#111" stroke-width="4"/>
<text x="1698" y="137.9" font-size="39" text-anchor="end" stroke="#000" stroke-width="0.5" textLength="118" lengthAdjust="spacingAndGlyphs">250 kD</text>
<line x1="1699" y1="127.3" x2="1717.5" y2="127.3" stroke="#000" stroke-width="2.6"/>
<path d="M1715.5 119.8 L1736.5 127.3 L1715.5 134.8" stroke="none" stroke-width="1" fill="#000"/>
<text x="1698" y="191" font-size="39" text-anchor="end" stroke="#000" stroke-width="0.5" textLength="99" lengthAdjust="spacingAndGlyphs">75 kD</text>
<line x1="1699" y1="182" x2="1717.5" y2="182" stroke="#000" stroke-width="2.6"/>
<path d="M1715.5 174.5 L1736.5 182 L1715.5 189.5" stroke="none" stroke-width="1" fill="#000"/>
<text x="1698" y="232.9" font-size="39" text-anchor="end" stroke="#000" stroke-width="0.5" textLength="99" lengthAdjust="spacingAndGlyphs">50 kD</text>
<line x1="1699" y1="223.5" x2="1717.5" y2="223.5" stroke="#000" stroke-width="2.6"/>
<path d="M1715.5 216 L1736.5 223.5 L1715.5 231" stroke="none" stroke-width="1" fill="#000"/>
<text x="1698" y="274.9" font-size="39" text-anchor="end" stroke="#000" stroke-width="0.5" textLength="99" lengthAdjust="spacingAndGlyphs">37 kD</text>
<line x1="1699" y1="260.9" x2="1717.5" y2="260.9" stroke="#000" stroke-width="2.6"/>
<path d="M1715.5 253.4 L1736.5 260.9 L1715.5 268.4" stroke="none" stroke-width="1" fill="#000"/>
<text x="1698" y="346" font-size="39" text-anchor="end" stroke="#000" stroke-width="0.5" textLength="99" lengthAdjust="spacingAndGlyphs">25 kD</text>
<line x1="1699" y1="332" x2="1717.5" y2="332" stroke="#000" stroke-width="2.6"/>
<path d="M1715.5 324.5 L1736.5 332 L1715.5 339.5" stroke="none" stroke-width="1" fill="#000"/>
<text x="1377.1" y="610.8" font-size="42.5" stroke="#000" stroke-width="0.5" textLength="153" lengthAdjust="spacingAndGlyphs">FTO-NT</text>
<rect x="1370.3" y="619.8" width="160.7" height="376" fill="url(#gNT)" stroke="none" stroke-width="1"/>
<rect x="1378" y="622" width="40" height="372" fill="#cfdff6" stroke="none" stroke-width="1" opacity="0.8" filter="url(#fb2)"/>
<rect x="1381" y="640.5" width="34" height="9" fill="#7299ea" stroke="none" stroke-width="1" rx="4" opacity="0.95" filter="url(#fb3)"/>
<rect x="1381" y="686.5" width="34" height="9" fill="#789eec" stroke="none" stroke-width="1" rx="4" opacity="0.9" filter="url(#fb3)"/>
<rect x="1381" y="709.5" width="34" height="16" fill="#d2a6c0" stroke="none" stroke-width="1" rx="4" opacity="0.75" filter="url(#fb3)"/>
<rect x="1381" y="768" width="34" height="10" fill="#84a6ee" stroke="none" stroke-width="1" rx="4" opacity="0.85" filter="url(#fb3)"/>
<rect x="1381" y="817.3" width="34" height="10" fill="#84a8f0" stroke="none" stroke-width="1" rx="4" opacity="0.8" filter="url(#fb3)"/>
<rect x="1381" y="874.3" width="34" height="12" fill="#7f96f0" stroke="none" stroke-width="1" rx="4" opacity="0.95" filter="url(#fb3)"/>
<rect x="1382" y="973" width="36" height="13" fill="#b4acdc" stroke="none" stroke-width="1" opacity="0.6" filter="url(#fb3)"/>
<rect x="1376" y="966.8" width="48" height="4.4" fill="#361672" stroke="none" stroke-width="1" rx="2" filter="url(#fb1)"/>
<rect x="1469" y="760" width="53" height="53" fill="url(#gNTb)" stroke="none" stroke-width="1" rx="11" filter="url(#fb2)"/>
<rect x="1370.3" y="619.8" width="160.7" height="376" fill="none" stroke="#111" stroke-width="3.2"/>
<text x="1331" y="657.8" font-size="35.6" text-anchor="end" stroke="#000" stroke-width="0.5" textLength="112.5" lengthAdjust="spacingAndGlyphs">100 kD</text>
<line x1="1331" y1="646" x2="1347" y2="646" stroke="#000" stroke-width="2.6"/>
<path d="M1345 639 L1365 646 L1345 653" stroke="none" stroke-width="1" fill="#000"/>
<text x="1331" y="699.5" font-size="35.6" text-anchor="end" stroke="#000" stroke-width="0.5" textLength="93" lengthAdjust="spacingAndGlyphs">70 kD</text>
<line x1="1331" y1="690.4" x2="1347" y2="690.4" stroke="#000" stroke-width="2.6"/>
<path d="M1345 683.4 L1365 690.4 L1345 697.4" stroke="none" stroke-width="1" fill="#000"/>
<text x="1331" y="736" font-size="35.6" text-anchor="end" stroke="#000" stroke-width="0.5" textLength="93" lengthAdjust="spacingAndGlyphs">50 kD</text>
<line x1="1331" y1="719" x2="1347" y2="719" stroke="#000" stroke-width="2.6"/>
<path d="M1345 712 L1365 719 L1345 726" stroke="none" stroke-width="1" fill="#000"/>
<text x="1331" y="784" font-size="35.6" text-anchor="end" stroke="#000" stroke-width="0.5" textLength="93" lengthAdjust="spacingAndGlyphs">40 kD</text>
<line x1="1331" y1="773.3" x2="1347" y2="773.3" stroke="#000" stroke-width="2.6"/>
<path d="M1345 766.3 L1365 773.3 L1345 780.3" stroke="none" stroke-width="1" fill="#000"/>
<text x="1331" y="832.5" font-size="35.6" text-anchor="end" stroke="#000" stroke-width="0.5" textLength="93" lengthAdjust="spacingAndGlyphs">30 kD</text>
<line x1="1331" y1="821.3" x2="1347" y2="821.3" stroke="#000" stroke-width="2.6"/>
<path d="M1345 814.3 L1365 821.3 L1345 828.3" stroke="none" stroke-width="1" fill="#000"/>
<text x="1331" y="891" font-size="35.6" text-anchor="end" stroke="#000" stroke-width="0.5" textLength="93" lengthAdjust="spacingAndGlyphs">25 kD</text>
<line x1="1331" y1="880" x2="1347" y2="880" stroke="#000" stroke-width="2.6"/>
<path d="M1345 873 L1365 880 L1345 887" stroke="none" stroke-width="1" fill="#000"/>
<text x="1759" y="610.7" font-size="42.5" stroke="#000" stroke-width="0.5" textLength="152" lengthAdjust="spacingAndGlyphs">FTO-CT</text>
<rect x="1768.6" y="619.5" width="131.5" height="377.5" fill="url(#gCT)" stroke="none" stroke-width="1"/>
<rect x="1775" y="621" width="40" height="374" fill="#c8d8f4" stroke="none" stroke-width="1" opacity="0.8" filter="url(#fb2)"/>
<rect x="1777" y="625" width="34" height="18" fill="#98b4ee" stroke="none" stroke-width="1" opacity="0.6" filter="url(#fb3)"/>
<rect x="1778" y="643.8" width="34" height="6" fill="#5f8fe8" stroke="none" stroke-width="1" rx="4" opacity="1" filter="url(#fb2)"/>
<rect x="1778" y="677" width="34" height="8" fill="#6c98ea" stroke="none" stroke-width="1" rx="4" opacity="0.95" filter="url(#fb2)"/>
<rect x="1778" y="695" width="34" height="16" fill="#c69ebc" stroke="none" stroke-width="1" rx="4" opacity="0.8" filter="url(#fb2)"/>
<rect x="1778" y="740.3" width="34" height="10" fill="#7a9eea" stroke="none" stroke-width="1" rx="4" opacity="0.9" filter="url(#fb2)"/>
<rect x="1778" y="788.8" width="34" height="9" fill="#86a8ea" stroke="none" stroke-width="1" rx="4" opacity="0.85" filter="url(#fb2)"/>
<rect x="1778" y="845.5" width="34" height="12" fill="#7c98ee" stroke="none" stroke-width="1" rx="4" opacity="0.95" filter="url(#fb2)"/>
<ellipse cx="1802" cy="963" rx="17" ry="14" fill="#a494cc" opacity="0.85" filter="url(#fb3)"/>
<ellipse cx="1863" cy="934" rx="30" ry="24" fill="#8484f2" filter="url(#fb3)"/>
<ellipse cx="1866" cy="943" rx="24" ry="15" fill="#4a3cec" filter="url(#fb3)"/>
<ellipse cx="1870" cy="948" rx="14" ry="8" fill="#2a10e6" filter="url(#fb2)"/>
<rect x="1768.6" y="619.5" width="131.5" height="377.5" fill="none" stroke="#111" stroke-width="3.2"/>
<text x="1729" y="654.7" font-size="36.3" text-anchor="end" stroke="#000" stroke-width="0.5" textLength="113.5" lengthAdjust="spacingAndGlyphs">100 kD</text>
<line x1="1731" y1="646.4" x2="1746" y2="646.4" stroke="#000" stroke-width="2.6"/>
<path d="M1744 639.4 L1764 646.4 L1744 653.4" stroke="none" stroke-width="1" fill="#000"/>
<text x="1729" y="688.9" font-size="36.3" text-anchor="end" stroke="#000" stroke-width="0.5" textLength="94" lengthAdjust="spacingAndGlyphs">70 kD</text>
<line x1="1731" y1="682" x2="1746" y2="682" stroke="#000" stroke-width="2.6"/>
<path d="M1744 675 L1764 682 L1744 689" stroke="none" stroke-width="1" fill="#000"/>
<text x="1729" y="722" font-size="36.3" text-anchor="end" stroke="#000" stroke-width="0.5" textLength="94" lengthAdjust="spacingAndGlyphs">50 kD</text>
<line x1="1731" y1="704.4" x2="1746" y2="704.4" stroke="#000" stroke-width="2.6"/>
<path d="M1744 697.4 L1764 704.4 L1744 711.4" stroke="none" stroke-width="1" fill="#000"/>
<text x="1729" y="758.5" font-size="36.3" text-anchor="end" stroke="#000" stroke-width="0.5" textLength="94" lengthAdjust="spacingAndGlyphs">40 kD</text>
<line x1="1731" y1="746" x2="1746" y2="746" stroke="#000" stroke-width="2.6"/>
<path d="M1744 739 L1764 746 L1744 753" stroke="none" stroke-width="1" fill="#000"/>
<text x="1729" y="804.8" font-size="36.3" text-anchor="end" stroke="#000" stroke-width="0.5" textLength="94" lengthAdjust="spacingAndGlyphs">30 kD</text>
<line x1="1731" y1="793.7" x2="1746" y2="793.7" stroke="#000" stroke-width="2.6"/>
<path d="M1744 786.7 L1764 793.7 L1744 800.7" stroke="none" stroke-width="1" fill="#000"/>
<text x="1729" y="861" font-size="36.3" text-anchor="end" stroke="#000" stroke-width="0.5" textLength="94" lengthAdjust="spacingAndGlyphs">25 kD</text>
<line x1="1731" y1="850.6" x2="1746" y2="850.6" stroke="#000" stroke-width="2.6"/>
<path d="M1744 843.6 L1764 850.6 L1744 857.6" stroke="none" stroke-width="1" fill="#000"/>
<text x="1729" y="981" font-size="36.3" text-anchor="end" stroke="#000" stroke-width="0.5" textLength="94" lengthAdjust="spacingAndGlyphs">14 kD</text>
<line x1="1731" y1="970" x2="1746" y2="970" stroke="#000" stroke-width="2.6"/>
<path d="M1744 963 L1764 970 L1744 977" stroke="none" stroke-width="1" fill="#000"/>
<path d="M266.6 1513.1 C267.7 1510.2 271 1502.6 273.2 1495.6 C275.5 1488.5 276.6 1483.7 279.9 1470.9 C283.2 1458.1 288.8 1433.4 293.2 1418.8 C297.7 1404.1 302.5 1391.5 306.5 1383.1 C310.5 1374.7 314.1 1371.3 317.2 1368.3 C320.3 1365.3 322.5 1364.8 325.2 1365 C327.9 1365.2 329.6 1365.7 333.2 1369.4 C336.7 1373.1 342.1 1379.5 346.5 1387 C350.9 1394.5 355.4 1404.8 359.8 1414.4 C364.3 1424 368.7 1435.6 373.1 1444.5 C377.6 1453.5 382 1461.6 386.5 1468.1 C390.9 1474.6 395.3 1479.6 399.8 1483.5 C404.2 1487.4 408.7 1489.7 413.1 1491.7 C417.5 1493.7 422 1494.8 426.4 1495.6 C430.9 1496.3 433.1 1496.4 439.7 1496.1 C446.4 1495.8 457.5 1494.6 466.4 1493.9 C475.3 1493.3 485.2 1492.6 493 1492.3 C500.8 1491.9 506.3 1491.5 513 1491.7 C519.7 1491.9 525.2 1492.5 533 1493.4 C540.8 1494.2 551.9 1495.7 559.6 1496.7 C567.4 1497.7 574.7 1497.9 579.6 1499.4 C584.5 1500.9 587.4 1504.4 588.9 1505.4" stroke="#1f5ba8" stroke-width="4.3" fill="none" stroke-linejoin="round" stroke-linecap="round"/>
<path d="M266.6 1501 C267.7 1497.8 271 1488.7 273.2 1481.8 C275.5 1475 276.6 1473.6 279.9 1459.9 C283.2 1446.2 288.8 1416.9 293.2 1399.6 C297.7 1382.2 302.5 1365.6 306.5 1355.7 C310.5 1345.8 314.1 1343.4 317.2 1340.3 C320.3 1337.3 322.5 1337.3 325.2 1337.6 C327.9 1337.9 329.6 1338 333.2 1342 C336.7 1345.9 342.1 1352.5 346.5 1361.2 C350.9 1369.9 355.4 1382.7 359.8 1394.1 C364.3 1405.5 368.7 1418.8 373.1 1429.7 C377.6 1440.7 382 1451.7 386.5 1459.9 C390.9 1468.1 395.3 1474.1 399.8 1479.1 C404.2 1484.1 408.7 1487.3 413.1 1490.1 C417.5 1492.8 422 1494 426.4 1495.6 C430.9 1497.1 433.1 1498.4 439.7 1499.4 C446.4 1500.4 457.5 1501 466.4 1501.6 C475.3 1502.1 484.1 1502.4 493 1502.7 C501.9 1503 510.8 1502.8 519.7 1503.2 C528.5 1503.7 537.4 1504.6 546.3 1505.4 C555.2 1506.3 565.8 1507.4 572.9 1508.2 C580 1509 586.3 1510 588.9 1510.4" stroke="#d2142e" stroke-width="4.3" fill="none" stroke-linejoin="round" stroke-linecap="round"/>
<path d="M266.6 1501 C267.7 1497.4 271 1487.3 273.2 1479.1 C275.5 1470.9 276.6 1468.1 279.9 1451.7 C283.2 1435.2 288.8 1400.9 293.2 1380.4 C297.7 1359.8 302.5 1340.2 306.5 1328.3 C310.5 1316.4 314.1 1312.9 317.2 1309.1 C320.3 1305.2 322.5 1305 325.2 1305.2 C327.9 1305.4 329.6 1305.4 333.2 1310.2 C336.7 1314.9 342.1 1323.4 346.5 1333.8 C350.9 1344.1 355.4 1358.9 359.8 1372.1 C364.3 1385.4 368.7 1400.5 373.1 1413.3 C377.6 1426.1 382 1438.9 386.5 1448.9 C390.9 1459 395.3 1466.9 399.8 1473.6 C404.2 1480.3 408.7 1485.1 413.1 1489 C417.5 1492.8 422 1494.6 426.4 1496.7 C430.9 1498.7 433.1 1499.6 439.7 1501 C446.4 1502.5 457.5 1504.2 466.4 1505.4 C475.3 1506.6 484.1 1507.4 493 1508.2 C501.9 1508.9 510.8 1509.4 519.7 1509.8 C528.5 1510.3 537.4 1510.5 546.3 1510.9 C555.2 1511.4 565.8 1512 572.9 1512.6 C580 1513.1 586.3 1513.9 588.9 1514.2" stroke="#2f9a41" stroke-width="4.3" fill="none" stroke-linejoin="round" stroke-linecap="round"/>
<path d="M266.6 1496.7 C267.7 1491.9 271 1478.4 273.2 1468.1 C275.5 1457.9 276.6 1454.4 279.9 1435.2 C283.2 1416 288.8 1377.6 293.2 1353 C297.7 1328.3 302.5 1302.5 306.5 1287.1 C310.5 1271.8 314.1 1265.8 317.2 1260.8 C320.3 1255.8 322.5 1256.7 325.2 1257 C327.9 1257.2 329.6 1256.5 333.2 1262.4 C336.7 1268.4 342.1 1279.4 346.5 1292.6 C350.9 1305.9 355.4 1324.6 359.8 1342 C364.3 1359.3 368.7 1380.4 373.1 1396.8 C377.6 1413.3 382 1428.4 386.5 1440.7 C390.9 1453.1 395.3 1463.1 399.8 1470.9 C404.2 1478.6 408.7 1482.8 413.1 1487.3 C417.5 1491.9 422 1495.3 426.4 1498.3 C430.9 1501.3 433.1 1503.3 439.7 1505.4 C446.4 1507.5 457.5 1509.5 466.4 1510.9 C475.3 1512.3 484.1 1513 493 1513.7 C501.9 1514.3 510.8 1514.5 519.7 1514.8 C528.5 1515 537.4 1515.1 546.3 1515.3 C555.2 1515.5 565.8 1515.8 572.9 1515.9 C580 1515.9 586.3 1515.9 588.9 1515.9" stroke="#000" stroke-width="4.3" fill="none" stroke-linejoin="round" stroke-linecap="round"/>
<path d="M266 1188.4 L266 1517.5 L589 1517.5" stroke="#000" stroke-width="5.2" fill="none" stroke-linejoin="round" stroke-linecap="round"/>
<line x1="253.5" y1="1188.4" x2="266" y2="1188.4" stroke="#000" stroke-width="5.2"/>
<line x1="253.5" y1="1353" x2="266" y2="1353" stroke="#000" stroke-width="5.2"/>
<line x1="253.5" y1="1517.5" x2="266" y2="1517.5" stroke="#000" stroke-width="5.2"/>
<line x1="279.9" y1="1517.5" x2="279.9" y2="1531" stroke="#000" stroke-width="5.2"/>
<line x1="413.1" y1="1517.5" x2="413.1" y2="1531" stroke="#000" stroke-width="5.2"/>
<line x1="546.3" y1="1517.5" x2="546.3" y2="1531" stroke="#000" stroke-width="5.2"/>
<text x="252.5" y="1201.4" font-size="35.5" text-anchor="end" stroke="#000" stroke-width="0.5" textLength="55.5" lengthAdjust="spacingAndGlyphs">600</text>
<text x="252.5" y="1366" font-size="35.5" text-anchor="end" stroke="#000" stroke-width="0.5" textLength="55.5" lengthAdjust="spacingAndGlyphs">300</text>
<text x="252.5" y="1530.5" font-size="35.5" text-anchor="end" stroke="#000" stroke-width="0.5">0</text>
<text x="279.9" y="1567.3" font-size="35.5" text-anchor="middle" stroke="#000" stroke-width="0.5" textLength="55.5" lengthAdjust="spacingAndGlyphs">300</text>
<text x="413.1" y="1567.3" font-size="35.5" text-anchor="middle" stroke="#000" stroke-width="0.5" textLength="55.5" lengthAdjust="spacingAndGlyphs">400</text>
<text x="546.3" y="1567.3" font-size="35.5" text-anchor="middle" stroke="#000" stroke-width="0.5" textLength="55.5" lengthAdjust="spacingAndGlyphs">500</text>
<text x="249" y="1623.3" font-size="43.6" stroke="#000" stroke-width="0.5" textLength="355" lengthAdjust="spacingAndGlyphs">Wavelength (nm)</text>
<text x="179.4" y="1600.5" font-size="45" stroke="#000" stroke-width="0.5" textLength="490" lengthAdjust="spacingAndGlyphs" transform="rotate(-90 179.4 1600.5)">Fluorescence intensity</text>
<text x="378" y="1161.4" font-size="30" stroke="#000" stroke-width="0.5" textLength="226" lengthAdjust="spacingAndGlyphs">NADPH:FTO-NT</text>
<line x1="481.3" y1="1197.3" x2="509.6" y2="1197.3" stroke="#000" stroke-width="5.3"/>
<text x="525.5" y="1208.6" font-size="30.5" stroke="#000" stroke-width="0.5">0</text>
<line x1="481.3" y1="1235" x2="509.6" y2="1235" stroke="#2f9a41" stroke-width="5.3"/>
<text x="525.5" y="1246.2" font-size="30.5" stroke="#000" stroke-width="0.5" textLength="55" lengthAdjust="spacingAndGlyphs">20:1</text>
<line x1="481.3" y1="1272.6" x2="509.6" y2="1272.6" stroke="#d2142e" stroke-width="5.3"/>
<text x="525.5" y="1283.9" font-size="30.5" stroke="#000" stroke-width="0.5" textLength="55" lengthAdjust="spacingAndGlyphs">40:1</text>
<line x1="481.3" y1="1310.2" x2="509.6" y2="1310.2" stroke="#1f5ba8" stroke-width="5.3"/>
<text x="525.5" y="1321.5" font-size="30.5" stroke="#000" stroke-width="0.5" textLength="71" lengthAdjust="spacingAndGlyphs">120:1</text>
<path d="M888.1 1516.4 C890.3 1514.8 897 1509.8 901.4 1506.5 C905.8 1503.2 910.3 1499.6 914.7 1496.7 C919.2 1493.7 923.6 1490.9 928 1489 C932.5 1487.1 937.8 1485.9 941.4 1485.1 C944.9 1484.4 946 1484.2 949.4 1484.6 C952.7 1485 956 1485.5 961.3 1487.3 C966.7 1489.2 974.7 1493 981.3 1495.6 C988 1498.1 994.6 1500.8 1001.3 1502.7 C1008 1504.6 1015.7 1506.3 1021.3 1507.1 C1026.8 1507.9 1030.2 1507.7 1034.6 1507.6 C1039 1507.5 1043.5 1507.2 1047.9 1506.5 C1052.4 1505.9 1054.6 1505.2 1061.2 1503.8 C1067.9 1502.4 1079 1499.9 1087.9 1498.3 C1096.8 1496.7 1106.8 1494.9 1114.5 1493.9 C1122.3 1492.9 1127.8 1492.4 1134.5 1492.3 C1141.2 1492.2 1146.7 1492.6 1154.5 1493.4 C1162.2 1494.1 1173.3 1495.6 1181.1 1496.7 C1188.9 1497.8 1196.2 1498.9 1201.1 1499.9 C1206 1501 1208.9 1502.2 1210.4 1502.7" stroke="#1f5ba8" stroke-width="4.3" fill="none" stroke-linejoin="round" stroke-linecap="round"/>
<path d="M888.1 1503.8 C889.2 1502 892.5 1496.9 894.7 1492.8 C897 1488.7 898.1 1487.8 901.4 1479.1 C904.7 1470.4 910.3 1453.1 914.7 1440.7 C919.2 1428.4 923.6 1414.9 928 1405.1 C932.5 1395.2 937.8 1386.2 941.4 1381.5 C944.9 1376.7 946.7 1376.7 949.4 1376.5 C952 1376.4 954.2 1377.4 957.3 1380.4 C960.5 1383.3 964 1387.7 968 1394.1 C972 1400.5 976.9 1410.1 981.3 1418.8 C985.8 1427.5 990.2 1437.5 994.6 1446.2 C999.1 1454.9 1003.5 1464 1008 1470.9 C1012.4 1477.7 1016.8 1483 1021.3 1487.3 C1025.7 1491.6 1030.2 1494.4 1034.6 1496.7 C1039 1498.9 1043.5 1499.9 1047.9 1501 C1052.4 1502.2 1054.6 1503.1 1061.2 1503.8 C1067.9 1504.5 1079 1505 1087.9 1505.4 C1096.8 1505.9 1105.6 1506.2 1114.5 1506.5 C1123.4 1506.9 1132.3 1507.2 1141.2 1507.6 C1150 1508.1 1158.9 1508.7 1167.8 1509.3 C1176.7 1509.8 1187.3 1510.5 1194.4 1510.9 C1201.5 1511.4 1207.8 1511.8 1210.4 1512" stroke="#d2142e" stroke-width="4.3" fill="none" stroke-linejoin="round" stroke-linecap="round"/>
<path d="M888.1 1503.8 C889.2 1501 892.5 1493.3 894.7 1487.3 C897 1481.4 898.1 1480.5 901.4 1468.1 C904.7 1455.8 910.3 1431.6 914.7 1413.3 C919.2 1395 923.6 1373.1 928 1358.4 C932.5 1343.8 937.8 1332 941.4 1325.5 C944.9 1319 946.7 1319.7 949.4 1319.5 C952 1319.3 954.2 1320.7 957.3 1324.4 C960.5 1328.2 964 1333.6 968 1342 C972 1350.4 976.9 1363 981.3 1374.9 C985.8 1386.8 990.2 1401.4 994.6 1413.3 C999.1 1425.2 1003.5 1436.6 1008 1446.2 C1012.4 1455.8 1016.8 1464 1021.3 1470.9 C1025.7 1477.7 1030.2 1483 1034.6 1487.3 C1039 1491.6 1043.5 1494.2 1047.9 1496.7 C1052.4 1499.1 1054.6 1500.3 1061.2 1502.1 C1067.9 1504 1079 1506.3 1087.9 1507.6 C1096.8 1509 1105.6 1509.7 1114.5 1510.4 C1123.4 1511 1132.3 1511.1 1141.2 1511.5 C1150 1511.8 1158.9 1512.2 1167.8 1512.6 C1176.7 1512.9 1187.3 1513.4 1194.4 1513.7 C1201.5 1513.9 1207.8 1514.1 1210.4 1514.2" stroke="#2f9a41" stroke-width="4.3" fill="none" stroke-linejoin="round" stroke-linecap="round"/>
<path d="M888.1 1503.8 C889.2 1500.6 892.5 1492.4 894.7 1484.6 C897 1476.8 898.1 1475.4 901.4 1457.2 C904.7 1438.9 910.3 1402.3 914.7 1374.9 C919.2 1347.5 923.6 1314.6 928 1292.6 C932.5 1270.7 937.8 1253.1 941.4 1243.2 C944.9 1233.4 946.7 1233.8 949.4 1233.4 C952 1232.9 954.2 1235.2 957.3 1240.5 C960.5 1245.8 964 1252.8 968 1265.2 C972 1277.5 976.9 1297.2 981.3 1314.6 C985.8 1331.9 990.2 1352 994.6 1369.4 C999.1 1386.8 1003.5 1404.6 1008 1418.8 C1012.4 1432.9 1016.8 1444.4 1021.3 1454.4 C1025.7 1464.5 1030.2 1472.4 1034.6 1479.1 C1039 1485.8 1043.5 1490.3 1047.9 1494.5 C1052.4 1498.6 1054.6 1501 1061.2 1503.8 C1067.9 1506.5 1079 1509.2 1087.9 1510.9 C1096.8 1512.7 1105.6 1513.5 1114.5 1514.2 C1123.4 1514.9 1132.3 1515 1141.2 1515.3 C1150 1515.6 1158.9 1515.7 1167.8 1515.9 C1176.7 1516 1187.3 1516.3 1194.4 1516.4 C1201.5 1516.5 1207.8 1516.4 1210.4 1516.4" stroke="#000" stroke-width="4.3" fill="none" stroke-linejoin="round" stroke-linecap="round"/>
<path d="M887.5 1188.4 L887.5 1517.5 L1210.5 1517.5" stroke="#000" stroke-width="5.2" fill="none" stroke-linejoin="round" stroke-linecap="round"/>
<line x1="875" y1="1188.4" x2="887.5" y2="1188.4" stroke="#000" stroke-width="5.2"/>
<line x1="875" y1="1353" x2="887.5" y2="1353" stroke="#000" stroke-width="5.2"/>
<line x1="875" y1="1517.5" x2="887.5" y2="1517.5" stroke="#000" stroke-width="5.2"/>
<line x1="901.4" y1="1517.5" x2="901.4" y2="1531" stroke="#000" stroke-width="5.2"/>
<line x1="1034.6" y1="1517.5" x2="1034.6" y2="1531" stroke="#000" stroke-width="5.2"/>
<line x1="1167.8" y1="1517.5" x2="1167.8" y2="1531" stroke="#000" stroke-width="5.2"/>
<text x="874" y="1201.4" font-size="35.5" text-anchor="end" stroke="#000" stroke-width="0.5" textLength="55.5" lengthAdjust="spacingAndGlyphs">600</text>
<text x="874" y="1366" font-size="35.5" text-anchor="end" stroke="#000" stroke-width="0.5" textLength="55.5" lengthAdjust="spacingAndGlyphs">300</text>
<text x="874" y="1530.5" font-size="35.5" text-anchor="end" stroke="#000" stroke-width="0.5">0</text>
<text x="901.4" y="1567.3" font-size="35.5" text-anchor="middle" stroke="#000" stroke-width="0.5" textLength="55.5" lengthAdjust="spacingAndGlyphs">300</text>
<text x="1034.6" y="1567.3" font-size="35.5" text-anchor="middle" stroke="#000" stroke-width="0.5" textLength="55.5" lengthAdjust="spacingAndGlyphs">400</text>
<text x="1167.8" y="1567.3" font-size="35.5" text-anchor="middle" stroke="#000" stroke-width="0.5" textLength="55.5" lengthAdjust="spacingAndGlyphs">500</text>
<text x="870.5" y="1623.3" font-size="43.6" stroke="#000" stroke-width="0.5" textLength="355" lengthAdjust="spacingAndGlyphs">Wavelength (nm)</text>
<text x="796.9" y="1600.5" font-size="45" stroke="#000" stroke-width="0.5" textLength="490" lengthAdjust="spacingAndGlyphs" transform="rotate(-90 796.9 1600.5)">Fluorescence intensity</text>
<text x="999.5" y="1161.4" font-size="30" stroke="#000" stroke-width="0.5" textLength="227" lengthAdjust="spacingAndGlyphs">NADPH:FTO-CT</text>
<line x1="1102.8" y1="1197.3" x2="1131.1" y2="1197.3" stroke="#000" stroke-width="5.3"/>
<text x="1147" y="1208.6" font-size="30.5" stroke="#000" stroke-width="0.5">0</text>
<line x1="1102.8" y1="1235" x2="1131.1" y2="1235" stroke="#2f9a41" stroke-width="5.3"/>
<text x="1147" y="1246.2" font-size="30.5" stroke="#000" stroke-width="0.5" textLength="55" lengthAdjust="spacingAndGlyphs">20:1</text>
<line x1="1102.8" y1="1272.6" x2="1131.1" y2="1272.6" stroke="#d2142e" stroke-width="5.3"/>
<text x="1147" y="1283.9" font-size="30.5" stroke="#000" stroke-width="0.5" textLength="55" lengthAdjust="spacingAndGlyphs">40:1</text>
<line x1="1102.8" y1="1310.2" x2="1131.1" y2="1310.2" stroke="#1f5ba8" stroke-width="5.3"/>
<text x="1147" y="1321.5" font-size="30.5" stroke="#000" stroke-width="0.5" textLength="71" lengthAdjust="spacingAndGlyphs">120:1</text>
<line x1="1617" y1="1421.5" x2="1845.2" y2="1251.5" stroke="#000" stroke-width="4.6"/>
<line x1="1617" y1="1463.5" x2="1842.5" y2="1381.5" stroke="#d2142e" stroke-width="4.6"/>
<circle cx="1617" cy="1423.9" r="8.6" fill="#000"/>
<circle cx="1708.3" cy="1368.8" r="8.6" fill="#000"/>
<circle cx="1845.2" cy="1249.6" r="8.6" fill="#000"/>
<rect x="1608.5" y="1455.5" width="17" height="17" fill="#d2142e" stroke="none" stroke-width="1"/>
<rect x="1699.8" y="1412.1" width="17" height="17" fill="#d2142e" stroke="none" stroke-width="1"/>
<rect x="1834" y="1373.7" width="17" height="17" fill="#d2142e" stroke="none" stroke-width="1"/>
<path d="M1572.2 1175 L1572.2 1513.4 L1899.3 1513.4" stroke="#000" stroke-width="5.2" fill="none" stroke-linejoin="round" stroke-linecap="round"/>
<line x1="1562.8" y1="1176.8" x2="1572.2" y2="1176.8" stroke="#000" stroke-width="5.2"/>
<line x1="1562.8" y1="1345.1" x2="1572.2" y2="1345.1" stroke="#000" stroke-width="5.2"/>
<line x1="1562.8" y1="1513.4" x2="1572.2" y2="1513.4" stroke="#000" stroke-width="5.2"/>
<line x1="1572.2" y1="1513.4" x2="1572.2" y2="1521.5" stroke="#000" stroke-width="5.2"/>
<line x1="1735.8" y1="1513.4" x2="1735.8" y2="1521.5" stroke="#000" stroke-width="5.2"/>
<line x1="1899.3" y1="1513.4" x2="1899.3" y2="1521.5" stroke="#000" stroke-width="5.2"/>
<text x="1549" y="1190.8" font-size="38.5" text-anchor="end" stroke="#000" stroke-width="0.5">8</text>
<text x="1549" y="1359.1" font-size="38.5" text-anchor="end" stroke="#000" stroke-width="0.5">4</text>
<text x="1549" y="1527.4" font-size="38.5" text-anchor="end" stroke="#000" stroke-width="0.5">0</text>
<text x="1572.2" y="1562.5" font-size="38.5" text-anchor="middle" stroke="#000" stroke-width="0.5" textLength="19.6" lengthAdjust="spacingAndGlyphs">0</text>
<text x="1735.8" y="1562.5" font-size="38.5" text-anchor="middle" stroke="#000" stroke-width="0.5" textLength="40.6" lengthAdjust="spacingAndGlyphs">50</text>
<text x="1899.3" y="1562.5" font-size="38.5" text-anchor="middle" stroke="#000" stroke-width="0.5" textLength="61.5" lengthAdjust="spacingAndGlyphs">100</text>
<text x="1505.6" y="1427.5" font-size="46.8" stroke="#000" stroke-width="0.5" textLength="189" lengthAdjust="spacingAndGlyphs" transform="rotate(-90 1505.6 1427.5)">RF0/ΔRF</text>
<text x="1568.5" y="1623.2" font-size="46" stroke="#000" stroke-width="0.5" textLength="183" lengthAdjust="spacingAndGlyphs">[NADPH]</text>
<text x="1753" y="1600.5" font-size="32" stroke="#000" stroke-width="0.5" textLength="25" lengthAdjust="spacingAndGlyphs">-1</text>
<text x="1794.5" y="1623.2" font-size="46" stroke="#000" stroke-width="0.5" textLength="77" lengthAdjust="spacingAndGlyphs">mM</text>
<text x="1872.5" y="1600.5" font-size="32" stroke="#000" stroke-width="0.5" textLength="25" lengthAdjust="spacingAndGlyphs">-1</text>
<line x1="1595.7" y1="1190.2" x2="1625.2" y2="1190.2" stroke="#000" stroke-width="4.9"/>
<circle cx="1610.4" cy="1190.2" r="8.8" fill="#000"/>
<line x1="1595.7" y1="1229.9" x2="1625.2" y2="1229.9" stroke="#d2142e" stroke-width="4.9"/>
<rect x="1601.9" y="1221.4" width="17" height="17" fill="#d2142e" stroke="none" stroke-width="1"/>
<text x="1642" y="1203.5" font-size="33" stroke="#000" stroke-width="0.5" textLength="124" lengthAdjust="spacingAndGlyphs">FTO-NT</text>
<text x="1642" y="1242" font-size="33" stroke="#000" stroke-width="0.5" textLength="124" lengthAdjust="spacingAndGlyphs">FTO-CT</text>
<text x="318.5" y="1920" font-size="32.6" stroke="#000" stroke-width="0.5" transform="rotate(-60.5 318.5 1920)">Flag-FTO (WT)</text>
<text x="404" y="1919" font-size="32.6" stroke="#000" stroke-width="0.5" transform="rotate(-60.5 404 1919)">Flag-FTO-NT</text>
<text x="479.5" y="1919" font-size="32.6" stroke="#000" stroke-width="0.5" transform="rotate(-60.5 479.5 1919)">Flag-FTO-CT</text>
<text x="537.5" y="1904.1" font-size="17.7" stroke="#000" stroke-width="0.5" textLength="34" lengthAdjust="spacingAndGlyphs">MW</text>
<text x="536.5" y="1926.8" font-size="17.7" stroke="#000" stroke-width="0.5" textLength="36" lengthAdjust="spacingAndGlyphs">(kD)</text>
<rect x="277.4" y="1925" width="238" height="346" fill="#efefef" stroke="none" stroke-width="1"/>
<rect x="278" y="1926" width="237" height="345" fill="#000" stroke="none" stroke-width="1" filter="url(#fnoise)" opacity="0.22"/>
<ellipse cx="320" cy="1948.5" rx="40" ry="17" fill="#666" opacity="0.55" filter="url(#fb5)"/>
<ellipse cx="320" cy="1948.3" rx="33" ry="9.2" fill="#000" filter="url(#fb1)"/>
<ellipse cx="397" cy="2072.6" rx="33" ry="17" fill="#666" opacity="0.5" filter="url(#fb5)"/>
<ellipse cx="397" cy="2072.6" rx="26.5" ry="9.5" fill="#000" filter="url(#fb1)"/>
<ellipse cx="470" cy="2205" rx="28" ry="22" fill="#aaa" opacity="0.6" filter="url(#fb5)"/>
<ellipse cx="476" cy="2244" rx="36" ry="17" fill="#555" opacity="0.55" filter="url(#fb5)"/>
<ellipse cx="476" cy="2244" rx="29" ry="9.5" fill="#000" filter="url(#fb1)"/>
<rect x="277.4" y="1925" width="238.4" height="346" fill="none" stroke="#1a1a1a" stroke-width="2"/>
<line x1="520.4" y1="1960.2" x2="535.7" y2="1960.2" stroke="#000" stroke-width="3"/>
<text x="542" y="1967" font-size="19.5" stroke="#000" stroke-width="0.5">50</text>
<line x1="520.4" y1="2041.8" x2="535.7" y2="2041.8" stroke="#000" stroke-width="3"/>
<text x="542" y="2049" font-size="19.5" stroke="#000" stroke-width="0.5">37</text>
<line x1="520.4" y1="2195" x2="535.7" y2="2195" stroke="#000" stroke-width="3"/>
<text x="542" y="2202.5" font-size="19.5" stroke="#000" stroke-width="0.5">25</text>
<text x="106.3" y="2130.3" font-size="38" stroke="#000" stroke-width="0.5" textLength="165" lengthAdjust="spacingAndGlyphs">Anti-Flag</text>
<text x="968.5" y="1907.7" font-size="39" stroke="#000" stroke-width="0.5" textLength="166" lengthAdjust="spacingAndGlyphs">Anti-Flag</text>
<line x1="902" y1="1920.8" x2="1203" y2="1920.8" stroke="#221a1a" stroke-width="3"/>
<text x="757.4" y="1965.8" font-size="39" stroke="#000" stroke-width="0.5" textLength="134.5" lengthAdjust="spacingAndGlyphs">NADPH</text>
<text x="743.4" y="2016.6" font-size="39" stroke="#000" stroke-width="0.5" textLength="148.5" lengthAdjust="spacingAndGlyphs">Pronase</text>
<rect x="927.1" y="1952.5" width="11" height="4.5" fill="#000" stroke="none" stroke-width="1"/>
<rect x="992.9" y="1952.5" width="11" height="4.5" fill="#000" stroke="none" stroke-width="1"/>
<text x="1049.7" y="1965.6" font-size="30" text-anchor="middle" stroke="#000" stroke-width="0.5" textLength="32" lengthAdjust="spacingAndGlyphs">50</text>
<text x="1109.6" y="1965.6" font-size="30" text-anchor="middle" stroke="#000" stroke-width="0.5" textLength="48" lengthAdjust="spacingAndGlyphs">200</text>
<text x="1175.8" y="1965.6" font-size="30" text-anchor="middle" stroke="#000" stroke-width="0.5" textLength="48" lengthAdjust="spacingAndGlyphs">500</text>
<text x="1207.5" y="1965.6" font-size="30" stroke="#000" stroke-width="0.5" textLength="44" lengthAdjust="spacingAndGlyphs">μM</text>
<rect x="927.1" y="2001.5" width="11" height="4.5" fill="#000" stroke="none" stroke-width="1"/>
<rect x="987.8" y="2001.6" width="19" height="4.4" fill="#000" stroke="none" stroke-width="1"/>
<rect x="995.1" y="1994.3" width="4.4" height="19" fill="#000" stroke="none" stroke-width="1"/>
<rect x="1039.1" y="2001.6" width="19" height="4.4" fill="#000" stroke="none" stroke-width="1"/>
<rect x="1046.4" y="1994.3" width="4.4" height="19" fill="#000" stroke="none" stroke-width="1"/>
<rect x="1101.2" y="2001.6" width="19" height="4.4" fill="#000" stroke="none" stroke-width="1"/>
<rect x="1108.5" y="1994.3" width="4.4" height="19" fill="#000" stroke="none" stroke-width="1"/>
<rect x="1163.7" y="2001.6" width="19" height="4.4" fill="#000" stroke="none" stroke-width="1"/>
<rect x="1171" y="1994.3" width="4.4" height="19" fill="#000" stroke="none" stroke-width="1"/>
<text x="1243.5" y="2005" font-size="17" stroke="#000" stroke-width="0.5" textLength="32" lengthAdjust="spacingAndGlyphs">MW</text>
<text x="1243" y="2027.4" font-size="17" stroke="#000" stroke-width="0.5" textLength="34" lengthAdjust="spacingAndGlyphs">(kD)</text>
<rect x="902" y="2042.3" width="302.2" height="46.1" fill="#e9e9e9" stroke="none" stroke-width="1"/>
<rect x="902" y="2115.3" width="302.2" height="46.1" fill="#e9e9e9" stroke="none" stroke-width="1"/>
<rect x="903" y="2043" width="300" height="44" fill="#000" stroke="none" stroke-width="1" filter="url(#fnoise)" opacity="0.12"/>
<rect x="903" y="2116" width="300" height="44" fill="#000" stroke="none" stroke-width="1" filter="url(#fnoise)" opacity="0.12"/>
<ellipse cx="935.5" cy="2065.2" rx="27.5" ry="12.5" fill="#777" opacity="0.4" filter="url(#fb3)"/>
<ellipse cx="935.5" cy="2065.2" rx="22.5" ry="7.5" fill="#000" opacity="1" filter="url(#fb1)"/>
<ellipse cx="997" cy="2065.2" rx="19" ry="9" fill="#777" opacity="0.24" filter="url(#fb3)"/>
<ellipse cx="997" cy="2065.2" rx="14" ry="4" fill="#bbb" opacity="0.6" filter="url(#fb1)"/>
<ellipse cx="1050" cy="2065.2" rx="19" ry="9.5" fill="#777" opacity="0.27999999999999997" filter="url(#fb3)"/>
<ellipse cx="1050" cy="2065.2" rx="14" ry="4.5" fill="#888" opacity="0.7" filter="url(#fb1)"/>
<ellipse cx="1111" cy="2065.2" rx="23.5" ry="10" fill="#777" opacity="0.36000000000000004" filter="url(#fb3)"/>
<ellipse cx="1111" cy="2065.2" rx="18.5" ry="5" fill="#222" opacity="0.9" filter="url(#fb1)"/>
<ellipse cx="1171" cy="2065.2" rx="25.5" ry="11.5" fill="#777" opacity="0.4" filter="url(#fb3)"/>
<ellipse cx="1171" cy="2065.2" rx="20.5" ry="6.5" fill="#000" opacity="1" filter="url(#fb1)"/>
<ellipse cx="932" cy="2138.5" rx="24" ry="13" fill="#777" opacity="0.4" filter="url(#fb3)"/>
<ellipse cx="932" cy="2138.5" rx="19" ry="8" fill="#000" opacity="1" filter="url(#fb1)"/>
<ellipse cx="1050" cy="2138.5" rx="19" ry="9.5" fill="#777" opacity="0.27999999999999997" filter="url(#fb3)"/>
<ellipse cx="1050" cy="2138.5" rx="14" ry="4.5" fill="#999" opacity="0.7" filter="url(#fb1)"/>
<ellipse cx="1110.5" cy="2138.5" rx="23" ry="11" fill="#777" opacity="0.36000000000000004" filter="url(#fb3)"/>
<ellipse cx="1110.5" cy="2138.5" rx="18" ry="6" fill="#333" opacity="0.9" filter="url(#fb1)"/>
<ellipse cx="1173.5" cy="2138.5" rx="26" ry="12.5" fill="#777" opacity="0.4" filter="url(#fb3)"/>
<ellipse cx="1173.5" cy="2138.5" rx="21" ry="7.5" fill="#000" opacity="1" filter="url(#fb1)"/>
<rect x="902" y="2042.3" width="302.2" height="46.1" fill="none" stroke="#231815" stroke-width="3"/>
<rect x="902" y="2115.3" width="302.2" height="46.1" fill="none" stroke="#231815" stroke-width="3"/>
<text x="754" y="2076" font-size="39" stroke="#000" stroke-width="0.5" textLength="138" lengthAdjust="spacingAndGlyphs">FTO-NT</text>
<text x="754" y="2154.6" font-size="39" stroke="#000" stroke-width="0.5" textLength="138" lengthAdjust="spacingAndGlyphs">FTO-CT</text>
<line x1="1212.4" y1="2041.2" x2="1240.5" y2="2041.2" stroke="#000" stroke-width="2.5"/>
<text x="1251" y="2049.8" font-size="19.5" stroke="#000" stroke-width="0.5">37</text>
<line x1="1212.4" y1="2119.8" x2="1240.5" y2="2119.8" stroke="#000" stroke-width="2.5"/>
<text x="1251" y="2126.5" font-size="19.5" stroke="#000" stroke-width="0.5">25</text>
<path d="M1616.9 1920.5 L1619.7 1921 L1622.5 1921.5 L1625.2 1922 L1628 1922.5 L1630.7 1923.1 L1633.5 1923.7 L1636.3 1924.4 L1639 1925.1 L1641.8 1925.8 L1644.5 1926.6 L1647.3 1927.5 L1650.1 1928.4 L1652.8 1929.3 L1655.6 1930.4 L1658.4 1931.5 L1661.1 1932.6 L1663.9 1933.8 L1666.7 1935.1 L1669.4 1936.5 L1672.2 1937.9 L1674.9 1939.4 L1677.7 1941.1 L1680.5 1942.7 L1683.2 1944.5 L1686 1946.4 L1688.8 1948.4 L1691.5 1950.5 L1694.3 1952.7 L1697 1955 L1699.8 1957.4 L1702.6 1959.9 L1705.3 1962.5 L1708.1 1965.2 L1710.8 1968.1 L1713.6 1971 L1716.4 1974.1 L1719.1 1977.2 L1721.9 1980.5 L1724.7 1983.8 L1727.4 1987.3 L1730.2 1990.9 L1733 1994.5 L1735.7 1998.3 L1738.5 2002.1 L1741.2 2006 L1744 2009.9 L1746.8 2013.9 L1749.5 2018 L1752.3 2022.1 L1755 2026.2 L1757.8 2030.4 L1760.6 2034.5 L1763.3 2038.7 L1766.1 2042.8 L1768.9 2046.9 L1771.6 2051 L1774.4 2055.1 L1777.2 2059.1 L1779.9 2063 L1782.7 2066.9 L1785.4 2070.7 L1788.2 2074.5 L1791 2078.1 L1793.7 2081.7 L1796.5 2085.2 L1799.2 2088.5 L1802 2091.8 L1804.8 2095 L1807.5 2098 L1810.3 2101 L1813.1 2103.8 L1815.8 2106.5 L1818.6 2109.2 L1821.3 2111.7 L1824.1 2114.1 L1826.9 2116.3 L1829.6 2118.5 L1832.4 2120.6 L1835.2 2122.6 L1837.9 2124.5" stroke="#d2142e" stroke-width="3.3" fill="none" stroke-linejoin="round" stroke-linecap="round"/>
<path d="M1616.9 1921.5 L1619.7 1922.5 L1622.5 1923.6 L1625.2 1924.7 L1628 1925.9 L1630.7 1927.1 L1633.5 1928.5 L1636.3 1929.8 L1639 1931.3 L1641.8 1932.8 L1644.5 1934.4 L1647.3 1936.1 L1650.1 1937.9 L1652.8 1939.7 L1655.6 1941.6 L1658.4 1943.7 L1661.1 1945.8 L1663.9 1948 L1666.7 1950.3 L1669.4 1952.6 L1672.2 1955.1 L1674.9 1957.7 L1677.7 1960.3 L1680.5 1963.1 L1683.2 1966 L1686 1968.9 L1688.8 1971.9 L1691.5 1975 L1694.3 1978.3 L1697 1981.5 L1699.8 1984.9 L1702.6 1988.4 L1705.3 1991.9 L1708.1 1995.5 L1710.8 1999.1 L1713.6 2002.8 L1716.4 2006.6 L1719.1 2010.4 L1721.9 2014.2 L1724.7 2018.1 L1727.4 2022 L1730.2 2025.9 L1733 2029.8 L1735.7 2033.7 L1738.5 2037.6 L1741.2 2041.5 L1744 2045.4 L1746.8 2049.2 L1749.5 2053 L1752.3 2056.7 L1755 2060.5 L1757.8 2064.1 L1760.6 2067.7 L1763.3 2071.2 L1766.1 2074.7 L1768.9 2078 L1771.6 2081.3 L1774.4 2084.5 L1777.2 2087.7 L1779.9 2090.7 L1782.7 2093.6 L1785.4 2096.5 L1788.2 2099.2 L1791 2101.9 L1793.7 2104.5 L1796.5 2106.9 L1799.2 2109.3 L1802 2111.6 L1804.8 2113.8 L1807.5 2115.9 L1810.3 2117.9 L1813.1 2119.9 L1815.8 2121.7 L1818.6 2123.5 L1821.3 2125.1 L1824.1 2126.8 L1826.9 2128.3 L1829.6 2129.7 L1832.4 2131.1 L1835.2 2132.4 L1837.9 2133.7" stroke="#1f5ba8" stroke-width="3.3" fill="none" stroke-linejoin="round" stroke-linecap="round"/>
<path d="M1616.9 1927.1 L1619.7 1929.1 L1622.5 1931.3 L1625.2 1933.5 L1628 1935.9 L1630.7 1938.4 L1633.5 1941.1 L1636.3 1943.9 L1639 1946.9 L1641.8 1950 L1644.5 1953.3 L1647.3 1956.7 L1650.1 1960.3 L1652.8 1964 L1655.6 1967.9 L1658.4 1971.9 L1661.1 1976 L1663.9 1980.3 L1666.7 1984.7 L1669.4 1989.2 L1672.2 1993.8 L1674.9 1998.5 L1677.7 2003.2 L1680.5 2008 L1683.2 2012.9 L1686 2017.8 L1688.8 2022.7 L1691.5 2027.6 L1694.3 2032.5 L1697 2037.4 L1699.8 2042.2 L1702.6 2046.9 L1705.3 2051.6 L1708.1 2056.2 L1710.8 2060.7 L1713.6 2065.1 L1716.4 2069.4 L1719.1 2073.5 L1721.9 2077.5 L1724.7 2081.4 L1727.4 2085.1 L1730.2 2088.7 L1733 2092.1 L1735.7 2095.4 L1738.5 2098.5 L1741.2 2101.5 L1744 2104.3 L1746.8 2107 L1749.5 2109.5 L1752.3 2111.9 L1755 2114.1 L1757.8 2116.3 L1760.6 2118.3 L1763.3 2120.1 L1766.1 2121.9 L1768.9 2123.6 L1771.6 2125.1 L1774.4 2126.6 L1777.2 2127.9 L1779.9 2129.2 L1782.7 2130.4 L1785.4 2131.5 L1788.2 2132.5 L1791 2133.4 L1793.7 2134.3 L1796.5 2135.2 L1799.2 2135.9 L1802 2136.6 L1804.8 2137.3 L1807.5 2137.9 L1810.3 2138.5 L1813.1 2139 L1815.8 2139.5 L1818.6 2140 L1821.3 2140.4 L1824.1 2140.8 L1826.9 2141.1 L1829.6 2141.5 L1832.4 2141.8 L1835.2 2142.1 L1837.9 2142.3" stroke="#2f9a41" stroke-width="3.3" fill="none" stroke-linejoin="round" stroke-linecap="round"/>
<path d="M1616.9 1921.7 L1619.7 1923.2 L1622.5 1924.9 L1625.2 1926.7 L1628 1928.6 L1630.7 1930.6 L1633.5 1932.7 L1636.3 1934.9 L1639 1937.3 L1641.8 1939.8 L1644.5 1942.4 L1647.3 1945.2 L1650.1 1948.1 L1652.8 1951.1 L1655.6 1954.3 L1658.4 1957.6 L1661.1 1961.1 L1663.9 1964.7 L1666.7 1968.4 L1669.4 1972.2 L1672.2 1976.2 L1674.9 1980.2 L1677.7 1984.4 L1680.5 1988.7 L1683.2 1993 L1686 1997.4 L1688.8 2001.9 L1691.5 2006.5 L1694.3 2011.1 L1697 2015.7 L1699.8 2020.3 L1702.6 2025 L1705.3 2029.6 L1708.1 2034.2 L1710.8 2038.7 L1713.6 2043.2 L1716.4 2047.7 L1719.1 2052 L1721.9 2056.3 L1724.7 2060.5 L1727.4 2064.5 L1730.2 2068.5 L1733 2072.3 L1735.7 2076 L1738.5 2079.6 L1741.2 2083 L1744 2086.4 L1746.8 2089.5 L1749.5 2092.6 L1752.3 2095.5 L1755 2098.2 L1757.8 2100.9 L1760.6 2103.4 L1763.3 2105.7 L1766.1 2108 L1768.9 2110.1 L1771.6 2112.1 L1774.4 2114 L1777.2 2115.8 L1779.9 2117.4 L1782.7 2119 L1785.4 2120.5 L1788.2 2121.9 L1791 2123.2 L1793.7 2124.4 L1796.5 2125.5 L1799.2 2126.6 L1802 2127.6 L1804.8 2128.5 L1807.5 2129.4 L1810.3 2130.2 L1813.1 2131 L1815.8 2131.7 L1818.6 2132.3 L1821.3 2132.9 L1824.1 2133.5 L1826.9 2134 L1829.6 2134.5 L1832.4 2135 L1835.2 2135.4 L1837.9 2135.8" stroke="#000" stroke-width="3.3" fill="none" stroke-linejoin="round" stroke-linecap="round"/>
<line x1="1616.9" y1="1918.8" x2="1616.9" y2="1906.9" stroke="#d2142e" stroke-width="2.6"/>
<line x1="1611.9" y1="1906.9" x2="1621.9" y2="1906.9" stroke="#d2142e" stroke-width="2.6"/>
<path d="M1616.9 1926 L1623.7 1913.5 L1610.1 1913.5" stroke="none" stroke-width="1" fill="#d2142e"/>
<line x1="1672.2" y1="1940" x2="1672.2" y2="1914" stroke="#d2142e" stroke-width="2.6"/>
<line x1="1667.2" y1="1914" x2="1677.2" y2="1914" stroke="#d2142e" stroke-width="2.6"/>
<path d="M1672.2 1947.3 L1679 1934.7 L1665.4 1934.7" stroke="none" stroke-width="1" fill="#d2142e"/>
<line x1="1699.8" y1="1956.5" x2="1699.8" y2="1930.6" stroke="#d2142e" stroke-width="2.6"/>
<line x1="1694.8" y1="1930.6" x2="1704.8" y2="1930.6" stroke="#d2142e" stroke-width="2.6"/>
<path d="M1699.8 1963.8 L1706.6 1951.2 L1693 1951.2" stroke="none" stroke-width="1" fill="#d2142e"/>
<line x1="1727.4" y1="1982.5" x2="1727.4" y2="1951.8" stroke="#d2142e" stroke-width="2.6"/>
<line x1="1722.4" y1="1951.8" x2="1732.4" y2="1951.8" stroke="#d2142e" stroke-width="2.6"/>
<path d="M1727.4 1989.8 L1734.2 1977.2 L1720.6 1977.2" stroke="none" stroke-width="1" fill="#d2142e"/>
<line x1="1755" y1="2025.1" x2="1755" y2="2001.4" stroke="#d2142e" stroke-width="2.6"/>
<line x1="1750" y1="2001.4" x2="1760" y2="2001.4" stroke="#d2142e" stroke-width="2.6"/>
<path d="M1755 2032.4 L1761.8 2019.8 L1748.2 2019.8" stroke="none" stroke-width="1" fill="#d2142e"/>
<line x1="1782.7" y1="2067.6" x2="1782.7" y2="2053.4" stroke="#d2142e" stroke-width="2.6"/>
<line x1="1777.7" y1="2053.4" x2="1787.7" y2="2053.4" stroke="#d2142e" stroke-width="2.6"/>
<path d="M1782.7 2074.9 L1789.5 2062.3 L1775.9 2062.3" stroke="none" stroke-width="1" fill="#d2142e"/>
<line x1="1810.3" y1="2095.9" x2="1810.3" y2="2088.8" stroke="#d2142e" stroke-width="2.6"/>
<line x1="1805.3" y1="2088.8" x2="1815.3" y2="2088.8" stroke="#d2142e" stroke-width="2.6"/>
<path d="M1810.3 2103.2 L1817.1 2090.6 L1803.5 2090.6" stroke="none" stroke-width="1" fill="#d2142e"/>
<line x1="1837.9" y1="2126.7" x2="1837.9" y2="2121.9" stroke="#d2142e" stroke-width="2.6"/>
<line x1="1832.9" y1="2121.9" x2="1842.9" y2="2121.9" stroke="#d2142e" stroke-width="2.6"/>
<path d="M1837.9 2134 L1844.7 2121.3 L1831.1 2121.3" stroke="none" stroke-width="1" fill="#d2142e"/>
<line x1="1616.9" y1="1930.6" x2="1616.9" y2="1906.9" stroke="#1f5ba8" stroke-width="2.6"/>
<line x1="1611.9" y1="1906.9" x2="1621.9" y2="1906.9" stroke="#1f5ba8" stroke-width="2.6"/>
<line x1="1611.9" y1="1930.6" x2="1621.9" y2="1930.6" stroke="#1f5ba8" stroke-width="2.6"/>
<rect x="1611.1" y="1913" width="11.6" height="11.6" fill="#1f5ba8" stroke="none" stroke-width="1"/>
<line x1="1672.2" y1="1984.9" x2="1672.2" y2="1937.7" stroke="#1f5ba8" stroke-width="2.6"/>
<line x1="1667.2" y1="1937.7" x2="1677.2" y2="1937.7" stroke="#1f5ba8" stroke-width="2.6"/>
<line x1="1667.2" y1="1984.9" x2="1677.2" y2="1984.9" stroke="#1f5ba8" stroke-width="2.6"/>
<rect x="1666.4" y="1955.5" width="11.6" height="11.6" fill="#1f5ba8" stroke="none" stroke-width="1"/>
<line x1="1699.8" y1="2010.9" x2="1699.8" y2="1963.6" stroke="#1f5ba8" stroke-width="2.6"/>
<line x1="1694.8" y1="1963.6" x2="1704.8" y2="1963.6" stroke="#1f5ba8" stroke-width="2.6"/>
<line x1="1694.8" y1="2010.9" x2="1704.8" y2="2010.9" stroke="#1f5ba8" stroke-width="2.6"/>
<rect x="1694" y="1981.5" width="11.6" height="11.6" fill="#1f5ba8" stroke="none" stroke-width="1"/>
<line x1="1727.4" y1="2036.9" x2="1727.4" y2="1999.1" stroke="#1f5ba8" stroke-width="2.6"/>
<line x1="1722.4" y1="1999.1" x2="1732.4" y2="1999.1" stroke="#1f5ba8" stroke-width="2.6"/>
<line x1="1722.4" y1="2036.9" x2="1732.4" y2="2036.9" stroke="#1f5ba8" stroke-width="2.6"/>
<rect x="1721.6" y="2012.2" width="11.6" height="11.6" fill="#1f5ba8" stroke="none" stroke-width="1"/>
<line x1="1755" y1="2072.3" x2="1755" y2="2039.2" stroke="#1f5ba8" stroke-width="2.6"/>
<line x1="1750" y1="2039.2" x2="1760" y2="2039.2" stroke="#1f5ba8" stroke-width="2.6"/>
<line x1="1750" y1="2072.3" x2="1760" y2="2072.3" stroke="#1f5ba8" stroke-width="2.6"/>
<rect x="1749.2" y="2050" width="11.6" height="11.6" fill="#1f5ba8" stroke="none" stroke-width="1"/>
<line x1="1782.7" y1="2112.5" x2="1782.7" y2="2093.6" stroke="#1f5ba8" stroke-width="2.6"/>
<line x1="1777.7" y1="2093.6" x2="1787.7" y2="2093.6" stroke="#1f5ba8" stroke-width="2.6"/>
<line x1="1777.7" y1="2112.5" x2="1787.7" y2="2112.5" stroke="#1f5ba8" stroke-width="2.6"/>
<rect x="1776.9" y="2097.2" width="11.6" height="11.6" fill="#1f5ba8" stroke="none" stroke-width="1"/>
<line x1="1810.3" y1="2124.3" x2="1810.3" y2="2110.1" stroke="#1f5ba8" stroke-width="2.6"/>
<line x1="1805.3" y1="2110.1" x2="1815.3" y2="2110.1" stroke="#1f5ba8" stroke-width="2.6"/>
<line x1="1805.3" y1="2124.3" x2="1815.3" y2="2124.3" stroke="#1f5ba8" stroke-width="2.6"/>
<rect x="1804.5" y="2111.4" width="11.6" height="11.6" fill="#1f5ba8" stroke="none" stroke-width="1"/>
<line x1="1837.9" y1="2138.5" x2="1837.9" y2="2129" stroke="#1f5ba8" stroke-width="2.6"/>
<line x1="1832.9" y1="2129" x2="1842.9" y2="2129" stroke="#1f5ba8" stroke-width="2.6"/>
<line x1="1832.9" y1="2138.5" x2="1842.9" y2="2138.5" stroke="#1f5ba8" stroke-width="2.6"/>
<rect x="1832.1" y="2127.9" width="11.6" height="11.6" fill="#1f5ba8" stroke="none" stroke-width="1"/>
<line x1="1616.9" y1="1918.8" x2="1616.9" y2="1932.9" stroke="#2f9a41" stroke-width="2.6"/>
<line x1="1611.9" y1="1932.9" x2="1621.9" y2="1932.9" stroke="#2f9a41" stroke-width="2.6"/>
<path d="M1616.9 1911.5 L1623.7 1924 L1610.1 1924" stroke="none" stroke-width="1" fill="#2f9a41"/>
<line x1="1672.2" y1="1996.7" x2="1672.2" y2="2008.5" stroke="#2f9a41" stroke-width="2.6"/>
<line x1="1667.2" y1="2008.5" x2="1677.2" y2="2008.5" stroke="#2f9a41" stroke-width="2.6"/>
<path d="M1672.2 1989.4 L1679 2002 L1665.4 2002" stroke="none" stroke-width="1" fill="#2f9a41"/>
<line x1="1699.8" y1="2044" x2="1699.8" y2="2053.4" stroke="#2f9a41" stroke-width="2.6"/>
<line x1="1694.8" y1="2053.4" x2="1704.8" y2="2053.4" stroke="#2f9a41" stroke-width="2.6"/>
<path d="M1699.8 2036.7 L1706.6 2049.3 L1693 2049.3" stroke="none" stroke-width="1" fill="#2f9a41"/>
<line x1="1727.4" y1="2086.5" x2="1727.4" y2="2091.2" stroke="#2f9a41" stroke-width="2.6"/>
<line x1="1722.4" y1="2091.2" x2="1732.4" y2="2091.2" stroke="#2f9a41" stroke-width="2.6"/>
<path d="M1727.4 2079.2 L1734.2 2091.8 L1720.6 2091.8" stroke="none" stroke-width="1" fill="#2f9a41"/>
<line x1="1755" y1="2110.1" x2="1755" y2="2114.8" stroke="#2f9a41" stroke-width="2.6"/>
<line x1="1750" y1="2114.8" x2="1760" y2="2114.8" stroke="#2f9a41" stroke-width="2.6"/>
<path d="M1755 2102.8 L1761.8 2115.4 L1748.2 2115.4" stroke="none" stroke-width="1" fill="#2f9a41"/>
<line x1="1782.7" y1="2126.7" x2="1782.7" y2="2131.4" stroke="#2f9a41" stroke-width="2.6"/>
<line x1="1777.7" y1="2131.4" x2="1787.7" y2="2131.4" stroke="#2f9a41" stroke-width="2.6"/>
<path d="M1782.7 2119.3 L1789.5 2132 L1775.9 2132" stroke="none" stroke-width="1" fill="#2f9a41"/>
<line x1="1810.3" y1="2140.8" x2="1810.3" y2="2145.6" stroke="#2f9a41" stroke-width="2.6"/>
<line x1="1805.3" y1="2145.6" x2="1815.3" y2="2145.6" stroke="#2f9a41" stroke-width="2.6"/>
<path d="M1810.3 2133.5 L1817.1 2146.1 L1803.5 2146.1" stroke="none" stroke-width="1" fill="#2f9a41"/>
<line x1="1837.9" y1="2143.2" x2="1837.9" y2="2147.9" stroke="#2f9a41" stroke-width="2.6"/>
<line x1="1832.9" y1="2147.9" x2="1842.9" y2="2147.9" stroke="#2f9a41" stroke-width="2.6"/>
<path d="M1837.9 2135.9 L1844.7 2148.5 L1831.1 2148.5" stroke="none" stroke-width="1" fill="#2f9a41"/>
<line x1="1616.9" y1="1930.6" x2="1616.9" y2="1906.9" stroke="#000" stroke-width="2.6"/>
<line x1="1611.9" y1="1906.9" x2="1621.9" y2="1906.9" stroke="#000" stroke-width="2.6"/>
<line x1="1611.9" y1="1930.6" x2="1621.9" y2="1930.6" stroke="#000" stroke-width="2.6"/>
<circle cx="1616.9" cy="1918.8" r="5.8" fill="#000"/>
<line x1="1672.2" y1="1989.6" x2="1672.2" y2="1966" stroke="#000" stroke-width="2.6"/>
<line x1="1667.2" y1="1966" x2="1677.2" y2="1966" stroke="#000" stroke-width="2.6"/>
<line x1="1667.2" y1="1989.6" x2="1677.2" y2="1989.6" stroke="#000" stroke-width="2.6"/>
<circle cx="1672.2" cy="1977.8" r="5.8" fill="#000"/>
<line x1="1699.8" y1="2034.5" x2="1699.8" y2="2010.9" stroke="#000" stroke-width="2.6"/>
<line x1="1694.8" y1="2010.9" x2="1704.8" y2="2010.9" stroke="#000" stroke-width="2.6"/>
<line x1="1694.8" y1="2034.5" x2="1704.8" y2="2034.5" stroke="#000" stroke-width="2.6"/>
<circle cx="1699.8" cy="2022.7" r="5.8" fill="#000"/>
<line x1="1727.4" y1="2079.4" x2="1727.4" y2="2065.2" stroke="#000" stroke-width="2.6"/>
<line x1="1722.4" y1="2065.2" x2="1732.4" y2="2065.2" stroke="#000" stroke-width="2.6"/>
<line x1="1722.4" y1="2079.4" x2="1732.4" y2="2079.4" stroke="#000" stroke-width="2.6"/>
<circle cx="1727.4" cy="2072.3" r="5.8" fill="#000"/>
<line x1="1755" y1="2100.7" x2="1755" y2="2086.5" stroke="#000" stroke-width="2.6"/>
<line x1="1750" y1="2086.5" x2="1760" y2="2086.5" stroke="#000" stroke-width="2.6"/>
<line x1="1750" y1="2100.7" x2="1760" y2="2100.7" stroke="#000" stroke-width="2.6"/>
<circle cx="1755" cy="2093.6" r="5.8" fill="#000"/>
<line x1="1782.7" y1="2117.2" x2="1782.7" y2="2107.8" stroke="#000" stroke-width="2.6"/>
<line x1="1777.7" y1="2107.8" x2="1787.7" y2="2107.8" stroke="#000" stroke-width="2.6"/>
<line x1="1777.7" y1="2117.2" x2="1787.7" y2="2117.2" stroke="#000" stroke-width="2.6"/>
<circle cx="1782.7" cy="2112.5" r="5.8" fill="#000"/>
<line x1="1810.3" y1="2136.1" x2="1810.3" y2="2126.7" stroke="#000" stroke-width="2.6"/>
<line x1="1805.3" y1="2126.7" x2="1815.3" y2="2126.7" stroke="#000" stroke-width="2.6"/>
<line x1="1805.3" y1="2136.1" x2="1815.3" y2="2136.1" stroke="#000" stroke-width="2.6"/>
<circle cx="1810.3" cy="2131.4" r="5.8" fill="#000"/>
<line x1="1837.9" y1="2145.6" x2="1837.9" y2="2136.1" stroke="#000" stroke-width="2.6"/>
<line x1="1832.9" y1="2136.1" x2="1842.9" y2="2136.1" stroke="#000" stroke-width="2.6"/>
<line x1="1832.9" y1="2145.6" x2="1842.9" y2="2145.6" stroke="#000" stroke-width="2.6"/>
<circle cx="1837.9" cy="2140.8" r="5.8" fill="#000"/>
<path d="M1579.5 1870 L1579.5 2155 L1856.7 2155" stroke="#000" stroke-width="5" fill="none" stroke-linejoin="round" stroke-linecap="round"/>
<line x1="1567.9" y1="2155" x2="1579.5" y2="2155" stroke="#000" stroke-width="5"/>
<text x="1564" y="2166.5" font-size="32.5" text-anchor="end" stroke="#000" stroke-width="0.5">0</text>
<line x1="1567.9" y1="2107.8" x2="1579.5" y2="2107.8" stroke="#000" stroke-width="5"/>
<text x="1564" y="2119.2" font-size="32.5" text-anchor="end" stroke="#000" stroke-width="0.5" textLength="32.5" lengthAdjust="spacingAndGlyphs">20</text>
<line x1="1567.9" y1="2060.5" x2="1579.5" y2="2060.5" stroke="#000" stroke-width="5"/>
<text x="1564" y="2072" font-size="32.5" text-anchor="end" stroke="#000" stroke-width="0.5" textLength="32.5" lengthAdjust="spacingAndGlyphs">40</text>
<line x1="1567.9" y1="2013.2" x2="1579.5" y2="2013.2" stroke="#000" stroke-width="5"/>
<text x="1564" y="2024.8" font-size="32.5" text-anchor="end" stroke="#000" stroke-width="0.5" textLength="32.5" lengthAdjust="spacingAndGlyphs">60</text>
<line x1="1567.9" y1="1966" x2="1579.5" y2="1966" stroke="#000" stroke-width="5"/>
<text x="1564" y="1977.5" font-size="32.5" text-anchor="end" stroke="#000" stroke-width="0.5" textLength="32.5" lengthAdjust="spacingAndGlyphs">80</text>
<line x1="1567.9" y1="1918.8" x2="1579.5" y2="1918.8" stroke="#000" stroke-width="5"/>
<text x="1564" y="1930.2" font-size="32.5" text-anchor="end" stroke="#000" stroke-width="0.5" textLength="48.8" lengthAdjust="spacingAndGlyphs">100</text>
<line x1="1567.9" y1="1871.5" x2="1579.5" y2="1871.5" stroke="#000" stroke-width="5"/>
<text x="1564" y="1883" font-size="32.5" text-anchor="end" stroke="#000" stroke-width="0.5" textLength="48.8" lengthAdjust="spacingAndGlyphs">120</text>
<line x1="1633.5" y1="2155" x2="1633.5" y2="2166" stroke="#000" stroke-width="5"/>
<text x="1633.5" y="2201" font-size="31.5" text-anchor="middle" stroke="#000" stroke-width="0.5" textLength="34" lengthAdjust="spacingAndGlyphs">40</text>
<line x1="1744" y1="2155" x2="1744" y2="2166" stroke="#000" stroke-width="5"/>
<text x="1744" y="2201" font-size="31.5" text-anchor="middle" stroke="#000" stroke-width="0.5" textLength="34" lengthAdjust="spacingAndGlyphs">60</text>
<line x1="1854.5" y1="2155" x2="1854.5" y2="2166" stroke="#000" stroke-width="5"/>
<text x="1854.5" y="2201" font-size="31.5" text-anchor="middle" stroke="#000" stroke-width="0.5" textLength="34" lengthAdjust="spacingAndGlyphs">80</text>
<text x="1561.1" y="2249.6" font-size="40" stroke="#000" stroke-width="0.5" textLength="311" lengthAdjust="spacingAndGlyphs">Temperature (°C)</text>
<text x="1493.1" y="2171" font-size="39.3" stroke="#000" stroke-width="0.5" textLength="332" lengthAdjust="spacingAndGlyphs" transform="rotate(-90 1493.1 2171)">Band Intensity (%)</text>
<line x1="1470.6" y1="1762.1" x2="1494.6" y2="1762.1" stroke="#000" stroke-width="3.2"/>
<circle cx="1482.6" cy="1762.1" r="5" fill="#000"/>
<text x="1509.1" y="1773.3" font-size="29" stroke="#000" stroke-width="0.5" textLength="104" lengthAdjust="spacingAndGlyphs">FTO-NT</text>
<line x1="1655.4" y1="1762.1" x2="1679.4" y2="1762.1" stroke="#1f5ba8" stroke-width="3.2"/>
<rect x="1662.4" y="1757.1" width="10" height="10" fill="#1f5ba8" stroke="none" stroke-width="1"/>
<text x="1693.9" y="1773.3" font-size="29" stroke="#000" stroke-width="0.5" textLength="224" lengthAdjust="spacingAndGlyphs">FTO-NT+NADPH</text>
<line x1="1470.6" y1="1807.8" x2="1494.6" y2="1807.8" stroke="#2f9a41" stroke-width="3.2"/>
<path d="M1482.6 1801.3 L1488.6 1812.3 L1476.6 1812.3" stroke="none" stroke-width="1" fill="#2f9a41"/>
<text x="1509.1" y="1819" font-size="29" stroke="#000" stroke-width="0.5" textLength="104" lengthAdjust="spacingAndGlyphs">FTO-CT</text>
<line x1="1655.4" y1="1807.8" x2="1679.4" y2="1807.8" stroke="#d2142e" stroke-width="3.2"/>
<path d="M1667.4 1814.3 L1673.4 1803.3 L1661.4 1803.3" stroke="none" stroke-width="1" fill="#d2142e"/>
<text x="1693.9" y="1819" font-size="29" stroke="#000" stroke-width="0.5" textLength="224" lengthAdjust="spacingAndGlyphs">FTO-CT+NADPH</text>
</svg>
</body></html>
